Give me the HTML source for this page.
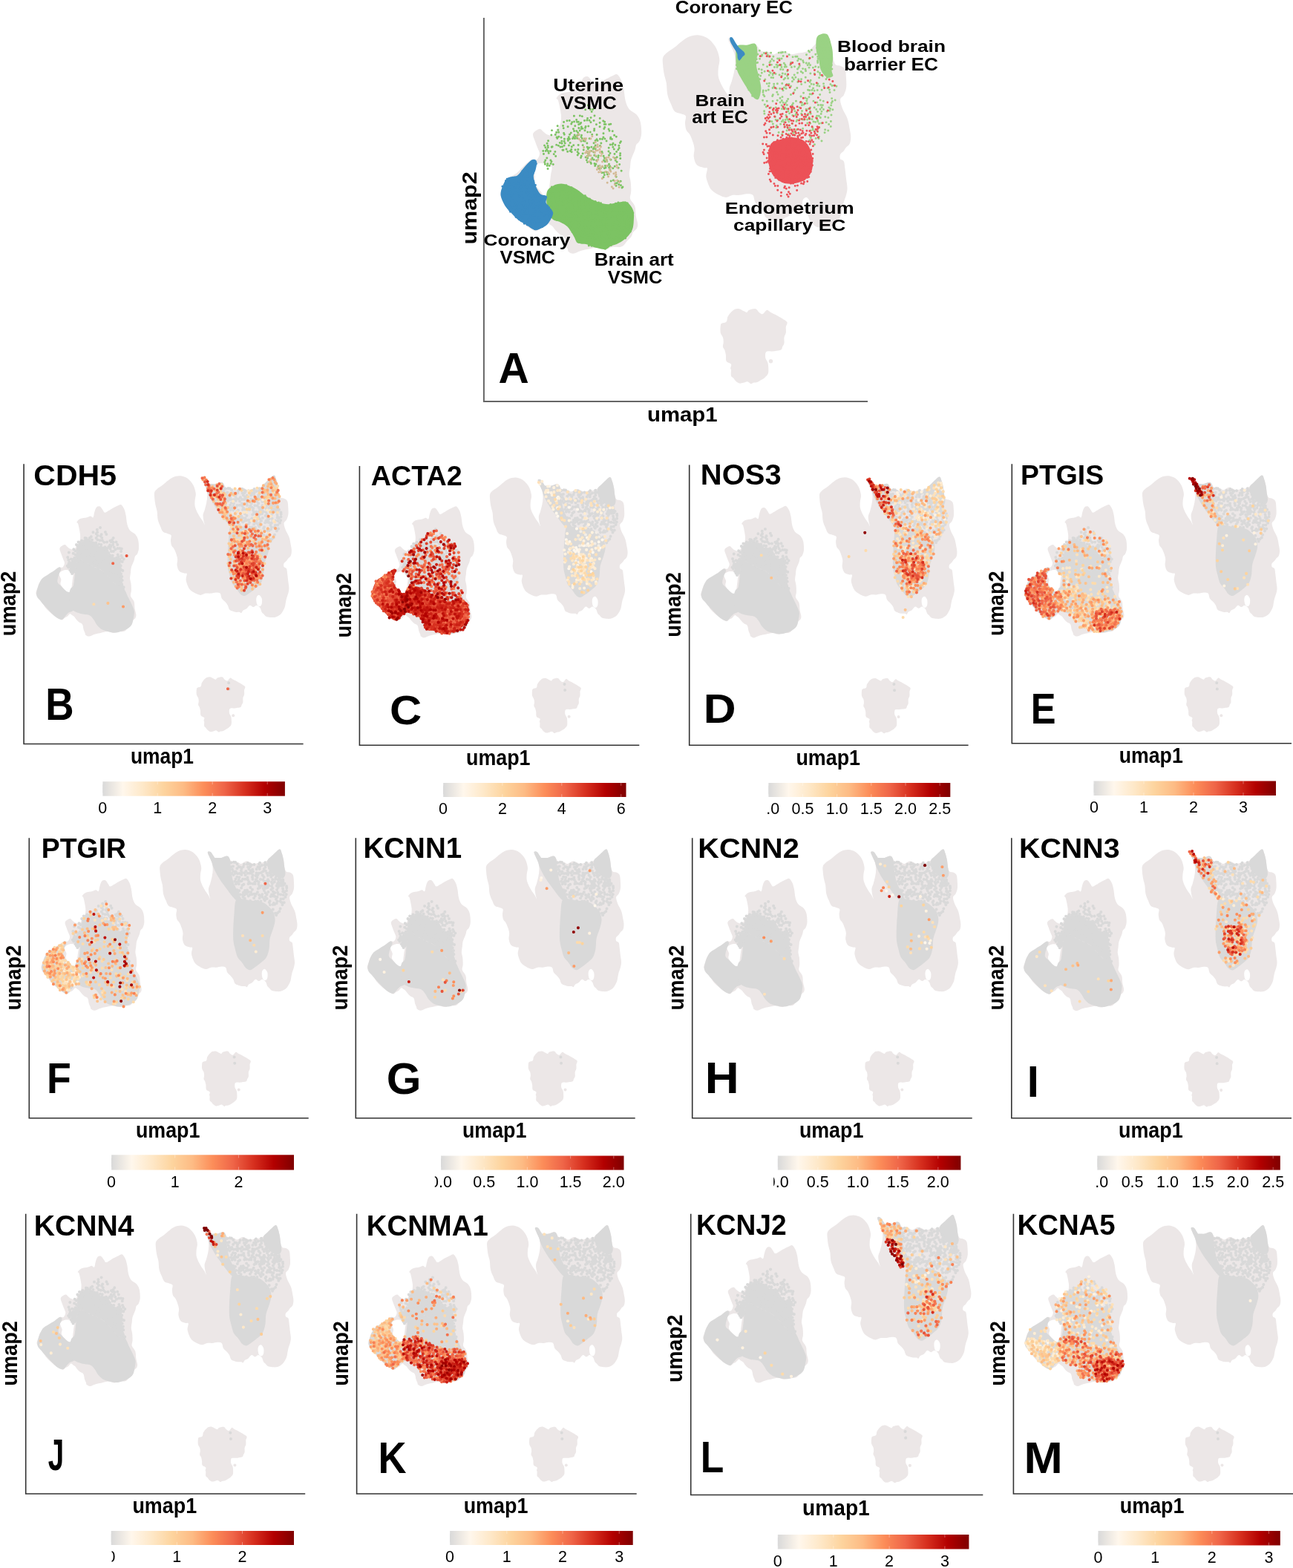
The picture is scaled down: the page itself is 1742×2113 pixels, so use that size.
<!DOCTYPE html><html><head><meta charset="utf-8"><style>html,body{margin:0;padding:0;background:#fff}svg{display:block}</style></head><body>
<svg xmlns="http://www.w3.org/2000/svg" xmlns:xlink="http://www.w3.org/1999/xlink" width="1742" height="2113" viewBox="0 0 1742 2113">
<rect width="1742" height="2113" fill="#fff"/>
<defs>
<linearGradient id="cb"><stop offset="0.0000" stop-color="#d9d9d9"/><stop offset="0.1111" stop-color="#fff7ec"/><stop offset="0.2222" stop-color="#fee8c8"/><stop offset="0.3333" stop-color="#fdd49e"/><stop offset="0.4444" stop-color="#fdbb84"/><stop offset="0.5556" stop-color="#fc8d59"/><stop offset="0.6667" stop-color="#ef6548"/><stop offset="0.7778" stop-color="#d7301f"/><stop offset="0.8889" stop-color="#b30000"/><stop offset="1.0000" stop-color="#7f0000"/></linearGradient>
<g id="base" fill="#ece7e7">
<path d="M609.4 1184.1C610.9 1184.9 612.5 1187.8 613.6 1190.1C614.6 1192.5 615.2 1195.1 615.9 1198.4C616.6 1201.8 616.8 1207 617.7 1210.4C618.6 1213.8 619.6 1216.4 621.4 1218.7C623.2 1221 626.9 1222.1 628.8 1224.2C630.6 1226.4 631.7 1228.5 632.5 1231.6C633.2 1234.7 633.5 1239.6 633.4 1242.7C633.2 1245.7 632.4 1248.2 631.5 1250C630.7 1251.9 629.1 1252.2 628.3 1253.7C627.5 1255.3 627.8 1256.8 626.9 1259.3C626.1 1261.7 624 1265.7 623.2 1268.5C622.5 1271.2 622.6 1273.4 622.3 1275.9C622 1278.3 621.3 1280.8 621.4 1283.2C621.5 1285.7 622.5 1287.8 622.8 1290.6C623.1 1293.4 623.3 1297.1 623.2 1299.8C623.2 1302.6 621.7 1304.7 622.3 1307.2C622.9 1309.6 626 1311.8 626.9 1314.6C627.9 1317.3 627.4 1320.9 627.9 1323.8C628.3 1326.7 629.5 1329.9 629.7 1332.1C629.9 1334.2 629.5 1335.3 628.8 1336.7C628 1338.1 626 1339 625.1 1340.4C624.2 1341.8 624.2 1343.6 623.2 1345C622.3 1346.4 620.8 1347.3 619.6 1348.7C618.3 1350 617.1 1352.2 615.9 1353.3C614.6 1354.3 614 1354.8 612.2 1355.1C610.3 1355.4 607.1 1354.8 604.8 1355.1C602.5 1355.4 600.7 1357 598.4 1357C596.1 1357 593.8 1355.1 591 1355.1C588.2 1355.1 584.7 1356.3 581.8 1357C578.9 1357.6 576.1 1358 573.5 1358.8C570.9 1359.6 568.1 1361.4 566.1 1361.6C564.1 1361.7 562.4 1360.5 561.5 1359.7C560.6 1359 561 1358.2 560.6 1357C560.1 1355.7 559.3 1354.3 558.7 1352.4C558.1 1350.4 558 1346.7 556.9 1345C555.8 1343.3 553.7 1343.3 552.3 1342.2C550.9 1341.1 549.7 1339.8 548.6 1338.5C547.5 1337.3 546.8 1335.8 545.8 1334.8C544.9 1333.9 544 1333.6 543.1 1333C542.1 1332.4 541.4 1330.8 540.3 1331.2C539.2 1331.5 537.8 1333.9 536.6 1334.8C535.4 1335.8 534.2 1335.9 532.9 1336.7C531.7 1337.5 530.8 1339.4 529.2 1339.4C527.7 1339.4 525.6 1337.8 523.7 1336.7C521.9 1335.6 520 1334.4 518.2 1333C516.3 1331.6 514.5 1330.1 512.6 1328.4C510.8 1326.7 508.8 1325 507.1 1322.9C505.4 1320.7 504 1317.8 502.5 1315.5C501 1313.2 499.3 1311 497.9 1309C496.5 1307.1 494.5 1306 494.2 1304C493.9 1302 495.3 1299.4 496.1 1297.1C496.8 1294.7 497.6 1291.5 498.8 1289.7C500.1 1287.8 501.6 1287.2 503.4 1286C505.3 1284.8 508 1283.7 509.9 1282.3C511.7 1280.9 512.8 1279.4 514.5 1277.7C516.2 1276 518.2 1273.7 520 1272.2C521.9 1270.6 523.9 1269.1 525.6 1268.5C527.2 1267.9 528.9 1269.4 530.2 1268.5C531.4 1267.6 532.8 1264.8 532.9 1262.9C533.1 1261.1 531.9 1259.6 531.1 1257.4C530.3 1255.3 529.1 1252.5 528.3 1250C527.5 1247.6 525.7 1244.7 526.5 1242.7C527.2 1240.7 531.2 1238.4 532.9 1238.1C534.6 1237.8 535.4 1239.9 536.6 1240.8C537.8 1241.8 538.8 1243 540.3 1243.6C541.8 1244.2 544.3 1245.3 545.8 1244.5C547.4 1243.7 548.3 1240.8 549.5 1239C550.7 1237.1 552.4 1235.9 553.2 1233.5C554 1231 554.4 1228.1 554.1 1224.2C553.8 1220.4 552.1 1213.2 551.4 1210.4C550.6 1207.6 549.1 1208.9 549.5 1207.6C550 1206.4 551.8 1204.1 554.1 1203C556.4 1202 561 1201.8 563.3 1201.2C565.6 1200.6 566.6 1199.4 567.9 1199.4C569.3 1199.4 570.7 1202.1 571.6 1201.2C572.6 1200.3 572.7 1196.1 573.5 1193.8C574.2 1191.5 575 1188.6 576.2 1187.4C577.5 1186.1 579.5 1185.8 580.9 1186.5C582.2 1187.1 583.5 1189.7 584.5 1191.1C585.6 1192.4 585.9 1194.6 587.3 1194.7C588.7 1194.9 591.1 1192.9 592.8 1192C594.5 1191.1 595.4 1190.3 597.4 1189.2C599.4 1188.1 602.8 1186.4 604.8 1185.5C606.8 1184.7 608 1183.4 609.4 1184.1Z"/>
<path d="M689.2 1145.2C692.2 1145.4 695.7 1146.4 698.4 1148.1C701.1 1149.7 703.6 1152.7 705.3 1155C707 1157.3 707.9 1159.4 708.8 1161.9C709.6 1164.4 710.4 1167.3 710.5 1170C710.6 1172.6 709.5 1175.3 709.3 1178C709.1 1180.7 708.9 1183.4 709.3 1186.1C709.8 1188.8 711.1 1191.7 712.2 1194.1C713.4 1196.6 714.9 1198.9 716.2 1201.1C717.6 1203.2 719.2 1205.1 720.3 1206.8C721.3 1208.5 722.5 1211.8 722.6 1211.4C722.7 1211 721.2 1206.8 720.9 1204.5C720.5 1202.2 720 1199.9 720.3 1197.6C720.6 1195.3 721.8 1193.4 722.6 1190.7C723.3 1188 724.3 1184.5 724.9 1181.5C725.5 1178.4 726 1175.3 726 1172.3C726 1169.2 725.7 1165.9 724.9 1163C724.1 1160.2 722.4 1157.3 721.4 1155C720.5 1152.7 719.1 1150.4 719.1 1149.2C719.1 1148.1 720.5 1147.7 721.4 1148.1C722.4 1148.4 723.7 1150 724.9 1151.5C726 1153.1 727 1156.1 728.3 1157.3C729.7 1158.4 731.4 1158.6 732.9 1158.4C734.5 1158.2 735.6 1156.9 737.6 1156.1C739.5 1155.4 742.7 1153.8 744.5 1153.8C746.2 1153.8 746.8 1155 747.9 1156.1C749.1 1157.3 749.5 1159.8 751.4 1160.7C753.3 1161.7 757.3 1161.3 759.4 1161.9C761.6 1162.5 762.1 1164.4 764.1 1164.2C766 1164 769 1161.1 771 1160.7C772.9 1160.4 773.8 1161.3 775.6 1161.9C777.3 1162.5 779.2 1164 781.3 1164.2C783.4 1164.4 785.9 1163.4 788.2 1163C790.6 1162.7 793.2 1162.5 795.2 1161.9C797.1 1161.3 798 1160.9 799.8 1159.6C801.5 1158.2 803.6 1155.6 805.5 1153.8C807.5 1152.1 809.6 1150.8 811.3 1149.2C813 1147.7 814.6 1144.4 815.9 1144.6C817.2 1144.8 818.4 1147.9 819.4 1150.4C820.3 1152.9 821.1 1156.5 821.7 1159.6C822.2 1162.7 822.2 1166.3 822.8 1168.8C823.4 1171.3 824 1173.4 825.1 1174.6C826.3 1175.7 828.2 1174.9 829.7 1175.7C831.3 1176.5 833.4 1177.1 834.3 1179.2C835.3 1181.3 835.3 1185.3 835.5 1188.4C835.7 1191.5 835.9 1194.9 835.5 1197.6C835.1 1200.3 834.1 1202.6 833.2 1204.5C832.2 1206.4 829.9 1206.8 829.7 1209.1C829.5 1211.4 830.9 1215.3 832 1218.3C833.2 1221.4 835.5 1224.3 836.6 1227.6C837.8 1230.8 838.4 1234.9 838.9 1237.9C839.5 1241 840.1 1243.5 840.1 1246C840.1 1248.5 839.7 1251.2 838.9 1252.9C838.2 1254.6 836.4 1255.2 835.5 1256.4C834.5 1257.5 834.1 1258.7 833.2 1259.8C832.2 1261 830.3 1261.9 829.7 1263.3C829.1 1264.6 829.1 1266.7 829.7 1267.9C830.3 1269 832.4 1268.6 833.2 1270.2C833.9 1271.7 833.9 1274.2 834.3 1277.1C834.7 1280 835.1 1284.2 835.5 1287.5C835.9 1290.7 836.6 1294 836.6 1296.7C836.6 1299.4 836.1 1301.3 835.5 1303.6C834.9 1305.9 833.8 1308.4 833.2 1310.5C832.6 1312.6 832.4 1314.3 832 1316.3C831.6 1318.2 831.6 1319.9 830.9 1322C830.1 1324.1 828.8 1327 827.4 1328.9C826.1 1330.9 824.5 1332.4 822.8 1333.5C821.1 1334.7 819 1335.5 817.1 1335.9C815.1 1336.2 813.2 1336 811.3 1335.9C809.4 1335.7 807.1 1335.5 805.5 1334.7C804 1333.9 803 1332.2 802.1 1331.2C801.1 1330.3 800.5 1330.3 799.8 1328.9C799 1327.6 798.6 1324.7 797.5 1323.2C796.3 1321.6 794.4 1319.9 792.9 1319.7C791.3 1319.5 789.8 1322 788.2 1322C786.7 1322 785.2 1319.3 783.6 1319.7C782.1 1320.1 780.6 1323.2 779 1324.3C777.5 1325.5 775.6 1325.7 774.4 1326.6C773.3 1327.6 772.9 1329.7 772.1 1330.1C771.4 1330.5 771 1329.1 769.8 1328.9C768.7 1328.7 766.7 1329.1 765.2 1328.9C763.7 1328.7 762.1 1328.4 760.6 1327.8C759.1 1327.2 757.1 1326.8 756 1325.5C754.8 1324.1 754.6 1321.5 753.7 1319.7C752.7 1318 751.6 1316.7 750.2 1315.1C748.9 1313.6 746.8 1312.4 745.6 1310.5C744.5 1308.6 744.7 1304.9 743.3 1303.6C742 1302.3 739.7 1302.4 737.6 1302.4C735.4 1302.4 732.9 1303.4 730.6 1303.6C728.3 1303.8 726 1303.2 723.7 1303.6C721.4 1304 719.1 1305.9 716.8 1305.9C714.5 1305.9 712.2 1304.7 709.9 1303.6C707.6 1302.4 704.7 1300.7 703 1299C701.3 1297.3 700.5 1295.5 699.5 1293.2C698.6 1290.9 697.4 1287.8 697.2 1285.2C697 1282.5 698.8 1278.5 698.4 1277.1C698 1275.7 696.7 1277.1 694.9 1276.5C693.2 1275.9 689.7 1275.5 688 1273.6C686.4 1271.8 685.5 1268.3 685.1 1265.6C684.8 1262.9 685.9 1260 685.7 1257.5C685.5 1255 684.8 1252.9 684 1250.6C683.2 1248.3 682.2 1245.6 681.1 1243.7C680 1241.8 678.4 1241 677.6 1239.1C676.9 1237.2 676.6 1234.5 676.5 1232.2C676.4 1229.9 677.8 1226.8 677.1 1225.3C676.3 1223.7 673.7 1223.7 671.9 1222.9C670.1 1222.2 667.7 1222.2 666.1 1220.6C664.6 1219.1 663.8 1216.4 662.7 1213.7C661.5 1211 660 1208 659.2 1204.5C658.4 1201.1 658.6 1196.5 658.1 1193C657.5 1189.5 656.3 1186.9 655.8 1183.8C655.2 1180.7 654.8 1177.3 654.6 1174.6C654.4 1171.9 654 1169.6 654.6 1167.6C655.2 1165.7 656.1 1164.8 658.1 1163C660 1161.3 663.6 1159.2 666.1 1157.3C668.6 1155.4 670.7 1153.2 673 1151.5C675.3 1149.8 677.3 1148 680 1146.9C682.6 1145.9 686.1 1145 689.2 1145.2Z"/>
<path d="M725.3 1416.9C726.5 1416.5 728.4 1416 730 1416.3C731.5 1416.6 733.3 1418.1 734.6 1418.6C735.8 1419.2 736.6 1420 737.4 1419.8C738.3 1419.6 738.3 1418.1 739.7 1417.5C741.2 1416.9 744.5 1416 746.1 1416.3C747.7 1416.7 748.4 1418.9 749.5 1419.8C750.7 1420.7 751.9 1421.7 753 1421.5C754.1 1421.3 755.1 1419.3 755.9 1418.6C756.6 1418 756.7 1417.3 757.6 1417.5C758.5 1417.7 759.7 1419 761.1 1419.8C762.4 1420.6 763.7 1421 765.7 1422.1C767.6 1423.2 770.7 1424.9 772.6 1426.1C774.5 1427.4 776.6 1428.2 777.2 1429.6C777.8 1430.9 776.2 1432.5 776 1434.2C775.8 1435.9 776.3 1438.2 776 1440C775.7 1441.7 774.6 1442.8 774.3 1444.6C774 1446.3 774.6 1448.8 774.3 1450.3C774 1451.9 773.1 1452.7 772.6 1453.8C772.1 1454.8 772.4 1456 771.4 1456.7C770.5 1457.3 768.4 1457.5 766.8 1457.8C765.3 1458.1 763.7 1458.3 762.2 1458.4C760.7 1458.5 758.7 1458.1 757.6 1458.4C756.5 1458.7 756.2 1459 755.9 1460.1C755.6 1461.3 755.5 1463.7 755.9 1465.3C756.3 1466.9 757.7 1468 758.2 1469.9C758.7 1471.8 758.8 1475 758.8 1476.8C758.8 1478.6 758.8 1479.6 758.2 1480.9C757.6 1482.1 756.4 1483.3 755.3 1484.3C754.2 1485.3 753.1 1485.8 751.8 1486.6C750.6 1487.4 749.2 1488.4 747.8 1488.9C746.5 1489.4 744.8 1489.2 743.8 1489.5C742.7 1489.8 742.4 1490.8 741.5 1490.6C740.5 1490.5 739.3 1488.5 738 1488.3C736.8 1488.1 735.3 1489.2 734 1489.5C732.6 1489.8 731.2 1490.4 730 1490.1C728.7 1489.8 727.5 1488.6 726.5 1487.8C725.5 1486.9 725 1485.7 724.2 1484.9C723.4 1484 722.3 1483.9 721.9 1482.6C721.5 1481.2 722 1478.1 721.9 1476.8C721.8 1475.6 721.3 1476.1 721.3 1475.1C721.3 1474.1 722.6 1472.2 721.9 1471.1C721.2 1469.9 718.1 1469.7 717.3 1468.2C716.4 1466.6 717 1463.7 716.7 1461.8C716.4 1460 716 1458.6 715.6 1457.2C715.1 1455.9 714 1455.1 713.8 1453.8C713.6 1452.4 714.4 1450.7 714.4 1449.2C714.4 1447.6 714.3 1446.1 713.8 1444.6C713.3 1443 711.9 1441.9 711.5 1440C711.1 1438 711.3 1434.6 711.5 1433C711.7 1431.5 711.7 1431.4 712.7 1430.7C713.6 1430.1 716.3 1430.1 717.3 1429C718.2 1428 717.9 1425.7 718.4 1424.4C719 1423.1 720 1421.9 720.7 1420.9C721.5 1420 722.3 1419.3 723 1418.6C723.8 1418 724.2 1417.3 725.3 1416.9Z"/>
<path fill="#fff" d="M526 1275.9C527.1 1274.5 530.5 1272.6 532.9 1272.2C535.3 1271.7 538.3 1272.5 540.3 1273.1C542.3 1273.7 544.3 1274.2 544.9 1275.9C545.5 1277.5 544.3 1280.8 544 1283.2C543.7 1285.7 543.4 1288.1 543.1 1290.6C542.8 1293.1 542.6 1295.4 542.1 1298C541.7 1300.6 541.2 1305.3 540.3 1306.3C539.4 1307.2 537.8 1304.7 536.6 1303.5C535.4 1302.3 534.2 1300.4 532.9 1298.9C531.7 1297.4 530.2 1295.7 529.2 1294.3C528.3 1292.9 527.5 1292.1 527.4 1290.6C527.2 1289.1 528.5 1286.8 528.3 1285.1C528.2 1283.4 526.9 1282 526.5 1280.5C526.1 1278.9 524.9 1277.2 526 1275.9Z"/>
<path fill="#fff" d="M792.9 1308.2C793.5 1306.9 795.2 1305.5 796.3 1305.9C797.5 1306.3 799.2 1308.6 799.8 1310.5C800.3 1312.4 800.2 1315.7 799.8 1317.4C799.4 1319.1 798.4 1320.5 797.5 1320.9C796.5 1321.3 794.9 1320.9 794 1319.7C793.1 1318.6 792.5 1315.9 792.3 1314C792.1 1312 792.2 1309.5 792.9 1308.2Z"/>
<path d="M761.1 1468.2h0" stroke="#ece7e7" stroke-width="4.00" stroke-linecap="round" fill="none"/>
</g>
<g id="hl" fill="#d9d9d9">
<path d="M494.9 1304.6C494.9 1299.9 498.2 1290.4 500.8 1286C503.4 1281.6 507.6 1280.3 510.6 1278.2C513.5 1276 516 1274.9 518.4 1273.3C520.9 1271.6 523.6 1268.7 525.3 1268.4C526.9 1268 528.2 1269.7 528.2 1271.3C528.2 1272.9 526.1 1275.4 525.3 1278.1C524.5 1280.9 523 1285.5 523.3 1287.9C523.6 1290.4 525.8 1291.2 527.2 1292.8C528.7 1294.5 530.5 1296.3 532.1 1297.7C533.8 1299.2 535.4 1300.8 537 1301.6C538.7 1302.4 540.7 1301.3 542.1 1302.6C543.6 1303.8 545.1 1306.4 545.8 1309C546.6 1311.6 546.9 1315.3 546.8 1318.2C546.6 1321.2 546.2 1324.7 544.9 1326.5C543.6 1328.4 540.6 1328.2 539 1329.3C537.4 1330.4 536.7 1331.4 535.1 1333C533.4 1334.6 531.6 1338.5 529.2 1338.9C526.7 1339.2 523.5 1337.2 520.4 1335C517.3 1332.7 513.8 1328.6 510.6 1325.2C507.3 1321.7 503.4 1317.8 500.8 1314.4C498.2 1311 494.9 1309.3 494.9 1304.6Z"/>
<path d="M539 1306.6C539 1302.5 540 1300 540.9 1297.7C541.9 1295.5 543.9 1296.1 544.9 1292.8C545.8 1289.6 546.2 1283 546.8 1278.1C547.5 1273.3 547.5 1266.7 548.8 1263.5C550.1 1260.2 552 1258.6 554.7 1258.6C557.3 1258.6 561.2 1261.8 564.4 1263.5C567.7 1265.1 571 1266.7 574.2 1268.4C577.5 1270 580.8 1270.8 584 1273.3C587.3 1275.7 590.6 1279.8 593.8 1283.1C597.1 1286.3 600.4 1290.4 603.6 1292.8C606.9 1295.3 611 1295.3 613.4 1297.7C615.9 1300.2 616.7 1304.3 618.3 1307.5C620 1310.8 621.8 1314.1 623.2 1317.3C624.7 1320.6 626.6 1323.9 627.1 1327.1C627.6 1330.4 626.8 1333.6 626.2 1336.9C625.5 1340.2 625 1344.1 623.2 1346.7C621.4 1349.3 618.7 1351 615.4 1352.6C612.1 1354.2 607.2 1356 603.6 1356.5C600 1357 597.1 1356.2 593.8 1355.5C590.6 1354.9 586.8 1354 584 1352.6C581.3 1351.1 579.2 1349 577.2 1346.7C575.2 1344.4 574.1 1341.2 572.3 1338.9C570.5 1336.6 569.3 1334.3 566.4 1333C563.5 1331.7 558.3 1332 554.7 1331C551.1 1330.1 547.1 1328.6 544.9 1327.1C542.6 1325.6 541.9 1325.7 540.9 1322.2C540 1318.8 539 1310.6 539 1306.6Z"/>
<path d="M719.1 1148.1C719.5 1147.1 721.8 1147.1 723.2 1148.1C724.5 1149 725.9 1151.9 727.2 1153.8C728.4 1155.7 729.5 1157.7 730.6 1159.6C731.8 1161.5 733.2 1163.4 734.1 1165.3C735 1167.3 736 1169.8 735.8 1171.1C735.6 1172.5 734 1173.8 732.9 1173.4C731.9 1173 730.8 1170.7 729.5 1168.8C728.1 1166.9 726.3 1164.4 724.9 1161.9C723.4 1159.4 721.8 1156.1 720.9 1153.8C719.9 1151.5 718.7 1149 719.1 1148.1Z"/>
<path d="M723.7 1157.3C724.7 1156.1 728.3 1156.3 730.6 1156.1C732.9 1155.9 735.1 1156.5 737.6 1156.1C740.1 1155.7 743.7 1153.4 745.6 1153.8C747.5 1154.2 748.3 1155.9 749.1 1158.4C749.8 1160.9 749.8 1165.5 750.2 1168.8C750.6 1172.1 750.8 1174.8 751.4 1178C752 1181.3 752.5 1184.9 753.7 1188.4C754.8 1191.8 756.8 1195.5 758.3 1198.8C759.8 1202 761.8 1205.5 762.9 1208C764.1 1210.5 766 1212.8 765.2 1213.7C764.4 1214.7 760.6 1214.9 758.3 1213.7C756 1212.6 753.7 1209.5 751.4 1206.8C749.1 1204.1 746.8 1200.7 744.5 1197.6C742.2 1194.5 739.7 1191.5 737.6 1188.4C735.4 1185.3 733.5 1182.2 731.8 1179.2C730.1 1176.1 728.3 1172.6 727.2 1170C726 1167.3 725.5 1165.2 724.9 1163C724.3 1160.9 722.8 1158.4 723.7 1157.3Z"/>
<path d="M757.1 1213.7C758.9 1210.3 761.9 1211.4 765.2 1211.4C768.5 1211.4 772.9 1213.2 776.7 1213.7C780.6 1214.3 784.8 1214.1 788.2 1214.9C791.7 1215.7 794.4 1216.2 797.5 1218.3C800.5 1220.5 804.6 1224.1 806.7 1227.6C808.8 1231 809.9 1235.2 810.1 1239.1C810.3 1242.9 809 1246.4 807.8 1250.6C806.7 1254.8 804.2 1259.8 803.2 1264.4C802.3 1269 802.8 1274 802.1 1278.2C801.3 1282.5 800.3 1286.7 798.6 1289.8C796.9 1292.8 794.4 1294.4 791.7 1296.7C789 1299 785 1301.9 782.5 1303.6C780 1305.3 778.6 1306.9 776.7 1307.1C774.8 1307.2 772.9 1306.5 771 1304.7C769 1303 767.1 1299.2 765.2 1296.7C763.3 1294.2 761 1292.8 759.4 1289.8C757.9 1286.7 757 1282.1 756 1278.2C755 1274.4 754.1 1271.5 753.7 1266.7C753.3 1261.9 753.5 1255.2 753.7 1249.4C753.9 1243.7 754.3 1238.1 754.8 1232.2C755.4 1226.2 755.4 1217.2 757.1 1213.7Z"/>
<path d="M799.8 1159.6C800.7 1157.3 802.8 1156.3 805.5 1153.8C808.2 1151.3 813.6 1145.2 815.9 1144.6C818.2 1144 818.4 1147.9 819.4 1150.4C820.3 1152.9 821.1 1156.5 821.7 1159.6C822.2 1162.7 822.4 1165.7 822.8 1168.8C823.2 1171.9 824.3 1175.5 824 1178C823.6 1180.5 822.6 1183.2 820.5 1183.8C818.4 1184.4 814 1183 811.3 1181.5C808.6 1179.9 806.3 1176.9 804.4 1174.6C802.5 1172.3 800.5 1170.1 799.8 1167.6C799 1165.2 798.8 1161.9 799.8 1159.6Z"/>
<path d="M540.3 1272.2C539.5 1269.4 540.9 1261.4 542.1 1259.3C543.4 1257.1 546 1262.9 547.7 1259.3C549.4 1255.6 550.3 1241.3 552.3 1237.1C554.3 1233 556.8 1235.1 559.6 1234.4C562.3 1233.6 565.7 1231.7 568.8 1232.5C571.9 1233.4 574.9 1238 578 1239.4C581.1 1240.9 585 1239.5 587.2 1241.3C589.4 1243.1 588.7 1247.7 591 1250C593.3 1252.4 598.4 1254.7 601 1255.1C603.6 1255.6 605.5 1251 606.7 1252.8C607.8 1254.7 607.5 1260.9 608 1266.2C608.6 1271.5 608.9 1279 609.9 1284.6C610.9 1290.2 615.1 1298.4 614 1299.8C613 1301.2 607 1295.6 603.6 1292.8C600.2 1290 597 1286.3 593.8 1283C590.5 1279.8 587.2 1275.6 584 1273.2C580.7 1270.7 577.5 1269.9 574.2 1268.3C571 1266.7 567.7 1265 564.4 1263.4C561.2 1261.8 557.2 1258.5 554.6 1258.5C552 1258.5 550.1 1260.5 548.8 1263.4C547.5 1266.3 548.2 1274.4 546.8 1275.9C545.3 1277.3 541.1 1274.9 540.3 1272.2Z"/>
<path d="M581.2 1215.1h0M577.0 1217.8h0M571.6 1221.2h0M577.3 1221.2h0M588.1 1220.9h0M575.8 1223.2h0M582.8 1224.2h0M589.5 1223.9h0M568.9 1227.3h0M577.6 1225.7h0M581.7 1226.3h0M560.6 1229.1h0M562.4 1229.5h0M566.9 1228.9h0M575.7 1228.9h0M583.4 1228.8h0M598.9 1228.9h0M577.6 1231.5h0M580.6 1232.3h0M584.1 1232.3h0M594.6 1232.8h0M597.2 1231.6h0M586.4 1234.7h0M590.2 1234.5h0M596.0 1234.3h0M598.9 1234.8h0M602.8 1234.4h0M549.0 1238.1h0M594.3 1238.4h0M598.3 1238.0h0M604.5 1238.1h0M592.5 1241.0h0M595.6 1240.6h0M599.9 1241.4h0M545.3 1244.3h0M590.6 1242.9h0M594.7 1243.5h0M601.6 1244.4h0M604.7 1243.1h0M607.6 1243.1h0M610.1 1243.6h0M596.2 1246.9h0M599.1 1247.1h0M609.4 1246.9h0M538.9 1248.6h0M544.7 1249.8h0M609.7 1252.7h0M610.7 1255.0h0M612.9 1257.6h0M611.0 1260.9h0M611.6 1272.9h0M556.1 1232.5h0M560.1 1232.7h0M562.6 1231.7h0M565.8 1231.7h0M570.1 1231.6h0M551.6 1234.6h0M554.5 1234.9h0M558.7 1235.2h0M560.6 1234.7h0M564.2 1235.6h0M568.6 1235.5h0M571.9 1235.4h0M575.4 1235.5h0M549.5 1238.5h0M553.2 1238.3h0M556.6 1237.8h0M559.6 1237.8h0M562.8 1237.3h0M566.9 1238.4h0M570.5 1238.2h0M573.1 1238.3h0M575.7 1238.2h0M579.5 1237.3h0M582.4 1237.9h0M551.1 1240.7h0M555.0 1240.6h0M561.0 1240.3h0M564.2 1240.5h0M567.3 1241.0h0M572.1 1240.6h0M575.0 1241.5h0M577.2 1240.1h0M581.8 1241.3h0M587.7 1241.3h0M550.5 1244.1h0M552.7 1244.2h0M556.3 1244.0h0M559.2 1244.4h0M565.9 1243.8h0M569.8 1243.7h0M572.8 1244.0h0M576.0 1243.3h0M579.0 1243.9h0M582.3 1243.1h0M585.5 1243.8h0M589.6 1243.7h0M547.5 1246.4h0M551.3 1245.8h0M557.5 1246.1h0M561.1 1246.6h0M564.0 1246.4h0M567.8 1247.0h0M570.5 1246.2h0M581.5 1246.1h0M583.8 1246.5h0M588.5 1246.8h0M590.7 1246.8h0M550.5 1248.9h0M553.3 1249.1h0M556.1 1249.0h0M559.3 1249.1h0M562.3 1249.1h0M565.7 1249.7h0M569.9 1248.5h0M573.4 1248.8h0M576.3 1249.4h0M579.3 1249.0h0M582.8 1248.7h0M586.8 1248.7h0M590.0 1248.8h0M592.5 1249.1h0M547.5 1251.6h0M551.3 1252.1h0M555.5 1253.0h0M557.4 1252.2h0M560.8 1252.7h0M568.1 1251.6h0M570.5 1251.8h0M575.3 1251.6h0M577.9 1252.0h0M581.0 1252.7h0M584.1 1252.5h0M588.1 1252.9h0M591.2 1252.9h0M594.3 1252.3h0M597.9 1252.7h0M605.0 1251.5h0M537.2 1255.1h0M546.3 1255.8h0M549.6 1254.3h0M552.5 1254.3h0M556.9 1254.4h0M560.2 1255.6h0M563.9 1255.5h0M566.3 1255.2h0M570.2 1255.4h0M572.7 1255.5h0M575.7 1254.7h0M580.4 1255.0h0M582.5 1255.5h0M586.1 1254.2h0M588.7 1254.6h0M592.5 1255.8h0M603.5 1255.5h0M606.0 1254.6h0M538.3 1258.6h0M541.7 1257.4h0M544.7 1257.8h0M547.7 1258.0h0M550.8 1258.4h0M554.3 1257.2h0M558.3 1257.6h0M562.1 1257.9h0M564.8 1258.4h0M567.6 1258.3h0M571.6 1257.8h0M575.4 1257.1h0M578.5 1257.3h0M583.8 1257.9h0M588.5 1257.5h0M591.1 1258.1h0M594.0 1257.9h0M596.9 1257.8h0M601.5 1257.6h0M603.9 1257.1h0M608.0 1257.8h0M539.3 1261.4h0M544.0 1261.3h0M547.1 1261.0h0M550.3 1261.0h0M559.9 1260.3h0M562.5 1261.1h0M566.6 1260.0h0M573.0 1261.2h0M576.9 1260.5h0M580.1 1260.7h0M583.0 1260.6h0M586.9 1260.7h0M590.2 1260.5h0M593.1 1261.4h0M596.4 1260.5h0M598.7 1260.7h0M602.6 1261.3h0M606.5 1261.5h0M609.2 1260.6h0M538.5 1264.0h0M541.0 1263.1h0M544.4 1263.3h0M547.9 1264.4h0M567.6 1264.3h0M571.0 1263.1h0M575.4 1262.9h0M577.3 1263.0h0M584.1 1263.0h0M587.0 1263.9h0M590.4 1263.2h0M594.6 1264.2h0M598.0 1263.9h0M604.9 1263.0h0M606.9 1263.8h0M536.7 1266.5h0M540.5 1265.9h0M543.6 1266.3h0M546.5 1266.0h0M572.6 1266.6h0M579.2 1266.8h0M582.2 1266.7h0M585.6 1267.1h0M590.3 1266.1h0M593.3 1266.0h0M595.8 1265.8h0M599.3 1265.8h0M603.0 1266.6h0M605.9 1266.8h0M608.9 1266.2h0M538.1 1268.5h0M542.3 1268.6h0M544.3 1269.8h0M578.5 1269.2h0M581.1 1268.7h0M583.7 1269.4h0M587.4 1268.7h0M591.8 1268.5h0M594.2 1269.7h0M598.2 1268.7h0M601.4 1269.4h0M604.6 1270.0h0M608.1 1269.5h0M540.4 1272.2h0M543.4 1272.7h0M546.8 1272.0h0M585.9 1272.1h0M589.1 1272.3h0M592.6 1272.7h0M596.3 1272.3h0M599.9 1272.1h0M602.8 1272.6h0M606.4 1272.6h0M609.9 1272.3h0M541.7 1274.5h0M544.5 1274.9h0M587.8 1275.7h0M590.4 1274.8h0M598.3 1274.5h0M601.5 1274.9h0M604.5 1274.3h0M607.5 1275.5h0M543.2 1277.1h0M589.9 1278.1h0M592.6 1278.5h0M595.5 1278.6h0M602.8 1277.8h0M606.7 1277.9h0M609.3 1277.2h0M594.9 1281.0h0M597.3 1280.1h0M600.9 1281.5h0M605.0 1280.7h0M606.9 1281.3h0M610.5 1281.1h0M596.1 1284.4h0M598.8 1284.1h0M603.1 1282.8h0M606.1 1283.3h0M609.6 1284.4h0M598.0 1286.5h0M601.2 1286.0h0M604.3 1285.8h0M608.0 1285.7h0M611.0 1285.9h0M602.8 1288.6h0M605.2 1289.5h0M609.7 1290.0h0M603.8 1292.4h0M607.9 1291.6h0M610.4 1291.8h0M612.9 1295.2h0M750.7 1162.7h0M754.3 1161.9h0M756.5 1162.2h0M773.3 1163.1h0M789.6 1163.0h0M796.7 1162.3h0M759.0 1164.6h0M768.3 1165.0h0M772.4 1164.7h0M775.8 1164.6h0M778.2 1165.8h0M781.9 1165.2h0M788.5 1164.5h0M792.4 1166.1h0M796.1 1165.6h0M798.3 1165.1h0M751.0 1168.4h0M753.4 1167.7h0M761.1 1168.2h0M763.1 1168.7h0M767.1 1168.2h0M773.6 1168.6h0M776.5 1168.2h0M786.8 1168.4h0M789.6 1168.1h0M796.9 1168.9h0M752.3 1171.8h0M758.8 1170.5h0M764.8 1170.6h0M774.7 1171.2h0M779.6 1171.8h0M785.1 1171.5h0M789.2 1171.2h0M795.2 1171.2h0M802.5 1170.5h0M753.7 1174.5h0M757.0 1174.6h0M764.3 1173.4h0M770.8 1174.2h0M777.0 1173.4h0M780.3 1174.7h0M793.8 1174.5h0M797.4 1174.0h0M803.9 1174.0h0M751.6 1177.1h0M756.3 1177.2h0M759.6 1177.4h0M762.3 1177.2h0M765.4 1176.1h0M768.6 1176.4h0M772.9 1177.0h0M775.5 1176.9h0M778.2 1176.8h0M785.0 1176.6h0M788.4 1177.0h0M791.4 1176.1h0M799.0 1177.0h0M802.6 1176.5h0M804.4 1176.7h0M753.9 1179.1h0M764.7 1178.8h0M770.0 1179.5h0M779.9 1179.5h0M783.9 1180.2h0M786.6 1179.5h0M793.2 1179.7h0M800.5 1179.9h0M804.3 1179.7h0M807.1 1179.3h0M758.7 1181.8h0M761.8 1182.5h0M772.9 1182.6h0M779.4 1182.2h0M785.9 1182.6h0M795.1 1182.2h0M804.7 1182.0h0M811.0 1183.0h0M815.7 1183.0h0M757.0 1184.7h0M761.2 1185.9h0M766.4 1185.0h0M769.7 1184.8h0M773.3 1185.7h0M779.9 1185.0h0M784.3 1185.5h0M790.4 1185.2h0M793.7 1185.6h0M800.5 1185.3h0M806.7 1185.3h0M810.5 1184.9h0M814.1 1185.3h0M817.3 1185.6h0M820.8 1185.6h0M755.6 1188.0h0M759.2 1188.6h0M762.8 1187.6h0M764.9 1187.5h0M774.8 1188.5h0M782.8 1188.6h0M786.1 1187.4h0M788.2 1188.9h0M795.7 1188.0h0M798.6 1187.9h0M801.5 1187.5h0M805.4 1188.9h0M809.3 1188.6h0M814.7 1188.9h0M818.5 1188.4h0M820.9 1187.7h0M757.3 1191.4h0M761.2 1191.4h0M767.8 1191.8h0M774.0 1191.1h0M776.9 1190.6h0M780.2 1191.2h0M783.1 1191.1h0M787.8 1191.4h0M797.1 1190.5h0M800.3 1191.2h0M806.5 1190.8h0M813.4 1191.0h0M816.2 1190.9h0M819.5 1190.7h0M823.1 1190.8h0M765.8 1193.2h0M788.9 1194.1h0M792.1 1193.8h0M796.0 1193.8h0M799.3 1193.7h0M801.8 1193.6h0M805.5 1194.3h0M812.2 1193.9h0M815.3 1194.1h0M818.7 1193.6h0M821.4 1193.1h0M825.6 1194.4h0M764.5 1196.6h0M776.8 1196.2h0M787.2 1197.5h0M789.7 1196.3h0M794.2 1197.4h0M797.6 1196.8h0M800.0 1196.2h0M806.9 1197.2h0M814.1 1196.1h0M820.6 1197.3h0M825.8 1196.7h0M758.7 1199.4h0M761.6 1200.3h0M769.4 1200.2h0M772.3 1199.7h0M779.4 1198.8h0M795.3 1200.1h0M804.8 1198.9h0M812.6 1199.0h0M821.1 1200.1h0M825.6 1200.4h0M760.2 1202.3h0M767.3 1202.8h0M770.9 1203.0h0M774.2 1202.1h0M777.5 1202.3h0M786.4 1202.4h0M797.0 1203.3h0M800.9 1202.1h0M807.5 1201.7h0M809.8 1203.2h0M813.7 1202.8h0M820.8 1201.7h0M822.8 1202.3h0M762.8 1205.6h0M766.4 1205.8h0M768.8 1206.0h0M771.9 1204.6h0M776.2 1205.9h0M779.0 1205.3h0M781.6 1204.8h0M784.7 1204.6h0M788.6 1206.0h0M792.7 1205.3h0M799.0 1205.7h0M805.5 1205.5h0M807.9 1205.3h0M814.6 1205.2h0M817.8 1205.5h0M821.4 1206.1h0M825.3 1205.3h0M766.7 1208.9h0M774.1 1207.6h0M783.2 1207.7h0M791.0 1207.6h0M792.9 1208.9h0M797.1 1208.5h0M804.3 1208.2h0M807.5 1207.6h0M809.8 1208.2h0M813.0 1208.8h0M824.1 1208.8h0M769.2 1210.9h0M781.6 1210.3h0M789.1 1210.4h0M795.2 1211.7h0M799.1 1211.1h0M811.5 1211.8h0M818.0 1211.7h0M821.3 1211.4h0M776.6 1214.0h0M783.6 1214.7h0M786.9 1214.6h0M791.0 1214.7h0M796.3 1213.5h0M803.1 1214.3h0M813.0 1214.6h0M817.0 1214.5h0M802.2 1216.1h0M808.4 1217.1h0M812.2 1217.3h0M818.8 1216.0h0M822.3 1216.4h0M803.4 1219.3h0M807.2 1219.1h0M809.5 1218.9h0M820.0 1219.4h0M807.3 1225.7h0M817.1 1224.7h0M815.8 1228.4h0M806.2 1230.3h0M810.5 1230.8h0M813.4 1230.4h0M811.7 1233.4h0M755.0 1424.3h0M755.6 1432.5h0" stroke="#d9d9d9" stroke-width="4.00" stroke-linecap="round" fill="none"/>
</g>
</defs>
<g stroke="#666" stroke-width="2" fill="none"><path d="M651.9 24.0 V541.0 H1169.0"/></g>
<g transform="matrix(1.36492 0 0 1.36069 -0.372 -1510.950)"><use xlink:href="#base"/><path d="M580.7 1214.7h0M578.1 1219.1h0M582.9 1218.8h0M585.4 1218.9h0M584.3 1221.1h0M566.9 1225.2h0M572.7 1225.0h0M574.9 1225.7h0M587.1 1225.0h0M580.2 1227.7h0M583.5 1226.9h0M592.4 1227.7h0M560.0 1230.1h0M562.4 1229.8h0M569.3 1229.1h0M577.2 1229.8h0M579.7 1229.4h0M582.0 1229.6h0M586.4 1229.8h0M595.7 1230.2h0M556.8 1231.4h0M571.2 1231.2h0M573.7 1232.1h0M583.4 1231.5h0M592.3 1232.0h0M597.1 1231.2h0M588.9 1233.8h0M596.8 1233.5h0M598.1 1233.5h0M601.5 1233.7h0M603.1 1233.3h0M578.4 1235.7h0M581.1 1235.3h0M592.3 1236.0h0M597.2 1236.4h0M586.9 1238.2h0M596.5 1237.9h0M601.1 1238.3h0M545.0 1239.5h0M601.8 1239.9h0M604.9 1240.4h0M595.9 1242.6h0M544.5 1244.1h0M606.6 1244.4h0M595.8 1246.4h0M603.0 1246.6h0M608.6 1245.9h0M592.6 1248.0h0M594.8 1248.2h0M597.3 1247.9h0M602.8 1247.9h0M604.3 1248.2h0M541.4 1249.8h0M598.9 1250.0h0M613.1 1250.6h0M540.3 1252.5h0M612.3 1251.9h0M541.0 1254.9h0M611.2 1254.6h0M544.8 1256.2h0M611.4 1257.0h0M555.6 1259.0h0M610.4 1258.7h0M612.5 1262.3h0M612.4 1264.4h0M612.6 1267.3h0M611.8 1273.2h0M613.6 1279.6h0M614.9 1295.6h0" stroke="#7cc363" stroke-width="2.20" stroke-linecap="round" fill="none"/><path d="M564.9 1231.5h0M567.0 1231.0h0M569.8 1231.1h0M564.2 1233.2h0M571.5 1233.8h0M573.0 1233.0h0M550.6 1235.2h0M556.0 1235.0h0M560.8 1236.0h0M567.9 1235.1h0M574.2 1236.1h0M556.5 1237.3h0M566.2 1238.2h0M571.6 1237.2h0M574.0 1237.9h0M575.4 1237.7h0M578.0 1237.1h0M551.1 1239.2h0M567.0 1240.2h0M569.4 1240.1h0M572.6 1239.7h0M577.6 1239.6h0M586.8 1239.8h0M549.5 1241.6h0M551.7 1241.5h0M556.8 1242.3h0M563.9 1241.9h0M570.7 1241.8h0M580.3 1241.3h0M582.9 1241.3h0M548.5 1243.9h0M557.3 1243.6h0M562.6 1243.6h0M567.4 1244.2h0M570.1 1244.3h0M571.7 1243.8h0M574.3 1244.3h0M584.7 1243.7h0M589.4 1243.8h0M549.8 1246.3h0M551.8 1245.9h0M554.2 1246.5h0M561.7 1246.2h0M566.3 1246.2h0M568.5 1245.9h0M573.9 1246.1h0M550.3 1247.5h0M557.4 1248.0h0M560.7 1248.0h0M562.5 1248.0h0M565.5 1247.6h0M567.7 1247.7h0M570.0 1247.5h0M574.9 1247.7h0M577.3 1247.8h0M582.1 1247.7h0M589.3 1248.4h0M554.8 1250.2h0M557.2 1250.5h0M561.0 1249.7h0M573.9 1250.3h0M576.2 1249.8h0M577.7 1250.3h0M587.9 1249.7h0M590.1 1249.7h0M552.9 1251.9h0M554.9 1252.5h0M558.0 1252.3h0M563.0 1251.9h0M579.7 1252.3h0M586.4 1252.1h0M593.6 1252.3h0M605.4 1252.4h0M537.7 1254.5h0M549.5 1253.9h0M551.5 1254.7h0M557.1 1254.7h0M561.8 1254.4h0M566.4 1254.2h0M571.1 1254.1h0M575.5 1254.2h0M588.0 1254.4h0M592.6 1254.8h0M602.6 1253.7h0M604.7 1253.7h0M607.5 1254.0h0M538.7 1256.5h0M541.2 1256.5h0M545.4 1255.8h0M553.4 1255.9h0M555.2 1255.7h0M564.6 1255.8h0M579.9 1256.2h0M581.7 1256.6h0M584.1 1256.2h0M586.9 1256.4h0M601.2 1256.8h0M605.3 1256.1h0M540.0 1258.6h0M556.3 1259.0h0M559.3 1258.2h0M564.2 1258.5h0M568.1 1258.9h0M570.9 1258.6h0M576.3 1258.9h0M580.7 1257.9h0M585.9 1257.9h0M588.0 1257.9h0M606.4 1258.1h0M536.4 1259.9h0M539.0 1259.9h0M541.3 1260.2h0M543.5 1260.1h0M548.2 1260.8h0M560.5 1260.6h0M563.0 1259.9h0M564.5 1260.9h0M570.3 1260.9h0M579.4 1260.6h0M582.0 1260.8h0M583.8 1260.0h0M586.2 1261.1h0M594.4 1260.8h0M601.0 1260.3h0M608.8 1260.8h0M536.9 1262.9h0M541.9 1262.1h0M547.0 1263.1h0M571.4 1262.4h0M575.5 1262.6h0M580.7 1262.3h0M594.7 1262.0h0M602.5 1262.2h0M606.9 1262.9h0M548.8 1265.1h0M570.4 1264.1h0M574.1 1264.9h0M579.9 1265.2h0M581.6 1264.4h0M587.0 1264.3h0M588.6 1265.2h0M591.0 1264.5h0M596.0 1264.9h0M601.4 1264.3h0M540.1 1266.9h0M573.6 1266.6h0M578.4 1266.2h0M580.3 1266.9h0M584.9 1267.0h0M590.7 1266.4h0M597.0 1266.9h0M607.3 1267.1h0M609.2 1266.1h0M538.6 1269.2h0M543.8 1269.1h0M579.3 1269.0h0M584.3 1268.4h0M586.5 1268.6h0M589.1 1269.4h0M596.3 1269.2h0M599.0 1268.8h0M603.2 1268.6h0M607.8 1269.1h0M537.9 1271.0h0M544.6 1270.5h0M580.1 1271.1h0M583.3 1271.3h0M597.4 1270.5h0M599.4 1270.3h0M609.2 1270.9h0M538.3 1273.1h0M540.8 1272.6h0M544.0 1272.5h0M546.3 1273.2h0M583.7 1272.5h0M587.1 1272.4h0M588.5 1273.0h0M601.4 1273.0h0M540.4 1274.5h0M542.6 1274.5h0M587.6 1274.7h0M590.8 1275.1h0M595.0 1275.5h0M597.7 1274.6h0M599.8 1274.7h0M602.3 1275.1h0M607.1 1275.3h0M541.0 1277.7h0M591.4 1277.2h0M593.5 1276.8h0M596.8 1277.0h0M598.1 1276.6h0M601.5 1276.6h0M605.3 1277.0h0M610.6 1276.7h0M602.5 1278.7h0M594.4 1281.5h0M596.3 1281.5h0M598.9 1280.9h0M596.9 1283.6h0M599.8 1283.2h0M595.9 1285.9h0M608.5 1285.5h0M603.4 1289.8h0M605.7 1289.1h0M610.5 1289.9h0M612.9 1289.9h0M607.6 1292.2h0M609.2 1291.7h0M608.4 1294.3h0M611.1 1293.3h0M613.1 1293.9h0M614.2 1296.4h0" stroke="#7cc363" stroke-width="2.20" stroke-linecap="round" fill="none"/><path d="M571.5 1243.4h0M570.1 1245.7h0M584.8 1245.4h0M571.8 1248.0h0M576.3 1248.1h0M578.7 1247.7h0M583.4 1247.8h0M573.3 1249.6h0M578.1 1249.2h0M588.0 1251.3h0M590.1 1253.7h0M576.6 1256.4h0M588.0 1256.4h0M590.3 1255.8h0M593.3 1255.8h0M592.3 1258.2h0M579.2 1260.2h0M581.7 1260.1h0M583.0 1260.2h0M585.5 1260.3h0M588.5 1259.7h0M590.3 1259.5h0M592.8 1260.6h0M578.1 1261.8h0M579.9 1261.7h0M581.9 1262.3h0M587.4 1261.6h0M592.5 1261.5h0M594.3 1262.7h0M581.1 1264.1h0M583.4 1264.5h0M588.1 1264.5h0M593.4 1264.7h0M579.6 1265.7h0M599.0 1266.6h0M601.0 1266.3h0M605.8 1266.3h0M583.4 1268.5h0M590.6 1268.7h0M598.3 1268.3h0M602.4 1268.2h0M608.0 1267.9h0M581.8 1270.4h0M589.5 1270.2h0M594.8 1270.7h0M599.2 1270.2h0M592.3 1274.5h0M594.9 1275.0h0M599.3 1274.7h0M609.1 1274.2h0M590.4 1276.3h0M593.4 1276.6h0M603.3 1276.2h0M609.5 1276.4h0M589.6 1278.3h0M592.3 1278.5h0M602.0 1278.6h0M591.3 1281.0h0M593.4 1280.7h0M597.8 1280.6h0M600.4 1281.1h0M603.1 1280.3h0M608.1 1281.3h0M601.5 1282.8h0M606.1 1282.4h0M608.3 1283.4h0M600.7 1285.4h0M607.9 1284.7h0M594.7 1287.1h0M607.0 1289.5h0M609.6 1289.2h0M599.7 1291.4h0M611.7 1290.9h0M607.2 1293.2h0M604.2 1295.4h0M611.4 1295.9h0M605.5 1297.1h0" stroke="#d3b994" stroke-width="2.20" stroke-linecap="round" fill="none"/><path fill="#7cc363" d="M540.1 1300.6C541.1 1297.2 543.8 1295.8 546.2 1294.5C548.6 1293.1 551.6 1292.4 554.3 1292.4C557 1292.4 559.7 1293.5 562.4 1294.5C565.1 1295.5 567.8 1296.8 570.5 1298.5C573.2 1300.2 575.3 1302.6 578.6 1304.6C582 1306.6 587.1 1309.3 590.8 1310.7C594.5 1312 597.6 1312.7 600.9 1312.7C604.3 1312.7 608 1311 611.1 1310.7C614.1 1310.4 616.8 1309.3 619.2 1310.7C621.6 1312 624.2 1315.8 625.3 1318.8C626.4 1321.8 626 1325.7 625.8 1328.9C625.7 1332.2 625.4 1335.4 624.3 1338.1C623.2 1340.8 621.4 1343 619.2 1345.2C617 1347.4 613.8 1349.7 611.1 1351.2C608.4 1352.8 605.2 1353.3 603 1354.3C600.8 1355.3 600.6 1357.2 597.9 1357.3C595.2 1357.5 590 1356.1 586.8 1355.3C583.5 1354.5 581.3 1352.9 578.6 1352.3C575.9 1351.6 572.6 1352.6 570.5 1351.2C568.5 1349.9 568.2 1346.9 566.5 1344.1C564.8 1341.4 562.8 1337.4 560.4 1335C558 1332.7 554.6 1331.1 552.3 1330C549.9 1328.8 547.9 1329.1 546.2 1327.9C544.5 1326.7 543.2 1325.1 542.1 1322.9C541.1 1320.7 540.5 1318.5 540.1 1314.7C539.8 1311 539.1 1303.9 540.1 1300.6Z"/><path d="M559.2 1293.9h0M544.9 1295.7h0M562.2 1296.7h0M564.4 1296.2h0M550.0 1298.4h0M552.0 1298.1h0M554.0 1298.1h0M556.3 1297.7h0M566.0 1298.7h0M567.7 1298.5h0M542.5 1299.8h0M544.6 1300.2h0M546.6 1300.4h0M548.9 1300.3h0M550.6 1300.0h0M552.8 1300.2h0M555.9 1300.1h0M557.8 1300.2h0M562.2 1300.2h0M564.2 1300.0h0M568.9 1299.9h0M571.1 1300.4h0M543.2 1302.4h0M556.8 1301.5h0M558.3 1302.4h0M561.2 1301.6h0M563.1 1301.7h0M565.8 1301.7h0M569.6 1301.7h0M541.9 1304.2h0M544.9 1304.1h0M546.8 1304.3h0M553.1 1303.6h0M558.1 1303.6h0M567.0 1303.9h0M572.8 1303.6h0M577.8 1304.2h0M543.1 1306.0h0M548.1 1306.3h0M552.0 1305.9h0M559.1 1305.3h0M560.8 1305.3h0M565.9 1305.9h0M569.7 1305.4h0M571.6 1305.9h0M574.0 1305.7h0M578.5 1305.6h0M541.9 1307.9h0M555.8 1307.6h0M558.2 1307.8h0M560.3 1308.0h0M564.8 1307.6h0M580.1 1307.9h0M582.3 1307.4h0M543.1 1309.4h0M548.0 1309.7h0M552.7 1309.9h0M554.2 1309.3h0M556.7 1309.5h0M561.3 1309.7h0M563.0 1309.9h0M565.9 1309.7h0M567.8 1309.3h0M569.4 1309.5h0M572.1 1309.8h0M574.2 1309.6h0M576.0 1309.1h0M578.2 1309.4h0M588.0 1309.9h0M544.9 1311.2h0M551.1 1311.1h0M552.8 1311.4h0M556.0 1311.7h0M559.8 1311.4h0M564.6 1311.2h0M571.3 1311.3h0M572.8 1312.0h0M575.4 1311.0h0M578.1 1311.6h0M581.8 1311.6h0M584.0 1311.4h0M586.6 1311.3h0M591.2 1311.1h0M593.3 1311.7h0M608.0 1311.9h0M610.5 1311.1h0M615.2 1311.2h0M617.5 1311.0h0M619.5 1311.6h0M541.6 1313.8h0M545.6 1313.9h0M550.3 1313.3h0M554.0 1313.5h0M556.6 1313.5h0M565.4 1313.6h0M571.6 1313.3h0M578.4 1313.4h0M583.2 1313.2h0M591.5 1313.9h0M602.9 1312.9h0M612.1 1313.7h0M618.2 1313.4h0M619.9 1313.8h0M542.5 1315.1h0M544.8 1315.3h0M547.0 1315.4h0M550.7 1315.6h0M561.8 1315.3h0M566.9 1315.5h0M570.6 1315.7h0M573.5 1315.3h0M577.1 1315.4h0M590.3 1315.3h0M595.1 1315.8h0M601.4 1315.4h0M603.7 1315.8h0M606.6 1314.8h0M608.8 1315.7h0M612.8 1314.9h0M615.1 1314.8h0M619.6 1315.2h0M543.0 1317.6h0M549.6 1317.3h0M559.0 1316.7h0M562.8 1317.7h0M567.9 1317.0h0M570.1 1317.4h0M572.3 1317.1h0M583.5 1317.2h0M592.3 1317.3h0M598.1 1317.1h0M605.6 1317.6h0M607.6 1317.3h0M609.4 1316.8h0M611.5 1316.9h0M613.7 1316.7h0M620.4 1316.7h0M622.8 1317.0h0M542.5 1318.9h0M544.4 1319.5h0M551.4 1319.2h0M559.4 1319.4h0M568.2 1319.3h0M575.0 1319.4h0M579.9 1319.4h0M588.2 1319.5h0M590.5 1318.6h0M593.1 1319.4h0M596.8 1319.6h0M599.3 1318.7h0M603.4 1318.7h0M606.2 1318.6h0M608.6 1318.6h0M610.2 1318.7h0M616.7 1318.6h0M619.7 1318.7h0M543.8 1321.2h0M545.2 1321.0h0M549.8 1320.7h0M552.7 1320.9h0M556.7 1321.4h0M559.0 1321.1h0M565.2 1321.3h0M572.1 1320.5h0M574.6 1321.1h0M576.4 1320.5h0M578.7 1321.0h0M581.2 1321.5h0M582.6 1321.5h0M596.6 1320.6h0M600.8 1321.3h0M602.6 1320.7h0M612.2 1320.6h0M613.9 1320.7h0M616.3 1321.5h0M618.7 1320.6h0M620.7 1321.1h0M625.1 1321.3h0M542.3 1322.5h0M546.6 1323.4h0M550.6 1322.8h0M553.6 1322.5h0M555.0 1322.7h0M562.4 1322.8h0M564.8 1323.3h0M567.0 1323.4h0M569.1 1323.4h0M570.9 1323.5h0M572.9 1323.1h0M580.2 1323.1h0M581.8 1322.9h0M584.6 1323.4h0M588.2 1322.4h0M590.3 1323.0h0M597.8 1322.4h0M600.0 1322.9h0M602.0 1323.0h0M610.8 1322.7h0M612.5 1322.7h0M614.5 1323.0h0M545.8 1324.4h0M554.1 1324.4h0M556.4 1325.0h0M559.0 1324.8h0M565.6 1325.0h0M567.5 1325.2h0M569.6 1325.3h0M572.5 1324.5h0M576.1 1324.6h0M581.1 1324.7h0M594.1 1324.8h0M595.7 1325.1h0M598.0 1324.4h0M601.0 1324.7h0M602.7 1325.0h0M605.0 1324.6h0M607.7 1325.0h0M613.7 1324.5h0M620.5 1325.0h0M553.8 1326.8h0M557.3 1327.1h0M559.8 1326.6h0M562.5 1326.4h0M566.4 1326.6h0M577.5 1326.4h0M579.3 1326.8h0M582.1 1327.1h0M583.7 1326.3h0M585.9 1326.7h0M588.8 1326.6h0M590.4 1326.3h0M599.6 1326.8h0M601.9 1326.5h0M614.8 1326.5h0M619.5 1327.3h0M621.0 1326.3h0M623.4 1327.0h0M549.8 1328.4h0M563.6 1328.6h0M573.8 1329.1h0M576.5 1328.7h0M580.6 1328.2h0M585.7 1328.7h0M587.8 1329.0h0M592.0 1328.8h0M594.5 1328.4h0M596.4 1329.0h0M598.5 1328.2h0M609.8 1328.1h0M611.7 1328.7h0M614.0 1328.6h0M618.6 1329.1h0M622.1 1329.0h0M556.0 1330.8h0M558.1 1330.6h0M562.1 1330.7h0M564.7 1330.4h0M568.4 1330.2h0M570.6 1331.0h0M575.1 1330.6h0M581.8 1330.6h0M584.5 1330.8h0M585.9 1330.6h0M595.3 1330.4h0M597.1 1330.1h0M606.3 1331.0h0M612.6 1330.8h0M615.0 1330.2h0M616.9 1330.9h0M559.1 1332.2h0M560.5 1332.1h0M563.1 1332.5h0M564.9 1332.0h0M571.9 1332.9h0M576.7 1332.7h0M579.1 1332.2h0M596.0 1332.5h0M598.8 1332.7h0M600.8 1332.7h0M604.6 1332.6h0M608.9 1332.0h0M611.8 1332.6h0M618.7 1332.6h0M620.9 1331.9h0M623.1 1332.4h0M564.4 1334.1h0M571.4 1334.6h0M583.8 1334.2h0M588.9 1334.4h0M593.0 1334.6h0M595.6 1334.7h0M601.8 1334.3h0M606.5 1334.6h0M611.0 1333.9h0M619.2 1334.5h0M621.3 1334.6h0M623.7 1334.7h0M563.3 1336.7h0M570.0 1336.4h0M571.5 1336.5h0M576.3 1335.8h0M579.1 1336.1h0M585.6 1336.7h0M589.3 1336.5h0M594.2 1336.2h0M595.8 1336.0h0M598.1 1336.3h0M602.5 1336.0h0M609.4 1336.7h0M615.7 1335.8h0M618.6 1335.7h0M620.0 1336.7h0M622.8 1336.5h0M564.3 1338.2h0M566.7 1338.2h0M569.2 1338.5h0M575.4 1338.7h0M577.8 1338.1h0M579.7 1338.0h0M582.2 1338.0h0M584.5 1338.0h0M586.8 1338.5h0M593.0 1338.2h0M595.4 1338.1h0M596.9 1338.4h0M599.0 1338.0h0M604.0 1338.0h0M606.1 1337.8h0M607.8 1337.8h0M610.0 1338.0h0M612.7 1338.4h0M614.8 1338.6h0M621.3 1337.8h0M565.2 1340.3h0M568.1 1340.1h0M571.6 1340.6h0M578.5 1339.8h0M593.7 1340.0h0M600.7 1339.5h0M609.6 1340.6h0M617.8 1340.3h0M620.2 1339.8h0M622.5 1339.8h0M567.0 1342.3h0M569.2 1341.7h0M570.9 1341.8h0M573.4 1341.7h0M577.4 1342.4h0M582.2 1342.4h0M583.8 1342.5h0M586.1 1342.3h0M588.3 1342.1h0M593.4 1341.6h0M599.2 1342.3h0M601.7 1342.1h0M619.0 1341.9h0M568.0 1343.8h0M571.7 1344.4h0M574.7 1343.9h0M576.0 1344.3h0M580.4 1343.6h0M583.4 1343.5h0M584.9 1343.6h0M593.8 1344.0h0M600.8 1344.2h0M611.7 1344.3h0M615.8 1343.8h0M618.1 1343.4h0M575.3 1345.3h0M583.7 1345.9h0M586.8 1346.2h0M590.4 1345.8h0M594.7 1345.6h0M601.9 1345.8h0M605.7 1345.9h0M608.4 1345.7h0M610.2 1345.9h0M617.6 1346.3h0M571.8 1347.5h0M580.3 1347.5h0M587.4 1347.3h0M590.2 1347.2h0M591.4 1348.1h0M596.6 1347.2h0M600.8 1348.0h0M604.9 1347.8h0M607.1 1348.2h0M609.3 1347.5h0M611.7 1348.0h0M613.4 1347.7h0M573.1 1350.1h0M579.2 1350.1h0M581.8 1349.3h0M584.0 1350.0h0M586.3 1349.9h0M593.2 1349.2h0M597.2 1349.4h0M599.9 1349.1h0M601.6 1349.1h0M603.9 1349.2h0M606.1 1350.1h0M580.8 1351.0h0M584.9 1351.1h0M587.7 1351.7h0M602.7 1351.5h0M581.5 1353.6h0M584.2 1353.8h0M590.7 1353.9h0M593.2 1352.9h0M599.1 1353.6h0M603.5 1353.3h0M594.4 1355.1h0M597.6 1356.8h0" stroke="#7cc363" stroke-width="2.20" stroke-linecap="round" fill="none"/><path fill="#3b8bc3" d="M525.4 1268.7C523.2 1269.8 519.2 1274.7 516.8 1277.3C514.4 1280 513.2 1282.9 510.7 1284.4C508.2 1285.9 504 1284.8 501.6 1286.5C499.2 1288.1 497.7 1291.7 496.5 1294.6C495.3 1297.5 494.2 1300.6 494.5 1303.8C494.8 1307 496.9 1311 498.5 1313.9C500.2 1316.8 502.4 1318.6 504.6 1321C506.8 1323.4 509.2 1326.1 511.7 1328.1C514.3 1330.1 517.1 1331.5 519.8 1333.2C522.5 1334.9 525.6 1337.6 527.9 1338.2C530.3 1338.8 532 1337.6 534 1336.8C536.1 1335.9 538.4 1334.8 540.1 1333.2C541.8 1331.6 543.2 1329.1 544.2 1327.1C545.2 1325.1 546.5 1323 546.2 1321C545.9 1319 543.3 1316.6 542.1 1314.9C541 1313.2 539.4 1312.6 539.1 1310.9C538.8 1309.2 541 1306.1 540.1 1304.8C539.3 1303.4 535.7 1304.1 534 1302.8C532.3 1301.4 531 1298.7 530 1296.7C529 1294.7 528.5 1292.6 527.9 1290.6C527.4 1288.6 526.8 1286.5 526.9 1284.4C527.1 1282.4 528.5 1280.7 529 1278.3C529.5 1276 530.6 1271.8 530 1270.2C529.4 1268.6 527.6 1267.5 525.4 1268.7Z"/><path d="M524.7 1271.0h0M523.4 1271.9h0M529.5 1272.6h0M521.9 1274.2h0M524.3 1274.5h0M523.4 1276.6h0M520.2 1277.7h0M526.8 1278.7h0M516.0 1280.0h0M521.0 1279.6h0M525.6 1279.8h0M515.4 1282.0h0M517.8 1281.8h0M522.4 1282.4h0M524.6 1282.0h0M526.4 1282.3h0M516.5 1283.9h0M525.4 1284.4h0M506.7 1286.2h0M508.3 1286.0h0M517.3 1285.5h0M520.1 1285.4h0M521.7 1285.3h0M500.8 1287.7h0M502.8 1288.1h0M505.6 1287.6h0M509.9 1287.6h0M511.8 1287.6h0M525.4 1287.6h0M499.5 1289.5h0M502.6 1289.1h0M510.5 1289.6h0M515.4 1289.5h0M517.9 1290.0h0M519.3 1289.2h0M521.8 1289.4h0M526.9 1289.8h0M499.4 1291.7h0M502.9 1291.6h0M507.5 1292.0h0M509.6 1291.2h0M511.8 1291.9h0M518.4 1291.0h0M527.1 1291.1h0M506.7 1293.2h0M508.7 1293.7h0M513.7 1293.5h0M517.6 1293.6h0M524.2 1292.9h0M526.3 1293.2h0M528.8 1293.8h0M496.2 1295.1h0M499.3 1295.7h0M501.4 1295.2h0M503.8 1295.7h0M505.8 1295.4h0M509.4 1294.8h0M514.8 1295.4h0M516.8 1295.6h0M520.9 1295.8h0M499.8 1297.0h0M506.1 1297.1h0M509.3 1296.7h0M513.3 1296.9h0M518.1 1296.8h0M519.5 1296.7h0M521.5 1296.9h0M496.5 1298.9h0M498.5 1299.7h0M503.3 1298.7h0M514.6 1299.5h0M521.4 1298.8h0M522.9 1298.8h0M525.7 1298.7h0M497.7 1300.6h0M502.7 1301.3h0M503.9 1300.7h0M508.6 1300.8h0M519.7 1300.6h0M522.2 1301.4h0M528.2 1300.6h0M530.7 1301.6h0M496.8 1302.7h0M500.7 1302.5h0M502.8 1303.4h0M505.5 1303.5h0M507.7 1302.5h0M511.7 1302.5h0M525.7 1303.5h0M527.9 1302.5h0M529.8 1303.3h0M497.8 1304.7h0M504.9 1305.1h0M512.9 1305.2h0M515.5 1304.7h0M522.0 1304.4h0M524.6 1305.3h0M528.8 1305.3h0M532.8 1304.8h0M535.4 1305.1h0M496.7 1306.5h0M498.7 1306.3h0M500.8 1306.3h0M516.4 1306.4h0M534.3 1306.9h0M536.3 1306.4h0M498.2 1309.0h0M499.7 1308.6h0M504.7 1308.7h0M506.7 1309.1h0M522.5 1308.8h0M526.8 1308.4h0M531.0 1309.2h0M533.0 1308.7h0M500.6 1310.7h0M505.6 1310.2h0M507.9 1310.8h0M510.2 1310.6h0M516.2 1310.7h0M518.5 1310.2h0M523.1 1310.2h0M525.4 1310.2h0M527.7 1310.8h0M529.4 1310.4h0M531.8 1310.8h0M534.3 1311.1h0M509.2 1312.3h0M513.1 1312.6h0M515.2 1312.0h0M524.1 1312.7h0M526.9 1312.3h0M531.0 1312.5h0M533.0 1312.3h0M501.0 1314.0h0M502.9 1314.0h0M508.0 1314.4h0M510.2 1314.3h0M516.7 1314.3h0M519.0 1314.0h0M523.0 1314.7h0M530.1 1314.3h0M533.8 1314.3h0M540.6 1314.3h0M502.0 1316.7h0M504.0 1316.3h0M506.3 1316.1h0M510.8 1316.5h0M518.0 1316.3h0M519.5 1316.1h0M522.4 1316.1h0M526.7 1316.4h0M528.9 1316.8h0M530.8 1316.1h0M532.9 1316.6h0M539.8 1316.1h0M542.1 1316.0h0M503.0 1318.2h0M505.7 1318.2h0M508.2 1318.7h0M512.6 1318.0h0M514.2 1318.3h0M517.0 1317.9h0M518.5 1318.6h0M520.7 1318.7h0M541.1 1318.1h0M543.1 1318.2h0M503.9 1320.0h0M506.4 1319.9h0M508.3 1320.5h0M510.8 1320.1h0M517.9 1320.3h0M520.3 1320.2h0M528.9 1319.9h0M532.8 1320.1h0M537.9 1320.3h0M540.0 1320.2h0M514.3 1322.3h0M518.5 1322.3h0M520.6 1322.0h0M527.1 1321.7h0M534.4 1321.9h0M536.6 1321.6h0M539.0 1321.5h0M540.5 1321.5h0M542.6 1321.5h0M515.2 1323.6h0M523.7 1324.2h0M526.3 1323.9h0M528.1 1323.8h0M537.3 1323.4h0M542.3 1324.3h0M543.7 1323.4h0M509.5 1325.4h0M514.0 1326.2h0M516.5 1325.9h0M532.2 1325.7h0M512.7 1327.8h0M515.2 1327.4h0M521.7 1327.4h0M524.0 1327.7h0M526.6 1328.2h0M531.2 1327.9h0M533.5 1328.1h0M514.8 1329.3h0M516.6 1329.7h0M521.1 1329.6h0M524.8 1329.7h0M530.0 1329.5h0M531.7 1329.6h0M534.6 1329.5h0M538.9 1329.9h0M517.7 1331.8h0M525.9 1331.4h0M528.1 1331.7h0M530.4 1331.1h0M539.9 1331.2h0M520.7 1333.2h0M523.1 1333.6h0M525.3 1333.8h0M524.3 1334.8h0M528.9 1334.9h0M531.0 1335.2h0M533.1 1335.3h0M535.7 1334.9h0M528.0 1337.2h0" stroke="#3b8bc3" stroke-width="2.20" stroke-linecap="round" fill="none"/><path d="M806.6 1157.8h0M750.0 1160.5h0M798.4 1160.7h0M801.3 1160.0h0M754.5 1162.9h0M757.0 1162.6h0M761.2 1162.7h0M769.0 1162.7h0M771.3 1162.6h0M772.8 1162.3h0M775.4 1162.1h0M799.3 1161.8h0M748.2 1164.3h0M752.5 1164.9h0M758.0 1164.9h0M779.2 1164.7h0M796.3 1164.6h0M805.3 1164.2h0M752.1 1166.0h0M759.0 1166.3h0M763.6 1166.5h0M773.3 1166.0h0M782.8 1166.8h0M785.5 1166.5h0M787.1 1166.4h0M802.3 1166.8h0M807.4 1166.7h0M809.4 1166.5h0M750.2 1168.6h0M762.2 1169.1h0M767.8 1168.5h0M769.6 1168.5h0M771.8 1168.4h0M788.6 1168.7h0M790.7 1169.2h0M799.0 1168.5h0M807.7 1168.9h0M760.8 1171.0h0M764.0 1170.6h0M787.6 1170.6h0M792.8 1170.5h0M807.3 1170.9h0M748.0 1172.3h0M760.0 1172.3h0M774.2 1173.1h0M781.0 1172.4h0M793.4 1172.2h0M796.1 1172.9h0M798.7 1173.1h0M807.4 1172.6h0M813.3 1172.8h0M753.6 1174.5h0M761.8 1174.6h0M766.6 1174.5h0M768.3 1175.3h0M771.2 1174.7h0M775.3 1174.7h0M780.4 1174.8h0M789.6 1175.4h0M797.5 1174.9h0M800.0 1174.9h0M814.3 1175.2h0M757.5 1176.3h0M764.7 1176.9h0M767.3 1176.9h0M771.7 1176.9h0M774.8 1176.7h0M776.4 1176.6h0M781.6 1177.0h0M784.6 1176.4h0M788.7 1177.3h0M798.9 1177.4h0M802.8 1177.5h0M805.2 1176.4h0M808.2 1177.0h0M812.7 1176.9h0M815.1 1176.5h0M749.4 1178.8h0M752.1 1179.6h0M770.7 1179.2h0M773.1 1179.3h0M787.5 1178.8h0M792.7 1178.5h0M795.2 1178.9h0M755.0 1181.1h0M759.8 1181.5h0M777.4 1180.9h0M791.0 1181.3h0M795.6 1180.7h0M807.6 1181.5h0M813.1 1181.3h0M814.6 1181.4h0M752.2 1182.7h0M760.8 1182.6h0M763.2 1183.3h0M765.9 1183.6h0M772.7 1183.2h0M775.3 1183.7h0M787.5 1182.7h0M792.6 1182.7h0M800.2 1183.2h0M804.2 1183.3h0M809.5 1182.8h0M751.0 1185.6h0M759.5 1184.9h0M763.0 1184.6h0M769.6 1184.7h0M771.9 1185.7h0M777.3 1185.6h0M784.3 1184.7h0M809.9 1184.7h0M812.3 1185.7h0M761.5 1187.2h0M763.4 1187.4h0M775.2 1187.8h0M778.1 1187.9h0M782.5 1187.3h0M785.6 1187.1h0M795.4 1187.0h0M808.8 1187.4h0M816.8 1187.1h0M750.4 1188.9h0M755.5 1189.0h0M774.0 1189.0h0M783.8 1189.1h0M788.4 1189.1h0M791.2 1188.9h0M800.4 1189.9h0M815.7 1188.8h0M782.3 1191.0h0M787.7 1191.6h0M795.0 1192.0h0M799.6 1191.7h0M757.3 1193.2h0M759.6 1193.0h0M764.2 1193.6h0M767.6 1193.3h0M772.3 1193.1h0M777.0 1193.8h0M779.0 1193.9h0M791.3 1193.8h0M801.1 1193.7h0M803.5 1194.0h0M807.6 1193.4h0M813.2 1193.2h0M820.0 1193.8h0M759.1 1195.7h0M764.2 1196.1h0M775.9 1195.3h0M780.9 1195.8h0M799.5 1196.1h0M806.8 1195.1h0M809.0 1195.6h0M813.5 1195.9h0M821.6 1195.3h0M823.6 1195.2h0M825.9 1195.8h0M763.0 1197.5h0M766.6 1198.0h0M770.0 1198.1h0M774.2 1197.2h0M776.2 1198.1h0M787.0 1197.5h0M802.9 1197.8h0M817.2 1197.7h0M753.6 1200.1h0M756.4 1200.2h0M758.8 1199.3h0M773.2 1199.9h0M784.9 1199.6h0M797.8 1199.5h0M799.3 1199.9h0M801.7 1199.7h0M804.1 1200.3h0M807.1 1199.8h0M811.4 1199.6h0M819.0 1199.4h0M823.8 1199.8h0M753.4 1201.8h0M767.2 1201.8h0M783.8 1202.1h0M793.4 1202.4h0M819.4 1201.9h0M753.8 1204.3h0M763.2 1204.4h0M768.2 1204.0h0M780.9 1204.1h0M799.7 1203.5h0M801.5 1203.7h0M809.6 1204.2h0M754.8 1205.7h0M762.7 1205.6h0M772.5 1206.4h0M790.8 1205.9h0M798.8 1206.5h0M770.3 1207.7h0M778.1 1208.5h0M795.1 1207.5h0M796.9 1208.3h0M821.3 1207.9h0M753.1 1209.8h0M757.3 1210.5h0M763.0 1210.6h0M767.5 1209.8h0M772.0 1210.1h0M777.0 1210.5h0M786.0 1210.5h0M796.5 1210.3h0M803.2 1210.6h0M809.9 1209.7h0M813.0 1210.6h0M821.9 1210.8h0M824.6 1209.7h0M770.4 1211.8h0M773.3 1212.1h0M775.7 1212.4h0M783.1 1212.8h0M790.2 1211.8h0M791.9 1212.3h0M797.0 1212.8h0M806.7 1211.9h0M821.0 1212.4h0M755.1 1214.0h0M771.9 1214.8h0M777.1 1214.4h0M782.2 1214.4h0M791.8 1214.6h0M793.7 1214.0h0M807.9 1214.4h0M810.4 1214.4h0M812.3 1214.6h0M820.6 1214.7h0M756.6 1216.2h0M761.1 1217.0h0M766.0 1216.9h0M775.1 1216.9h0M780.8 1215.8h0M789.4 1217.0h0M800.0 1216.9h0M804.1 1217.0h0M811.4 1216.8h0M818.5 1216.9h0M772.1 1218.2h0M774.3 1218.5h0M776.7 1218.2h0M782.0 1218.4h0M784.1 1218.2h0M796.0 1218.7h0M798.3 1218.2h0M806.0 1218.8h0M809.9 1218.6h0M813.1 1218.9h0M819.8 1218.1h0M822.2 1219.0h0M754.6 1220.4h0M763.7 1220.9h0M778.3 1220.4h0M784.9 1220.4h0M791.9 1220.3h0M800.1 1220.6h0M807.3 1221.1h0M811.3 1220.9h0M816.6 1220.8h0M819.3 1220.1h0M754.8 1223.1h0M767.5 1222.3h0M779.5 1222.6h0M786.1 1223.2h0M791.3 1223.0h0M798.1 1223.0h0M800.5 1223.1h0M810.7 1223.2h0M776.1 1224.5h0M782.6 1224.7h0M785.6 1224.3h0M795.4 1224.7h0M806.6 1225.3h0M808.6 1225.2h0M820.8 1224.4h0M765.4 1226.2h0M777.0 1227.2h0M798.9 1226.8h0M805.7 1227.1h0M810.1 1227.0h0M814.8 1226.2h0M817.8 1226.9h0M766.0 1229.1h0M768.1 1229.3h0M773.2 1229.3h0M775.6 1229.2h0M777.9 1229.0h0M787.1 1229.3h0M789.7 1228.4h0M792.8 1228.8h0M794.3 1228.8h0M797.1 1228.8h0M799.5 1228.3h0M801.8 1228.6h0M807.3 1229.4h0M760.2 1230.4h0M762.1 1230.8h0M772.0 1230.7h0M774.2 1231.3h0M778.9 1230.9h0M786.4 1230.5h0M803.2 1230.9h0M805.1 1231.3h0M807.5 1230.7h0M815.8 1231.6h0M820.4 1230.6h0M763.2 1233.1h0M770.7 1233.3h0M782.4 1232.9h0M797.2 1232.5h0M800.1 1232.7h0M808.8 1232.8h0M811.1 1232.5h0M818.4 1233.6h0M766.8 1234.9h0M774.9 1235.7h0M777.3 1234.9h0M820.3 1235.7h0M761.7 1236.7h0M766.5 1236.9h0M777.9 1237.3h0M780.1 1237.1h0M792.7 1237.7h0M802.5 1237.3h0M808.9 1236.9h0M776.9 1239.8h0M781.9 1238.9h0M786.5 1238.8h0M800.5 1239.8h0M802.7 1239.0h0M805.4 1238.7h0M814.7 1238.9h0M817.7 1239.7h0M768.9 1241.7h0M772.7 1241.3h0M783.1 1241.7h0M784.7 1241.2h0M804.5 1241.0h0M807.4 1240.8h0M814.3 1241.8h0M772.2 1243.5h0M778.8 1243.4h0M783.9 1243.8h0M789.4 1243.9h0M800.0 1245.4h0M808.6 1245.9h0M800.6 1247.0h0M805.6 1247.5h0M808.4 1247.7h0M799.5 1249.3h0M811.3 1250.0h0M804.3 1253.5h0" stroke="#9ad284" stroke-width="2.20" stroke-linecap="round" fill="none"/><path fill="#9ad284" d="M727.8 1156.2C729.6 1154 734.3 1155.4 737.3 1155C740.2 1154.6 743.8 1152.6 745.6 1153.8C747.3 1155 747.7 1158.8 747.9 1162.1C748.1 1165.5 746.5 1170 746.7 1174C746.9 1177.9 748.3 1181.9 749.1 1185.8C749.9 1189.8 751.5 1193.9 751.5 1197.7C751.5 1201.4 750.3 1206.8 749.1 1208.3C747.9 1209.9 746.2 1208.7 744.4 1207.2C742.6 1205.6 740.4 1201.8 738.5 1198.9C736.5 1195.9 734.3 1192.5 732.6 1189.4C730.8 1186.2 728.8 1183.5 727.8 1179.9C726.8 1176.3 726.6 1172 726.6 1168C726.6 1164.1 726.1 1158.4 727.8 1156.2Z"/><path d="M740.6 1156.2h0M745.5 1155.9h0M733.0 1157.6h0M739.8 1157.1h0M746.4 1157.7h0M727.9 1159.5h0M731.8 1159.2h0M737.0 1159.2h0M743.6 1159.8h0M731.2 1161.1h0M737.8 1161.0h0M728.0 1163.4h0M736.3 1163.7h0M738.9 1162.9h0M741.2 1163.1h0M743.5 1163.1h0M744.9 1163.2h0M728.9 1164.8h0M739.5 1165.4h0M744.6 1165.1h0M746.7 1165.6h0M736.5 1166.7h0M741.1 1166.9h0M729.3 1168.9h0M730.6 1169.5h0M733.0 1169.5h0M735.4 1169.0h0M738.0 1168.6h0M740.2 1168.8h0M747.0 1169.1h0M729.5 1171.1h0M741.0 1170.9h0M743.3 1170.5h0M730.7 1173.3h0M733.8 1173.0h0M740.3 1172.4h0M742.6 1173.4h0M746.9 1172.7h0M727.4 1174.9h0M730.1 1175.1h0M737.0 1175.3h0M738.3 1174.4h0M741.3 1174.7h0M743.5 1174.9h0M744.8 1174.3h0M729.1 1176.4h0M730.9 1176.8h0M744.2 1176.6h0M727.4 1178.6h0M732.0 1178.6h0M739.1 1179.1h0M740.9 1178.5h0M743.4 1178.3h0M733.2 1180.0h0M735.3 1180.1h0M741.6 1180.6h0M732.2 1182.5h0M733.9 1182.6h0M740.6 1182.1h0M745.1 1182.9h0M747.2 1182.8h0M732.9 1184.4h0M735.2 1184.5h0M737.8 1184.6h0M744.2 1183.9h0M749.0 1184.5h0M732.5 1185.7h0M739.1 1186.0h0M743.5 1186.2h0M745.3 1186.7h0M733.4 1188.3h0M735.8 1188.3h0M739.8 1187.8h0M749.1 1188.3h0M734.5 1190.1h0M738.3 1190.1h0M745.0 1189.5h0M747.8 1189.7h0M737.5 1192.0h0M744.5 1192.3h0M748.7 1192.0h0M738.5 1193.7h0M742.9 1193.8h0M749.2 1193.3h0M737.7 1195.2h0M741.7 1196.0h0M743.9 1196.0h0M745.9 1195.7h0M748.6 1195.5h0M738.4 1197.3h0M743.1 1197.7h0M739.4 1199.4h0M742.4 1199.5h0M744.1 1199.6h0M746.0 1199.3h0M749.1 1199.5h0M742.7 1201.7h0M744.9 1201.5h0M746.4 1203.4h0M742.9 1205.5h0M748.1 1205.3h0M746.0 1206.7h0M748.2 1207.2h0" stroke="#9ad284" stroke-width="2.20" stroke-linecap="round" fill="none"/><path fill="#9ad284" d="M807 1146.7C808.8 1144.1 814.1 1142.7 816.5 1144.3C818.8 1145.9 820.2 1152.2 821.2 1156.2C822.2 1160.1 822.4 1164.1 822.4 1168C822.4 1172 821.2 1176.9 821.2 1179.9C821.2 1182.9 823.2 1184.6 822.4 1185.8C821.6 1187 818.4 1188 816.5 1187C814.5 1186 812 1183.1 810.6 1179.9C809.2 1176.7 809 1171.4 808.2 1168C807.4 1164.7 806.1 1163.3 805.9 1159.7C805.7 1156.2 805.3 1149.2 807 1146.7Z"/><path d="M808.9 1146.3h0M813.6 1146.0h0M808.4 1147.9h0M814.5 1147.8h0M807.2 1149.7h0M809.0 1149.6h0M813.2 1149.8h0M815.5 1150.0h0M818.4 1149.8h0M808.2 1151.8h0M810.0 1151.7h0M812.8 1152.3h0M814.9 1152.4h0M817.1 1151.7h0M818.8 1152.0h0M815.8 1154.2h0M810.3 1155.6h0M812.7 1156.0h0M815.2 1156.3h0M816.3 1155.7h0M809.0 1158.1h0M811.6 1158.1h0M814.0 1158.1h0M816.2 1158.1h0M818.4 1158.1h0M820.1 1157.6h0M814.3 1159.1h0M816.5 1159.0h0M819.0 1159.4h0M809.6 1161.5h0M813.5 1161.2h0M815.3 1162.0h0M819.8 1161.6h0M807.6 1163.6h0M812.1 1163.9h0M818.7 1163.8h0M809.4 1165.1h0M810.9 1165.2h0M810.4 1167.1h0M812.9 1167.3h0M815.0 1167.0h0M817.3 1166.9h0M821.1 1167.3h0M813.9 1169.4h0M816.3 1169.6h0M818.1 1168.8h0M812.9 1170.9h0M814.3 1170.7h0M816.5 1170.5h0M819.3 1171.0h0M811.1 1172.9h0M813.6 1172.4h0M820.1 1172.7h0M814.3 1175.4h0M818.9 1174.4h0M821.1 1174.9h0M811.1 1176.7h0M813.2 1176.7h0M817.9 1176.5h0M814.3 1178.9h0M817.2 1179.1h0M819.3 1178.4h0M821.5 1178.8h0M813.1 1180.0h0M815.4 1181.0h0M814.6 1182.4h0M818.6 1182.2h0M818.3 1184.8h0M820.6 1184.0h0M818.8 1186.2h0" stroke="#9ad284" stroke-width="2.20" stroke-linecap="round" fill="none"/><path d="M766.4 1213.2h0M774.6 1214.0h0M758.0 1215.4h0M773.2 1216.2h0M780.7 1216.2h0M782.5 1216.1h0M787.2 1216.1h0M760.0 1217.3h0M763.9 1218.0h0M767.2 1218.1h0M768.9 1217.7h0M774.2 1218.1h0M778.4 1218.2h0M781.5 1217.2h0M784.0 1217.6h0M790.6 1217.5h0M763.2 1219.2h0M766.2 1219.5h0M767.8 1220.0h0M782.0 1219.6h0M787.9 1219.6h0M796.3 1219.9h0M759.8 1221.4h0M764.0 1222.3h0M767.1 1221.5h0M776.5 1221.4h0M781.6 1221.4h0M786.7 1221.9h0M800.0 1221.5h0M759.0 1224.1h0M761.4 1223.5h0M770.7 1223.8h0M772.6 1223.3h0M787.7 1223.9h0M791.9 1224.4h0M794.8 1223.5h0M797.4 1224.4h0M757.6 1226.5h0M760.1 1226.3h0M764.9 1225.8h0M771.7 1225.9h0M776.8 1226.1h0M783.6 1225.4h0M786.6 1226.1h0M793.8 1226.1h0M795.7 1226.1h0M802.4 1225.8h0M755.8 1227.6h0M758.7 1227.9h0M770.2 1227.7h0M779.6 1228.5h0M791.7 1228.4h0M794.4 1228.6h0M799.1 1227.9h0M806.5 1227.6h0M757.1 1229.9h0M759.7 1230.7h0M767.3 1230.3h0M781.3 1229.8h0M783.3 1230.3h0M789.0 1229.7h0M755.6 1232.6h0M775.5 1231.6h0M782.1 1232.7h0M789.3 1232.7h0M791.9 1232.4h0M799.4 1231.8h0M754.7 1234.0h0M774.2 1233.7h0M777.0 1234.2h0M779.4 1234.7h0M785.7 1234.8h0M795.5 1234.5h0M798.6 1234.5h0M761.4 1236.6h0M763.7 1236.1h0M767.9 1236.3h0M774.7 1236.3h0M777.6 1236.7h0M801.9 1236.0h0M807.0 1235.9h0M808.7 1236.5h0M759.7 1238.8h0M779.2 1239.0h0M781.6 1239.0h0M784.2 1238.6h0M788.0 1238.5h0M790.3 1239.0h0M805.7 1238.7h0M807.5 1237.9h0M756.1 1240.4h0M773.2 1241.0h0M782.6 1240.5h0M785.3 1240.7h0M792.4 1240.1h0M796.6 1240.0h0M799.5 1240.2h0M804.2 1240.7h0M807.1 1240.4h0M757.1 1242.1h0M760.2 1242.4h0M776.3 1243.1h0M781.3 1242.7h0M786.0 1242.3h0M788.4 1242.2h0M791.4 1242.8h0M793.0 1242.0h0M795.8 1243.0h0M800.9 1242.2h0M804.8 1242.8h0M763.2 1244.2h0M768.1 1244.8h0M772.5 1244.6h0M778.0 1244.1h0M779.8 1245.1h0M782.9 1244.2h0M784.8 1244.3h0M787.7 1245.2h0M789.6 1244.3h0M795.1 1244.2h0M799.4 1244.2h0M801.5 1244.9h0M803.6 1244.8h0M806.6 1244.1h0M754.5 1246.4h0M757.0 1246.2h0M771.1 1246.6h0M776.8 1246.5h0M779.4 1247.0h0M781.5 1247.1h0M787.9 1246.2h0M791.2 1247.0h0M792.7 1246.6h0M807.9 1246.5h0M767.7 1249.1h0M775.3 1249.3h0M777.5 1248.8h0M801.6 1249.2h0M764.3 1251.4h0M767.1 1250.8h0M769.3 1250.8h0M774.0 1250.8h0M784.2 1250.9h0M788.5 1250.7h0M796.0 1250.5h0M798.2 1250.7h0M800.3 1251.0h0M802.9 1250.9h0M753.2 1253.0h0M756.6 1253.4h0M763.7 1253.1h0M768.3 1253.3h0M777.6 1253.5h0M780.2 1253.2h0M784.5 1252.8h0M789.5 1252.9h0M792.2 1253.2h0M795.0 1253.3h0M799.7 1253.2h0M757.8 1255.4h0M759.4 1255.1h0M762.6 1254.9h0M764.0 1254.6h0M769.9 1254.7h0M771.9 1254.9h0M783.2 1255.1h0M786.5 1254.5h0M793.9 1255.3h0M802.8 1255.1h0M765.9 1257.7h0M768.6 1257.1h0M770.5 1257.3h0M772.9 1256.6h0M779.5 1257.4h0M786.8 1256.8h0M789.2 1257.0h0M754.5 1258.8h0M759.5 1259.4h0M762.2 1259.4h0M764.5 1259.7h0M786.0 1259.8h0M788.5 1258.9h0M790.5 1259.8h0M797.6 1259.1h0M800.9 1258.9h0M753.5 1261.2h0M758.4 1261.8h0M762.7 1261.1h0M773.3 1261.8h0M782.2 1261.2h0M794.0 1261.4h0M796.3 1261.8h0M754.3 1263.1h0M759.4 1263.2h0M764.9 1263.8h0M781.4 1263.5h0M783.5 1263.7h0M789.0 1263.4h0M791.0 1263.9h0M797.6 1263.5h0M802.6 1262.9h0M763.1 1265.3h0M770.2 1265.8h0M775.3 1264.9h0M782.3 1265.4h0M789.8 1265.6h0M794.0 1265.8h0M799.4 1265.7h0M757.2 1267.0h0M760.1 1268.1h0M771.2 1267.1h0M778.4 1267.2h0M785.7 1267.7h0M790.9 1268.1h0M802.3 1267.3h0M758.4 1269.9h0M761.1 1269.5h0M768.6 1269.3h0M772.7 1269.6h0M775.7 1269.5h0M781.9 1270.0h0M790.0 1269.5h0M794.1 1269.1h0M802.0 1269.5h0M754.7 1271.8h0M756.8 1271.2h0M764.3 1271.2h0M778.8 1272.0h0M780.8 1271.4h0M783.4 1272.2h0M786.7 1271.4h0M788.5 1271.8h0M793.5 1271.2h0M796.2 1271.3h0M761.0 1274.1h0M762.9 1273.7h0M766.0 1273.8h0M770.3 1273.8h0M775.3 1274.4h0M778.1 1273.6h0M785.0 1273.8h0M787.0 1273.4h0M796.6 1273.3h0M802.1 1274.2h0M762.1 1276.5h0M764.7 1275.9h0M769.1 1276.2h0M778.8 1275.4h0M784.2 1276.3h0M795.7 1276.1h0M760.4 1277.5h0M780.0 1278.3h0M799.5 1277.7h0M760.0 1280.2h0M761.6 1280.0h0M769.0 1280.1h0M771.2 1280.5h0M774.1 1279.9h0M785.9 1280.2h0M788.5 1279.9h0M798.7 1280.0h0M758.9 1282.7h0M763.3 1282.0h0M782.7 1282.4h0M785.3 1281.9h0M789.9 1282.0h0M764.4 1283.8h0M776.3 1284.4h0M779.3 1284.4h0M781.3 1284.3h0M786.2 1284.5h0M796.1 1284.3h0M765.7 1286.4h0M768.6 1285.7h0M772.4 1286.0h0M782.1 1286.7h0M797.3 1286.2h0M798.7 1285.7h0M760.2 1288.2h0M771.9 1288.6h0M786.7 1287.8h0M789.0 1288.3h0M790.8 1287.8h0M793.1 1288.5h0M761.1 1290.2h0M773.1 1290.1h0M775.6 1291.0h0M777.3 1290.6h0M782.2 1290.3h0M784.3 1289.8h0M794.0 1290.7h0M797.2 1290.2h0M764.4 1292.4h0M780.9 1292.2h0M791.2 1291.9h0M793.3 1292.5h0M765.4 1294.6h0M768.0 1294.6h0M775.0 1295.0h0M785.1 1294.5h0M787.5 1294.2h0M774.5 1296.3h0M776.4 1297.2h0M779.2 1296.1h0M767.9 1298.7h0M786.9 1298.9h0M771.4 1301.2h0M778.7 1300.6h0M777.2 1303.1h0M780.0 1302.4h0M771.2 1304.4h0M778.4 1305.1h0" stroke="#ec5157" stroke-width="2.20" stroke-linecap="round" fill="none"/><path d="M756.2 1163.3h0M750.7 1166.1h0M757.2 1166.1h0M760.0 1166.2h0M777.2 1166.3h0M799.6 1168.0h0M769.6 1170.1h0M767.7 1172.1h0M782.6 1172.5h0M760.0 1174.7h0M770.1 1174.7h0M780.9 1173.6h0M789.2 1173.8h0M758.2 1180.6h0M762.9 1180.5h0M777.8 1179.9h0M804.3 1179.8h0M764.5 1182.6h0M778.1 1184.1h0M804.5 1184.2h0M811.6 1184.8h0M771.5 1186.7h0M818.8 1189.3h0M754.7 1190.5h0M788.6 1190.9h0M790.8 1191.2h0M797.8 1190.3h0M822.2 1190.9h0M806.4 1192.6h0M776.4 1194.4h0M778.5 1194.9h0M824.2 1195.1h0M765.4 1197.6h0M779.9 1197.2h0M814.0 1197.5h0M818.1 1197.1h0M772.4 1198.5h0M783.3 1203.0h0M802.6 1203.0h0M793.2 1207.7h0M807.8 1207.0h0M790.7 1211.5h0M805.0 1212.0h0M817.1 1211.8h0M794.8 1213.0h0M799.4 1218.0h0M817.5 1219.9h0M812.2 1232.2h0" stroke="#ec5157" stroke-width="2.20" stroke-linecap="round" fill="none"/><path fill="#ec5157" d="M760.9 1253.4C762.9 1250 767 1249.8 770.4 1248.6C773.7 1247.5 777.5 1246.3 781 1246.3C784.6 1246.3 788.7 1247.1 791.7 1248.6C794.6 1250.2 797.1 1252.4 798.8 1255.8C800.6 1259.1 801.9 1264.7 802.3 1268.8C802.7 1273 802.5 1277.3 801.1 1280.7C799.7 1284 797.4 1287 794 1289C790.7 1290.9 785 1292.3 781 1292.5C777.1 1292.7 773.5 1291.9 770.4 1290.1C767.2 1288.4 764.1 1285.4 762.1 1281.8C760.1 1278.3 758.8 1273.5 758.6 1268.8C758.4 1264.1 759 1256.7 760.9 1253.4Z"/><path d="M773.3 1248.0h0M781.6 1248.0h0M788.4 1248.2h0M771.9 1249.8h0M773.8 1250.1h0M781.0 1250.6h0M784.9 1249.8h0M791.2 1249.7h0M764.4 1252.5h0M772.9 1251.9h0M777.3 1251.5h0M780.0 1251.9h0M782.1 1251.8h0M786.1 1251.6h0M790.0 1252.5h0M794.5 1252.4h0M763.1 1253.9h0M769.3 1254.0h0M775.7 1253.5h0M778.0 1253.7h0M781.0 1254.1h0M782.2 1253.4h0M787.1 1253.9h0M794.3 1253.9h0M796.4 1254.4h0M762.2 1255.9h0M764.3 1255.6h0M770.2 1255.4h0M777.5 1256.0h0M779.1 1255.8h0M784.0 1255.4h0M785.6 1255.4h0M790.9 1255.4h0M793.0 1256.2h0M796.8 1255.7h0M761.1 1257.4h0M767.8 1257.6h0M775.8 1257.4h0M778.7 1257.4h0M782.9 1257.4h0M785.5 1257.8h0M786.6 1257.5h0M791.7 1258.2h0M795.9 1258.2h0M798.2 1258.1h0M762.2 1260.0h0M764.1 1259.1h0M770.5 1259.6h0M776.9 1259.7h0M788.6 1259.5h0M790.3 1259.6h0M795.3 1259.7h0M798.8 1259.2h0M760.3 1261.3h0M764.9 1261.9h0M767.0 1261.5h0M770.0 1261.8h0M782.8 1261.1h0M785.5 1261.0h0M789.1 1261.9h0M796.5 1261.0h0M759.6 1263.3h0M761.7 1263.6h0M764.2 1263.0h0M768.0 1263.0h0M770.7 1263.0h0M773.1 1263.2h0M775.6 1262.9h0M779.7 1262.9h0M781.3 1263.9h0M788.8 1263.5h0M794.9 1263.9h0M798.9 1263.3h0M763.1 1264.9h0M765.2 1264.9h0M769.5 1265.0h0M776.5 1265.7h0M778.6 1265.8h0M780.5 1264.9h0M784.6 1264.9h0M786.8 1265.6h0M789.2 1265.1h0M793.5 1265.7h0M795.5 1264.8h0M800.8 1265.5h0M762.0 1266.8h0M766.4 1266.8h0M768.2 1267.2h0M774.8 1267.2h0M781.3 1267.0h0M783.8 1267.4h0M785.9 1266.9h0M790.8 1267.1h0M797.2 1266.7h0M799.7 1266.8h0M801.9 1267.1h0M762.6 1269.4h0M765.2 1269.2h0M770.1 1269.6h0M782.4 1269.6h0M785.2 1269.1h0M791.8 1269.1h0M793.8 1269.2h0M796.2 1269.3h0M798.4 1269.7h0M800.3 1269.7h0M759.2 1271.4h0M762.0 1271.0h0M763.8 1270.7h0M767.9 1271.3h0M773.1 1270.6h0M777.8 1271.5h0M781.8 1271.3h0M783.5 1270.7h0M786.4 1271.2h0M787.9 1270.8h0M790.8 1271.1h0M793.2 1271.5h0M799.8 1270.7h0M801.8 1270.9h0M760.3 1272.9h0M764.7 1272.7h0M769.1 1273.0h0M775.7 1273.2h0M778.4 1272.9h0M781.1 1273.2h0M785.4 1272.6h0M787.2 1272.4h0M794.1 1272.8h0M795.5 1272.8h0M798.7 1272.9h0M761.6 1274.8h0M770.8 1274.8h0M773.0 1274.5h0M774.5 1274.9h0M779.8 1274.6h0M784.0 1274.8h0M785.8 1275.2h0M788.5 1274.5h0M790.9 1275.4h0M792.4 1275.1h0M794.8 1274.8h0M797.6 1274.5h0M799.0 1274.5h0M801.1 1275.4h0M773.6 1277.2h0M782.8 1276.6h0M784.5 1276.6h0M791.1 1276.4h0M793.7 1276.5h0M800.6 1276.9h0M762.0 1279.1h0M764.5 1278.9h0M766.5 1279.0h0M768.7 1279.0h0M776.8 1278.5h0M779.9 1278.4h0M781.5 1278.3h0M786.0 1278.4h0M793.0 1278.9h0M799.0 1278.5h0M764.8 1280.5h0M767.4 1280.9h0M769.5 1280.3h0M771.8 1280.8h0M774.3 1280.1h0M780.7 1280.4h0M782.2 1280.0h0M786.6 1280.8h0M789.4 1280.7h0M794.3 1280.7h0M797.9 1280.1h0M800.5 1280.6h0M766.0 1282.9h0M768.7 1282.6h0M770.3 1282.1h0M773.4 1283.0h0M777.3 1282.2h0M779.8 1282.9h0M781.6 1282.4h0M785.9 1282.3h0M788.3 1282.7h0M791.0 1282.2h0M792.9 1282.8h0M765.0 1284.4h0M767.2 1284.8h0M771.9 1284.2h0M774.1 1284.8h0M780.9 1284.8h0M785.5 1284.8h0M786.8 1284.9h0M791.7 1284.7h0M796.0 1284.4h0M768.7 1286.1h0M771.2 1286.7h0M772.6 1286.1h0M775.6 1286.8h0M777.8 1286.2h0M779.6 1285.7h0M782.0 1286.6h0M783.9 1286.5h0M788.6 1286.4h0M793.1 1286.2h0M769.1 1288.4h0M774.0 1288.4h0M778.0 1288.7h0M781.0 1288.6h0M782.8 1288.4h0M785.1 1288.5h0M787.1 1288.7h0M789.0 1287.9h0M794.0 1288.1h0M772.9 1290.2h0M774.5 1290.6h0M777.3 1289.7h0M781.8 1289.7h0M783.9 1289.8h0M781.1 1291.5h0M783.1 1291.9h0" stroke="#ec5157" stroke-width="2.20" stroke-linecap="round" fill="none"/><path fill="#3b8bc3" d="M720.7 1147.9C721 1147.2 722.1 1146.8 723.1 1147.6C724.1 1148.5 725.5 1151.5 726.6 1153.2C727.8 1154.9 728.9 1156.6 730.2 1158C731.5 1159.3 733.4 1160.4 734.3 1161.5C735.2 1162.6 735.7 1163.6 735.5 1164.5C735.3 1165.4 734 1165.9 733.1 1166.9C732.3 1167.8 731 1170.2 730.2 1170.4C729.4 1170.6 728.8 1169.2 728.4 1168C728 1166.9 728.5 1165.1 727.8 1163.3C727.1 1161.5 725.4 1159.2 724.3 1157.4C723.2 1155.5 721.9 1153.6 721.3 1152C720.7 1150.5 720.4 1148.6 720.7 1147.9Z"/></g>
<text transform="translate(909.66 18.40) scale(1.1271 1)" font-family='"Liberation Sans",Arial,sans-serif' font-weight="bold" font-size="23.00" fill="#000">Coronary EC</text>
<text transform="translate(1127.89 70.30) scale(1.1778 1)" font-family='"Liberation Sans",Arial,sans-serif' font-weight="bold" font-size="22.34" fill="#000">Blood brain</text>
<text transform="translate(1137.09 94.50) scale(1.0996 1)" font-family='"Liberation Sans",Arial,sans-serif' font-weight="bold" font-size="23.86" fill="#000">barrier EC</text>
<text transform="translate(745.15 123.30) scale(1.1427 1)" font-family='"Liberation Sans",Arial,sans-serif' font-weight="bold" font-size="24.14" fill="#000">Uterine</text>
<text transform="translate(755.47 147.40) scale(1.0794 1)" font-family='"Liberation Sans",Arial,sans-serif' font-weight="bold" font-size="24.14" fill="#000">VSMC</text>
<text transform="translate(936.50 142.50) scale(1.1534 1)" font-family='"Liberation Sans",Arial,sans-serif' font-weight="bold" font-size="22.62" fill="#000">Brain</text>
<text transform="translate(932.13 166.20) scale(1.0538 1)" font-family='"Liberation Sans",Arial,sans-serif' font-weight="bold" font-size="24.43" fill="#000">art EC</text>
<text transform="translate(651.55 331.30) scale(1.1567 1)" font-family='"Liberation Sans",Arial,sans-serif' font-weight="bold" font-size="22.71" fill="#000">Coronary</text>
<text transform="translate(673.47 355.30) scale(1.0756 1)" font-family='"Liberation Sans",Arial,sans-serif' font-weight="bold" font-size="24.00" fill="#000">VSMC</text>
<text transform="translate(800.71 358.30) scale(1.1241 1)" font-family='"Liberation Sans",Arial,sans-serif' font-weight="bold" font-size="23.17" fill="#000">Brain art</text>
<text transform="translate(818.77 382.20) scale(1.0303 1)" font-family='"Liberation Sans",Arial,sans-serif' font-weight="bold" font-size="24.71" fill="#000">VSMC</text>
<text transform="translate(976.74 287.90) scale(1.2323 1)" font-family='"Liberation Sans",Arial,sans-serif' font-weight="bold" font-size="21.93" fill="#000">Endometrium</text>
<text transform="translate(987.94 311.00) scale(1.2300 1)" font-family='"Liberation Sans",Arial,sans-serif' font-weight="bold" font-size="21.52" fill="#000">capillary EC</text>
<text transform="translate(671.47 516.10) scale(0.9836 1)" font-family='"Liberation Sans",Arial,sans-serif' font-weight="bold" font-size="58.12" fill="#000">A</text>
<text transform="translate(872.04 567.80) scale(1.0481 1)" font-family='"Liberation Sans",Arial,sans-serif' font-weight="bold" font-size="28.00" fill="#000">umap1</text>
<text transform="translate(641.80 329.53) rotate(-90) scale(1.0875 1)" font-family='"Liberation Sans",Arial,sans-serif' font-weight="bold" font-size="28.00">umap2</text>
<path d="M32.1 625.2 V1002.5 H408.6" stroke="#333" stroke-width="1.6" fill="none"/>
<g transform="matrix(0.99595 0 0 1.00000 -443.802 -504.000)"><use xlink:href="#base"/><use xlink:href="#hl"/><g stroke-width="4.10" stroke-linecap="round" fill="none"><path d="M801.1 1177.5h0" stroke="#feedd4"/><path d="M781.4 1165.5h0M760.9 1179.6h0M807.1 1191.4h0M775.3 1194.5h0M779.2 1194.4h0M812.0 1199.7h0M785.6 1205.8h0M815.8 1205.9h0M779.9 1213.5h0" stroke="#fee8c8"/><path d="M803.1 1185.9h0M766.4 1193.8h0M821.1 1194.5h0M765.0 1199.7h0M789.8 1202.0h0M817.3 1207.5h0M808.6 1222.9h0M775.1 1220.3h0M782.0 1219.5h0M802.4 1228.9h0" stroke="#fee1ba"/><path d="M733.3 1164.7h0M744.7 1168.6h0M741.1 1180.0h0M821.3 1159.0h0M815.5 1167.8h0M793.4 1161.7h0M785.7 1165.2h0M781.2 1173.5h0M807.0 1178.8h0M797.9 1194.1h0M757.4 1196.7h0M792.4 1199.7h0M794.2 1203.2h0M758.9 1213.9h0M763.3 1217.8h0M758.2 1220.4h0M797.8 1219.4h0M800.1 1228.1h0M765.3 1231.9h0M768.0 1231.5h0M785.8 1231.5h0M572.5 1318.2h0" stroke="#fddbac"/><path d="M743.2 1159.9h0M739.0 1161.7h0M743.9 1165.7h0M750.1 1170.6h0M735.6 1173.4h0M740.5 1188.5h0M748.4 1202.8h0M811.3 1159.7h0M816.2 1161.3h0M820.3 1162.2h0M808.9 1173.8h0M807.6 1175.5h0M763.5 1162.6h0M772.2 1164.8h0M782.9 1168.4h0M796.6 1168.4h0M804.2 1180.0h0M805.3 1182.5h0M812.5 1188.2h0M779.6 1190.3h0M783.2 1190.3h0M811.2 1194.0h0M768.3 1213.5h0M763.1 1229.4h0M773.5 1228.2h0M772.4 1231.2h0M776.7 1233.5h0M762.7 1237.6h0M802.4 1246.1h0M759.1 1248.3h0M772.2 1247.9h0M796.7 1252.1h0M798.8 1254.0h0M776.8 1263.2h0M803.5 1263.6h0M765.6 1266.1h0M756.5 1269.4h0M795.2 1271.2h0M784.8 1282.2h0M774.6 1289.1h0" stroke="#fdd49e"/><path d="M745.1 1156.9h0M742.4 1161.8h0M739.7 1171.4h0M746.3 1177.3h0M748.9 1185.3h0M748.4 1191.8h0M750.7 1194.1h0M751.5 1196.0h0M756.5 1205.5h0M818.1 1164.2h0M805.9 1173.8h0M761.8 1170.9h0M795.2 1177.0h0M768.5 1200.0h0M808.3 1227.7h0M770.8 1222.1h0M793.3 1222.2h0M771.3 1225.8h0M789.4 1233.9h0M796.6 1234.7h0M755.3 1236.6h0M757.2 1240.0h0M768.9 1243.3h0M756.5 1245.2h0M755.7 1254.0h0M785.5 1259.7h0M762.9 1262.9h0M786.0 1262.9h0M778.1 1265.4h0M757.4 1274.8h0M770.6 1279.6h0M790.3 1279.7h0M766.9 1285.0h0M787.8 1293.9h0" stroke="#fdcc95"/><path d="M728.3 1157.2h0M748.2 1168.7h0M748.8 1174.2h0M740.7 1176.3h0M734.7 1179.4h0M750.8 1181.7h0M742.2 1185.1h0M746.6 1188.8h0M753.7 1188.1h0M748.8 1196.5h0M811.5 1153.5h0M814.0 1159.0h0M804.5 1164.7h0M807.2 1167.1h0M812.6 1173.4h0M823.6 1173.1h0M783.3 1180.1h0M821.2 1187.4h0M763.7 1196.0h0M771.7 1204.7h0M811.1 1233.2h0M762.6 1220.4h0M765.8 1220.1h0M761.8 1226.3h0M768.7 1225.6h0M778.6 1225.6h0M775.1 1236.6h0M794.1 1252.3h0M757.7 1257.6h0M795.7 1260.8h0M754.4 1263.4h0M769.3 1265.2h0M781.8 1265.2h0M780.0 1269.1h0M775.6 1272.2h0M763.0 1273.8h0M777.2 1280.7h0M789.0 1283.3h0M791.5 1289.3h0M797.3 1291.2h0M771.9 1294.3h0M772.8 1297.1h0M787.0 1297.8h0M591.6 1316.9h0" stroke="#fdc38d"/><path d="M739.1 1157.2h0M733.0 1159.8h0M737.6 1165.3h0M745.1 1191.8h0M749.6 1199.8h0M753.6 1204.9h0M756.3 1210.5h0M809.3 1156.5h0M801.9 1158.3h0M808.0 1159.6h0M802.0 1163.9h0M814.6 1165.0h0M802.7 1167.4h0M808.6 1170.2h0M822.0 1170.3h0M817.6 1175.7h0M758.1 1168.9h0M802.7 1174.6h0M770.8 1196.1h0M798.3 1210.7h0M807.9 1216.4h0M815.5 1227.5h0M771.2 1214.5h0M789.3 1216.6h0M800.9 1230.8h0M804.9 1230.9h0M759.7 1233.7h0M770.2 1234.8h0M758.8 1237.8h0M795.5 1236.4h0M781.0 1242.8h0M784.7 1254.2h0M772.2 1266.2h0M767.4 1268.1h0M777.7 1276.9h0M799.0 1277.4h0M774.3 1279.3h0M761.4 1282.6h0M779.6 1285.8h0M761.9 1288.6h0M772.5 1299.6h0M776.6 1263.0h0M793.5 1266.5h0M786.3 1268.1h0" stroke="#fdbb84"/><path d="M727.8 1159.1h0M812.2 1149.5h0M817.9 1153.9h0M812.5 1156.3h0M819.5 1155.7h0M807.5 1164.4h0M818.5 1170.9h0M821.1 1181.3h0M776.2 1183.2h0M801.1 1188.0h0M815.2 1194.2h0M789.3 1205.9h0M818.1 1216.1h0M803.4 1220.2h0M780.3 1222.3h0M766.8 1234.1h0M797.9 1236.9h0M806.4 1239.6h0M760.4 1245.3h0M771.0 1245.6h0M780.9 1251.2h0M796.9 1257.9h0M776.3 1267.9h0M791.6 1271.3h0M801.0 1271.6h0M768.6 1288.3h0M764.6 1294.3h0M782.6 1251.6h0M791.1 1255.2h0M782.9 1256.9h0M767.9 1265.4h0M771.5 1265.9h0M773.8 1266.5h0M769.0 1268.9h0M790.0 1280.3h0M774.2 1283.4h0" stroke="#fdac76"/><path d="M720.2 1150.4h0M730.0 1161.9h0M731.8 1171.2h0M739.2 1184.6h0M743.0 1194.5h0M746.2 1194.5h0M752.3 1202.2h0M760.8 1211.1h0M816.6 1150.4h0M814.6 1175.4h0M815.2 1181.9h0M769.9 1162.7h0M791.9 1176.2h0M789.8 1179.7h0M778.7 1211.6h0M808.3 1233.1h0M765.5 1214.4h0M787.4 1217.4h0M777.7 1220.1h0M799.2 1222.5h0M785.2 1226.4h0M780.4 1228.2h0M806.4 1228.0h0M761.7 1230.7h0M763.1 1233.6h0M780.0 1234.7h0M779.2 1237.8h0M770.1 1240.2h0M773.2 1239.9h0M792.6 1240.7h0M799.5 1240.8h0M808.7 1243.2h0M762.9 1251.7h0M762.7 1260.2h0M775.3 1266.1h0M788.6 1276.4h0M795.1 1282.9h0M777.0 1286.0h0M782.8 1285.8h0M770.4 1248.8h0M771.9 1255.1h0M777.0 1254.6h0M779.4 1258.0h0M784.8 1260.1h0M777.0 1265.6h0M772.5 1268.7h0M767.3 1272.3h0M777.2 1283.4h0M791.1 1283.5h0M786.5 1286.0h0M612.3 1321.5h0" stroke="#fc9c67"/><path d="M732.8 1161.7h0M731.6 1174.4h0M739.1 1173.2h0M751.2 1190.2h0M752.9 1193.8h0M747.0 1200.2h0M757.6 1199.0h0M760.4 1204.9h0M818.6 1181.5h0M756.3 1171.4h0M790.6 1173.7h0M780.9 1178.8h0M787.8 1179.1h0M763.0 1188.6h0M808.7 1199.7h0M761.2 1201.8h0M763.6 1202.5h0M810.5 1224.8h0M761.0 1217.0h0M790.9 1219.9h0M756.2 1222.5h0M800.0 1234.4h0M768.5 1237.5h0M782.2 1237.3h0M783.3 1239.2h0M797.2 1245.1h0M775.1 1248.4h0M756.9 1251.5h0M794.5 1254.2h0M764.6 1259.8h0M800.5 1263.0h0M794.3 1265.1h0M789.3 1273.6h0M761.6 1277.4h0M764.7 1276.6h0M771.8 1277.2h0M785.8 1276.6h0M796.8 1279.7h0M765.3 1282.5h0M777.0 1292.1h0M791.6 1293.9h0M772.8 1251.5h0M783.6 1254.7h0M777.9 1260.6h0M781.3 1260.7h0M781.8 1266.0h0M795.6 1268.1h0M780.9 1271.1h0M772.6 1274.3h0M778.6 1275.1h0M776.7 1280.0h0" stroke="#fc8d59"/><path d="M722.3 1147.6h0M724.7 1150.9h0M726.9 1162.4h0M749.3 1179.6h0M737.7 1182.8h0M757.7 1207.4h0M814.7 1148.0h0M809.5 1150.3h0M800.4 1162.2h0M812.5 1161.3h0M820.2 1167.4h0M822.9 1179.4h0M764.0 1168.9h0M800.0 1173.6h0M808.8 1182.8h0M793.1 1197.3h0M767.5 1207.8h0M783.0 1217.8h0M773.4 1222.2h0M791.5 1230.7h0M783.3 1233.5h0M771.5 1237.4h0M791.2 1236.7h0M796.3 1239.9h0M803.7 1239.4h0M763.7 1246.2h0M792.1 1247.9h0M767.5 1250.9h0M770.1 1251.7h0M790.7 1251.2h0M798.0 1260.7h0M787.8 1266.2h0M796.1 1269.1h0M760.5 1274.4h0M774.7 1282.2h0M782.5 1287.9h0M794.2 1288.8h0M770.0 1291.0h0M786.9 1292.2h0M768.6 1294.8h0M766.9 1257.7h0M774.3 1259.7h0M788.1 1260.7h0M794.1 1260.9h0M779.2 1263.4h0M775.5 1274.0h0M771.0 1277.2h0" stroke="#f88053"/><path d="M728.6 1162.5h0M739.1 1168.6h0M741.1 1167.4h0M745.9 1173.6h0M821.8 1164.9h0M800.6 1167.6h0M812.1 1170.9h0M809.2 1178.8h0M794.9 1219.5h0M786.9 1223.6h0M798.1 1226.3h0M807.6 1238.0h0M760.7 1240.7h0M754.1 1251.1h0M767.6 1257.8h0M776.8 1257.5h0M787.5 1256.9h0M755.5 1266.2h0M785.1 1265.8h0M793.1 1267.9h0M784.3 1271.5h0M777.2 1274.8h0M779.4 1279.8h0M798.7 1283.0h0M793.2 1286.0h0M765.8 1288.4h0M766.5 1296.4h0M781.2 1255.3h0M783.3 1262.4h0M764.9 1266.2h0M791.6 1265.9h0M783.5 1269.4h0M774.6 1271.5h0M788.3 1271.4h0M794.9 1277.8h0M785.8 1279.5h0" stroke="#f3724e"/><path d="M719.2 1148.3h0M723.9 1157.3h0M728.3 1158.7h0M742.2 1156.1h0M746.0 1159.5h0M735.3 1162.8h0M729.7 1165.3h0M736.3 1170.5h0M743.6 1171.3h0M733.6 1176.7h0M749.7 1176.4h0M740.0 1183.0h0M743.3 1183.0h0M747.4 1182.2h0M745.9 1184.7h0M750.4 1188.2h0M758.5 1202.9h0M767.4 1217.2h0M785.0 1219.9h0M795.3 1226.2h0M789.3 1228.5h0M758.7 1231.4h0M775.6 1231.9h0M785.5 1237.7h0M787.4 1239.4h0M758.3 1243.3h0M761.9 1248.1h0M788.4 1253.5h0M804.2 1254.6h0M780.7 1256.6h0M772.8 1263.4h0M790.2 1263.0h0M779.4 1274.4h0M786.8 1280.8h0M800.7 1279.8h0M770.8 1286.5h0M789.4 1285.9h0M772.9 1291.6h0M777.6 1296.6h0M781.6 1248.4h0M770.2 1252.4h0M775.9 1251.6h0M793.5 1254.0h0M768.0 1259.7h0M791.5 1260.8h0M784.7 1266.7h0M788.8 1268.8h0M777.7 1271.2h0M770.0 1274.4h0M598.4 1263.2h0M753.8 1432.3h0" stroke="#ef6548"/><path d="M722.8 1153.4h0M728.3 1165.3h0M730.6 1167.4h0M739.5 1158.9h0M746.8 1171.2h0M744.1 1177.0h0M762.1 1208.5h0M778.5 1213.9h0M766.4 1222.3h0M776.9 1223.0h0M791.1 1225.6h0M776.2 1228.9h0M773.1 1233.6h0M763.6 1239.2h0M777.6 1239.6h0M774.1 1246.5h0M786.6 1246.3h0M799.9 1245.4h0M778.8 1254.8h0M793.8 1256.5h0M775.3 1260.0h0M762.2 1266.5h0M788.5 1272.1h0M782.8 1274.2h0M797.2 1274.9h0M793.0 1280.4h0M784.3 1289.0h0M767.6 1291.8h0M778.3 1294.9h0M777.6 1249.5h0M783.9 1248.6h0M767.0 1252.4h0M775.9 1258.2h0M789.4 1257.6h0M793.0 1257.2h0M764.9 1260.0h0M796.6 1263.9h0M766.4 1268.9h0M784.7 1272.4h0M774.5 1277.1h0M787.9 1276.7h0M779.7 1280.1h0M776.4 1286.5h0M616.9 1253.0h0" stroke="#e7533a"/><path d="M739.5 1164.5h0M741.1 1191.0h0M755.9 1207.9h0M775.9 1243.2h0M768.2 1248.1h0M756.7 1262.5h0M801.0 1266.2h0M783.3 1267.8h0M759.0 1272.0h0M778.5 1271.8h0M766.2 1280.1h0M758.2 1283.5h0M768.0 1282.8h0M781.3 1283.6h0M786.2 1285.1h0M780.6 1290.8h0M775.9 1299.7h0M764.6 1254.4h0M788.2 1253.9h0M769.9 1257.4h0M769.7 1263.7h0M786.5 1263.8h0M788.6 1263.3h0M788.2 1265.3h0M775.5 1268.1h0M791.8 1275.3h0M778.1 1277.8h0M769.3 1280.1h0M780.4 1282.5h0" stroke="#df422d"/><path d="M726.4 1153.0h0M727.1 1157.1h0M731.6 1165.2h0M735.6 1171.1h0M744.5 1162.4h0M726.9 1165.3h0M730.2 1171.1h0M742.0 1174.0h0M782.0 1271.1h0M764.3 1285.0h0M786.6 1252.2h0M774.7 1253.8h0M772.9 1256.9h0M786.2 1256.7h0M771.9 1261.1h0M771.1 1271.4h0M786.4 1275.2h0M791.3 1277.9h0M788.4 1283.4h0M779.4 1286.4h0" stroke="#d7301f"/><path d="M787.1 1248.3h0M792.2 1268.6h0M764.5 1272.4h0M794.9 1271.3h0M766.3 1273.7h0M781.9 1274.1h0M780.9 1277.1h0M773.6 1280.1h0M782.4 1280.5h0" stroke="#cb2015"/><path d="M767.8 1249.4h0M774.5 1249.6h0M779.0 1251.9h0M768.0 1254.4h0M773.4 1263.5h0M788.6 1274.2h0M768.2 1277.4h0" stroke="#bf100a"/><path d="M779.0 1268.6h0M792.1 1279.7h0M784.6 1283.9h0" stroke="#b30000"/></g></g>
<text transform="translate(45.26 653.90) scale(1.0527 1)" font-family='"Liberation Sans",Arial,sans-serif' font-weight="bold" font-size="39.00" fill="#000">CDH5</text>
<text transform="translate(61.15 970.00) scale(0.8726 1)" font-family='"Liberation Sans",Arial,sans-serif' font-weight="bold" font-size="60.87" fill="#000">B</text>
<text transform="translate(175.92 1028.80) scale(0.9224 1)" font-family='"Liberation Sans",Arial,sans-serif' font-weight="bold" font-size="28.60" fill="#000">umap1</text>
<text transform="translate(20.80 857.23) rotate(-90) scale(0.9383 1)" font-family='"Liberation Sans",Arial,sans-serif' font-weight="bold" font-size="29.00">umap2</text>
<rect x="138.2" y="1053.2" width="245.7" height="19.5" fill="url(#cb)"/>
<path d="M138.2 1053.2v3.9M138.2 1072.7v-3.9M212.2 1053.2v3.9M212.2 1072.7v-3.9M286.2 1053.2v3.9M286.2 1072.7v-3.9M360.2 1053.2v3.9M360.2 1072.7v-3.9" stroke="#fff" stroke-width="0.8" opacity="0.45"/>
<g font-family='"Liberation Sans",Arial,sans-serif' font-size="21.5" text-anchor="middle"><text x="138.2" y="1096.1">0</text><text x="212.2" y="1096.1">1</text><text x="286.2" y="1096.1">2</text><text x="360.2" y="1096.1">3</text></g>
<path d="M484.4 627.9 V1004.3 H861.3" stroke="#333" stroke-width="1.6" fill="none"/>
<g transform="matrix(0.99971 0 0 0.99711 5.743 -498.292)"><use xlink:href="#base"/><use xlink:href="#hl"/><path fill="#dd3d29" d="M494.9 1304.6C494.9 1299.9 498.2 1290.4 500.8 1286C503.4 1281.6 507.6 1280.3 510.6 1278.2C513.5 1276 516 1274.9 518.4 1273.3C520.9 1271.6 523.6 1268.7 525.3 1268.4C526.9 1268 528.2 1269.7 528.2 1271.3C528.2 1272.9 526.1 1275.4 525.3 1278.1C524.5 1280.9 523 1285.5 523.3 1287.9C523.6 1290.4 525.8 1291.2 527.2 1292.8C528.7 1294.5 530.5 1296.3 532.1 1297.7C533.8 1299.2 535.4 1300.8 537 1301.6C538.7 1302.4 540.7 1301.3 542.1 1302.6C543.6 1303.8 545.1 1306.4 545.8 1309C546.6 1311.6 546.9 1315.3 546.8 1318.2C546.6 1321.2 546.2 1324.7 544.9 1326.5C543.6 1328.4 540.6 1328.2 539 1329.3C537.4 1330.4 536.7 1331.4 535.1 1333C533.4 1334.6 531.6 1338.5 529.2 1338.9C526.7 1339.2 523.5 1337.2 520.4 1335C517.3 1332.7 513.8 1328.6 510.6 1325.2C507.3 1321.7 503.4 1317.8 500.8 1314.4C498.2 1311 494.9 1309.3 494.9 1304.6Z"/><path fill="#d62f1e" d="M540.1 1300.6C541.1 1297.2 543.8 1295.8 546.2 1294.5C548.6 1293.1 551.6 1292.4 554.3 1292.4C557 1292.4 559.7 1293.5 562.4 1294.5C565.1 1295.5 567.8 1296.8 570.5 1298.5C573.2 1300.2 575.3 1302.6 578.6 1304.6C582 1306.6 587.1 1309.3 590.8 1310.7C594.5 1312 597.6 1312.7 600.9 1312.7C604.3 1312.7 608 1311 611.1 1310.7C614.1 1310.4 616.8 1309.3 619.2 1310.7C621.6 1312 624.2 1315.8 625.3 1318.8C626.4 1321.8 626 1325.7 625.8 1328.9C625.7 1332.2 625.4 1335.4 624.3 1338.1C623.2 1340.8 621.4 1343 619.2 1345.2C617 1347.4 613.8 1349.7 611.1 1351.2C608.4 1352.8 605.2 1353.3 603 1354.3C600.8 1355.3 600.6 1357.2 597.9 1357.3C595.2 1357.5 590 1356.1 586.8 1355.3C583.5 1354.5 581.3 1352.9 578.6 1352.3C575.9 1351.6 572.6 1352.6 570.5 1351.2C568.5 1349.9 568.2 1346.9 566.5 1344.1C564.8 1341.4 562.8 1337.4 560.4 1335C558 1332.7 554.6 1331.1 552.3 1330C549.9 1328.8 547.9 1329.1 546.2 1327.9C544.5 1326.7 543.2 1325.1 542.1 1322.9C541.1 1320.7 540.5 1318.5 540.1 1314.7C539.8 1311 539.1 1303.9 540.1 1300.6Z"/><g stroke-width="4.10" stroke-linecap="round" fill="none"><path d="M773.9 1228.0h0" stroke="#e6e3df"/><path d="M776.9 1218.0h0M798.0 1219.4h0M783.4 1222.4h0M801.7 1225.3h0M796.0 1234.3h0M775.4 1237.4h0M784.3 1236.9h0M801.1 1237.1h0" stroke="#f2ede6"/><path d="M734.6 1156.9h0M746.5 1171.4h0M745.4 1173.1h0M745.6 1186.1h0M744.1 1193.4h0M745.9 1197.4h0M771.4 1214.3h0M785.5 1226.4h0M757.3 1229.1h0M805.9 1229.3h0M761.9 1232.0h0M801.2 1232.2h0M757.5 1233.8h0M786.6 1234.7h0M781.1 1237.1h0M770.6 1239.9h0M802.9 1240.4h0M762.0 1242.0h0M768.0 1243.4h0M772.3 1242.8h0M769.8 1245.5h0M774.0 1245.5h0M793.3 1246.3h0M782.0 1254.0h0M789.7 1257.4h0M790.0 1262.5h0M760.8 1268.2h0M791.0 1272.2h0M790.7 1255.0h0M774.7 1259.5h0M761.3 1185.4h0M772.6 1188.2h0M733.1 1164.8h0" stroke="#fff7ec"/><path d="M732.5 1157.2h0M745.3 1155.9h0M740.7 1158.8h0M737.1 1165.8h0M738.2 1168.8h0M747.7 1173.3h0M739.9 1188.2h0M758.6 1220.8h0M792.3 1219.4h0M781.0 1230.8h0M791.8 1232.0h0M779.0 1236.5h0M787.6 1237.2h0M797.1 1240.6h0M754.7 1243.2h0M775.3 1242.5h0M784.6 1242.8h0M791.9 1242.7h0M801.4 1243.3h0M756.0 1248.5h0M767.6 1251.6h0M776.3 1251.2h0M777.8 1253.8h0M791.4 1254.5h0M802.2 1254.9h0M761.6 1265.6h0M791.1 1266.3h0M773.2 1267.9h0M797.4 1286.2h0M785.3 1288.4h0M766.2 1290.7h0M766.0 1293.9h0M781.6 1294.5h0M774.8 1249.0h0M784.1 1254.5h0M770.3 1258.1h0M772.7 1263.8h0M772.0 1268.9h0M781.2 1276.8h0M771.5 1283.5h0M777.8 1282.9h0M816.4 1185.9h0M795.3 1188.7h0M807.8 1188.5h0M804.5 1193.1h0M761.2 1203.2h0M787.5 1208.8h0M721.8 1153.9h0" stroke="#fff2e0"/><path d="M732.5 1162.3h0M748.8 1162.4h0M729.5 1164.7h0M740.9 1164.8h0M730.1 1170.9h0M733.5 1176.7h0M743.8 1176.7h0M735.8 1179.7h0M739.1 1184.8h0M778.6 1213.6h0M773.5 1223.6h0M798.1 1226.2h0M776.5 1229.0h0M787.0 1228.2h0M758.1 1231.7h0M759.7 1234.7h0M791.1 1236.6h0M766.6 1239.4h0M760.4 1246.1h0M763.7 1246.5h0M755.4 1259.5h0M775.8 1260.2h0M782.1 1259.3h0M767.4 1262.2h0M783.5 1263.6h0M770.1 1269.2h0M796.1 1268.1h0M794.0 1279.8h0M759.2 1283.6h0M794.2 1282.6h0M775.7 1295.1h0M780.3 1249.3h0M788.4 1249.3h0M770.6 1253.8h0M782.7 1256.9h0M789.9 1256.8h0M794.4 1261.1h0M782.1 1263.8h0M793.9 1266.1h0M764.7 1272.3h0M771.0 1271.5h0M776.9 1275.0h0M774.2 1283.5h0M757.3 1174.1h0M769.5 1175.9h0M820.2 1186.0h0M802.7 1188.6h0M799.6 1191.5h0M782.4 1193.8h0M784.7 1200.2h0M798.7 1200.2h0M724.8 1150.3h0M730.4 1162.8h0M729.3 1165.3h0" stroke="#feedd4"/><path d="M745.7 1162.7h0M748.3 1184.8h0M781.2 1219.5h0M789.3 1223.2h0M779.0 1226.3h0M788.5 1225.1h0M769.9 1228.9h0M763.6 1234.8h0M792.8 1235.0h0M808.5 1237.7h0M763.1 1240.8h0M800.2 1240.1h0M806.4 1239.3h0M795.8 1256.4h0M779.7 1262.6h0M780.3 1274.1h0M765.4 1277.7h0M769.3 1277.9h0M784.3 1283.0h0M770.9 1286.5h0M777.3 1286.3h0M788.3 1289.2h0M797.5 1288.6h0M777.7 1249.2h0M772.8 1252.4h0M782.1 1250.9h0M765.6 1257.5h0M792.7 1257.2h0M792.8 1262.8h0M790.8 1265.7h0M775.8 1268.6h0M782.5 1269.4h0M781.4 1272.5h0M769.9 1274.7h0M782.0 1280.3h0M791.8 1283.7h0M785.2 1285.8h0M769.9 1162.7h0M763.3 1174.3h0M783.7 1174.5h0M756.3 1182.0h0M782.4 1200.1h0M805.1 1199.9h0M776.6 1213.7h0M783.5 1213.4h0M809.4 1224.8h0" stroke="#fee8c8"/><path d="M744.6 1179.7h0M740.8 1182.8h0M750.8 1193.1h0M751.8 1201.9h0M754.8 1203.1h0M756.5 1211.4h0M780.0 1234.1h0M789.8 1245.3h0M797.5 1249.3h0M755.1 1254.6h0M756.7 1257.5h0M779.9 1257.2h0M772.1 1266.0h0M760.2 1280.5h0M787.5 1282.6h0M798.9 1282.2h0M760.8 1285.7h0M761.3 1289.2h0M790.3 1291.2h0M788.5 1251.3h0M780.5 1254.3h0M786.2 1256.8h0M777.3 1260.1h0M781.5 1266.4h0M779.5 1269.1h0M788.7 1268.1h0M775.1 1272.0h0M773.3 1280.8h0M786.9 1282.4h0M759.3 1164.7h0M774.9 1164.6h0M785.2 1166.0h0M778.5 1176.3h0M795.3 1177.5h0M777.9 1179.0h0M790.8 1180.0h0M791.4 1182.9h0M812.2 1200.0h0M814.2 1214.6h0M810.8 1230.4h0M720.3 1151.6h0" stroke="#fee1ba"/><path d="M741.2 1168.9h0M742.4 1174.6h0M746.5 1187.5h0M750.8 1199.7h0M762.7 1247.8h0M770.9 1251.5h0M775.5 1254.2h0M768.6 1271.0h0M772.2 1277.5h0M779.1 1282.1h0M775.5 1289.0h0M781.0 1300.7h0M767.3 1248.5h0M766.8 1252.0h0M763.8 1254.5h0M768.0 1254.3h0M776.5 1257.4h0M770.5 1260.5h0M787.4 1272.2h0M782.5 1274.2h0M783.9 1277.1h0M794.1 1277.6h0M781.6 1283.2h0M799.2 1182.7h0M814.3 1183.2h0M779.9 1214.6h0" stroke="#fddbac"/><path d="M793.2 1274.8h0M768.2 1288.9h0M786.6 1297.6h0M778.4 1300.0h0M780.2 1252.2h0M779.4 1257.5h0M789.7 1262.6h0M774.4 1266.5h0M777.3 1266.0h0M783.8 1265.9h0M766.7 1269.5h0M777.6 1271.2h0M787.9 1277.1h0M790.4 1276.8h0M780.0 1281.1h0" stroke="#fdd49e"/><path d="M511.1 1279.6h0M567.7 1266.7h0M561.2 1278.8h0M580.6 1237.8h0" stroke="#fc9c67"/><path d="M521.5 1274.8h0M515.0 1279.6h0M506.6 1283.2h0M508.5 1286.0h0M502.5 1288.6h0M498.7 1303.2h0M506.2 1305.2h0M552.5 1265.1h0M553.6 1267.0h0M548.4 1269.3h0M565.9 1270.0h0M582.8 1279.0h0M551.5 1292.3h0M588.6 1293.5h0M544.1 1295.3h0M579.3 1304.4h0M614.5 1304.6h0M574.4 1220.1h0M578.5 1221.0h0M581.2 1227.0h0M594.3 1225.9h0M559.4 1234.8h0M598.7 1240.3h0M574.6 1244.4h0M580.8 1243.5h0M604.4 1243.1h0M541.1 1249.2h0M558.1 1249.3h0M555.7 1251.5h0" stroke="#fc8d59"/><path d="M504.2 1291.9h0M515.6 1294.9h0M519.6 1293.7h0M512.1 1301.9h0M495.9 1305.2h0M504.1 1314.6h0M547.5 1278.1h0M557.6 1279.2h0M585.8 1281.5h0M573.2 1284.0h0M575.7 1286.4h0M575.7 1292.2h0M595.2 1293.4h0M605.8 1295.3h0M588.0 1303.5h0M594.3 1303.9h0M625.5 1333.5h0M590.8 1227.1h0M598.8 1235.7h0M576.7 1240.0h0M582.2 1245.9h0M544.8 1249.4h0M538.5 1254.4h0M564.4 1255.2h0M581.0 1255.2h0M611.8 1254.9h0M605.4 1257.2h0M547.5 1260.4h0M567.7 1260.3h0M547.3 1263.8h0M596.9 1262.8h0M541.7 1266.7h0M597.6 1273.0h0M593.2 1274.3h0M599.4 1275.1h0M612.9 1274.3h0M610.1 1286.7h0" stroke="#f88053"/><path d="M513.0 1277.4h0M518.4 1279.3h0M512.3 1282.4h0M519.0 1282.2h0M505.5 1286.0h0M521.0 1285.1h0M509.4 1287.9h0M501.0 1290.5h0M498.4 1297.2h0M510.8 1296.9h0M496.0 1299.7h0M502.9 1300.0h0M513.6 1306.0h0M517.1 1305.4h0M514.5 1309.1h0M506.3 1310.4h0M514.0 1313.8h0M508.2 1319.9h0M618.4 1312.0h0M615.3 1315.5h0M614.0 1318.7h0M620.4 1317.8h0M618.6 1320.5h0M622.2 1321.8h0M597.8 1324.2h0M604.5 1323.8h0M618.6 1326.4h0M597.2 1329.3h0M622.3 1332.1h0M617.1 1335.0h0M599.1 1338.5h0M602.9 1337.5h0M612.2 1338.5h0M595.3 1340.9h0M609.1 1348.9h0M558.2 1263.5h0M562.1 1264.8h0M552.3 1270.5h0M566.3 1272.9h0M581.0 1272.4h0M575.1 1275.8h0M550.4 1279.1h0M567.1 1279.3h0M576.8 1278.2h0M571.5 1282.1h0M578.3 1281.3h0M569.8 1284.2h0M565.5 1286.9h0M578.5 1286.8h0M585.1 1298.1h0M596.6 1301.2h0M600.1 1306.8h0M591.2 1309.4h0M573.1 1222.9h0M575.9 1223.2h0M563.4 1229.1h0M592.8 1229.4h0M575.2 1238.1h0M552.4 1241.5h0M551.1 1243.5h0M570.1 1245.8h0M589.4 1246.7h0M612.3 1246.5h0M573.5 1251.4h0M576.4 1251.4h0M606.4 1252.8h0M567.2 1257.9h0M576.2 1257.5h0M609.2 1257.4h0M566.1 1262.9h0M573.7 1263.0h0M590.0 1262.8h0M544.1 1266.9h0M600.9 1266.0h0M546.9 1269.9h0M592.0 1269.8h0M545.7 1271.9h0M588.0 1272.3h0M594.1 1271.4h0M546.0 1275.0h0M603.7 1278.1h0M607.8 1278.7h0M605.9 1280.6h0M596.9 1283.8h0M599.9 1286.0h0" stroke="#f3724e"/><path d="M522.6 1277.2h0M500.9 1285.3h0M506.9 1287.6h0M520.1 1287.7h0M500.0 1293.5h0M510.2 1294.1h0M501.8 1302.2h0M508.2 1303.0h0M517.9 1303.4h0M521.0 1301.9h0M524.0 1302.0h0M504.0 1304.9h0M498.1 1308.7h0M501.1 1307.6h0M505.0 1308.1h0M507.7 1309.2h0M518.8 1309.1h0M531.2 1307.6h0M508.7 1314.3h0M521.3 1314.4h0M518.9 1316.2h0M516.6 1322.8h0M516.6 1328.1h0M572.4 1308.9h0M581.9 1312.3h0M598.3 1313.1h0M607.8 1318.1h0M613.4 1326.1h0M585.0 1330.2h0M587.3 1329.5h0M621.7 1329.6h0M624.2 1328.8h0M586.5 1332.0h0M589.2 1331.9h0M602.2 1332.8h0M605.9 1332.0h0M618.5 1332.4h0M587.5 1335.8h0M597.4 1334.8h0M623.9 1334.9h0M605.4 1338.7h0M616.4 1338.3h0M591.4 1341.8h0M603.8 1340.8h0M607.9 1340.5h0M576.5 1343.2h0M597.6 1346.4h0M604.2 1346.1h0M599.8 1349.7h0M599.8 1355.9h0M565.9 1264.0h0M555.3 1275.6h0M585.2 1274.9h0M587.8 1280.6h0M585.6 1287.8h0M581.0 1295.3h0M582.9 1295.6h0M602.9 1295.8h0M575.1 1298.1h0M587.7 1298.7h0M606.2 1301.1h0M613.1 1307.0h0M582.4 1217.1h0M590.0 1223.7h0M587.4 1225.9h0M555.4 1237.1h0M586.3 1240.1h0M547.8 1249.4h0M567.9 1249.8h0M596.4 1252.0h0M612.7 1252.8h0M544.7 1255.8h0M595.3 1260.1h0M586.8 1263.4h0M590.9 1266.1h0M539.2 1269.2h0M598.8 1269.1h0M603.9 1272.1h0" stroke="#ef6548"/><path d="M517.2 1277.2h0M520.0 1276.9h0M520.8 1280.1h0M510.9 1284.8h0M511.9 1291.6h0M523.4 1293.6h0M504.6 1297.6h0M515.2 1296.4h0M518.4 1297.5h0M525.3 1297.1h0M499.5 1299.5h0M507.1 1299.0h0M525.8 1300.4h0M529.7 1299.9h0M510.0 1305.0h0M528.8 1305.2h0M521.1 1308.8h0M499.4 1311.9h0M519.3 1311.1h0M523.4 1311.6h0M501.3 1314.6h0M517.2 1314.6h0M503.7 1316.5h0M513.6 1316.3h0M525.6 1316.9h0M532.7 1316.2h0M519.8 1328.5h0M527.6 1331.0h0M542.9 1298.3h0M549.7 1298.1h0M552.6 1303.2h0M570.5 1304.5h0M548.6 1307.2h0M564.1 1306.3h0M568.6 1306.4h0M577.6 1305.9h0M582.5 1308.9h0M586.6 1310.1h0M564.4 1312.2h0M571.8 1312.8h0M565.7 1316.1h0M589.2 1315.3h0M593.0 1314.5h0M603.6 1314.8h0M554.4 1318.0h0M557.9 1317.7h0M577.5 1318.3h0M581.0 1318.9h0M601.6 1318.6h0M624.2 1317.7h0M547.3 1321.5h0M547.2 1327.0h0M573.2 1326.4h0M577.2 1326.2h0M579.7 1326.5h0M589.1 1327.5h0M596.9 1326.0h0M599.9 1325.9h0M559.9 1332.4h0M572.9 1332.3h0M598.7 1332.5h0M594.7 1334.9h0M600.4 1335.5h0M607.0 1335.7h0M620.9 1334.8h0M576.8 1338.8h0M580.0 1337.9h0M582.7 1338.6h0M619.4 1337.4h0M621.6 1341.0h0M598.8 1344.0h0M585.1 1346.2h0M591.2 1346.2h0M613.7 1347.1h0M573.0 1349.3h0M582.4 1350.4h0M602.5 1349.7h0M613.3 1349.8h0M584.4 1352.1h0M589.7 1355.6h0M564.0 1266.5h0M550.1 1272.1h0M548.8 1275.6h0M586.2 1278.9h0M576.4 1284.2h0M555.9 1288.0h0M585.1 1292.9h0M579.0 1299.2h0M582.3 1298.2h0M579.7 1300.9h0M585.5 1304.0h0M606.2 1353.2h0M578.8 1228.9h0M574.7 1232.5h0M602.6 1235.7h0M561.0 1237.4h0M594.0 1237.4h0M564.3 1243.2h0M577.4 1248.8h0M563.8 1252.5h0M579.0 1252.1h0M561.9 1254.4h0M608.1 1255.8h0M610.4 1260.2h0M594.7 1266.2h0M609.3 1269.4h0M616.0 1298.0h0" stroke="#e7533a"/><path d="M509.7 1283.1h0M517.2 1282.1h0M523.5 1282.7h0M515.2 1285.2h0M512.4 1288.8h0M523.4 1288.4h0M515.2 1290.6h0M507.2 1294.4h0M501.5 1297.4h0M528.1 1296.7h0M516.3 1299.6h0M505.0 1302.7h0M499.2 1306.1h0M520.1 1305.0h0M526.2 1306.0h0M533.6 1305.7h0M524.4 1308.1h0M528.7 1308.5h0M516.0 1311.6h0M533.4 1310.8h0M510.7 1313.9h0M525.2 1314.8h0M534.1 1314.5h0M544.6 1314.5h0M506.2 1317.7h0M537.4 1320.2h0M509.6 1322.3h0M519.0 1322.8h0M525.7 1322.0h0M511.2 1325.4h0M531.4 1324.8h0M517.9 1330.6h0M524.2 1330.8h0M562.3 1294.7h0M564.1 1301.6h0M568.9 1300.6h0M570.8 1301.1h0M546.7 1303.8h0M550.5 1304.3h0M552.1 1306.3h0M544.3 1311.8h0M567.7 1312.5h0M543.3 1315.4h0M554.0 1314.9h0M570.4 1314.7h0M583.8 1316.0h0M608.8 1315.5h0M613.0 1314.9h0M552.2 1317.4h0M568.0 1318.9h0M574.6 1318.8h0M597.7 1318.7h0M618.3 1318.8h0M576.0 1320.3h0M609.4 1320.2h0M615.3 1320.5h0M584.1 1323.9h0M618.2 1323.7h0M550.5 1326.6h0M565.8 1326.0h0M582.9 1327.1h0M606.1 1326.3h0M609.5 1327.3h0M622.0 1327.2h0M551.6 1329.6h0M561.3 1329.9h0M578.7 1328.9h0M605.0 1329.0h0M567.9 1335.2h0M586.2 1337.5h0M609.7 1338.3h0M574.9 1340.2h0M577.9 1340.3h0M582.0 1341.1h0M597.8 1340.9h0M592.4 1343.4h0M616.3 1343.7h0M620.0 1344.0h0M580.8 1346.9h0M608.0 1346.4h0M610.5 1347.5h0M588.1 1351.8h0M593.3 1354.7h0M556.5 1261.2h0M562.3 1270.7h0M571.4 1270.1h0M582.6 1276.0h0M548.4 1281.9h0M560.2 1284.0h0M573.8 1289.9h0M581.8 1292.5h0M591.6 1292.5h0M570.4 1295.0h0M593.8 1295.8h0M592.1 1297.9h0M604.0 1301.0h0M612.7 1302.2h0M604.7 1303.7h0M587.5 1307.7h0M610.3 1306.8h0M625.8 1329.2h0M612.1 1350.8h0M579.2 1217.7h0M569.3 1223.8h0M585.3 1227.2h0M569.1 1234.4h0M592.8 1241.0h0M558.3 1244.0h0M576.0 1246.8h0M606.0 1247.0h0M551.2 1255.1h0M578.3 1255.6h0M605.5 1262.9h0M595.3 1269.0h0M537.6 1271.4h0M586.5 1275.1h0M595.5 1280.1h0M606.1 1292.3h0" stroke="#df422d"/><path d="M518.3 1273.9h0M517.8 1285.7h0M515.6 1287.9h0M507.7 1291.1h0M518.8 1291.8h0M520.6 1291.3h0M525.1 1291.0h0M504.0 1294.3h0M513.1 1293.3h0M507.9 1296.8h0M509.8 1300.0h0M511.2 1307.6h0M534.7 1308.1h0M503.1 1310.4h0M512.8 1311.9h0M539.4 1311.4h0M539.9 1316.6h0M510.8 1319.6h0M523.0 1322.8h0M529.4 1322.6h0M515.5 1325.2h0M523.9 1325.6h0M540.6 1304.5h0M572.8 1304.3h0M561.1 1307.0h0M571.9 1306.5h0M550.8 1309.8h0M560.1 1309.6h0M565.7 1308.9h0M575.9 1309.3h0M551.9 1312.2h0M585.1 1312.0h0M611.6 1312.9h0M586.5 1314.6h0M619.1 1315.6h0M564.9 1318.2h0M571.3 1318.0h0M585.3 1317.7h0M594.9 1318.6h0M563.0 1321.6h0M579.0 1321.4h0M593.0 1321.8h0M600.1 1320.4h0M613.2 1320.4h0M545.7 1324.4h0M551.4 1323.7h0M587.6 1324.4h0M601.5 1323.4h0M559.3 1327.4h0M586.1 1326.1h0M593.6 1326.3h0M616.4 1326.9h0M558.3 1329.7h0M564.9 1329.1h0M593.8 1328.9h0M610.2 1329.2h0M617.0 1330.0h0M556.0 1331.9h0M576.5 1332.4h0M595.6 1331.6h0M616.6 1332.9h0M585.4 1336.0h0M614.5 1335.0h0M570.5 1338.3h0M622.7 1338.5h0M601.8 1340.2h0M610.7 1341.3h0M617.4 1340.3h0M579.2 1344.2h0M583.7 1344.1h0M586.1 1344.7h0M589.9 1344.5h0M606.9 1344.3h0M567.4 1347.6h0M575.3 1346.6h0M578.4 1347.4h0M601.6 1346.6h0M576.0 1349.4h0M592.0 1353.1h0M602.0 1352.7h0M559.7 1273.3h0M554.6 1279.4h0M557.1 1284.6h0M594.6 1286.6h0M547.3 1290.7h0M551.2 1290.0h0M570.7 1289.4h0M586.7 1300.9h0M594.2 1301.2h0M596.9 1307.1h0M597.6 1309.3h0M615.4 1309.2h0M597.7 1231.5h0M606.7 1234.8h0M598.3 1238.4h0M552.6 1246.0h0M585.7 1245.8h0M574.8 1249.6h0M586.3 1253.0h0M536.1 1258.3h0M589.7 1257.8h0M572.2 1260.9h0M574.7 1267.2h0M604.1 1267.1h0" stroke="#d7301f"/><path d="M522.7 1271.9h0M526.8 1270.9h0M524.3 1274.9h0M523.8 1279.6h0M525.7 1293.7h0M513.3 1299.7h0M515.0 1303.3h0M528.5 1302.4h0M538.4 1302.8h0M540.8 1303.4h0M523.7 1306.0h0M537.3 1308.3h0M544.4 1308.0h0M509.6 1311.4h0M526.8 1310.8h0M541.2 1314.0h0M523.1 1316.1h0M536.6 1316.3h0M514.9 1319.2h0M524.1 1320.3h0M527.5 1319.6h0M533.9 1320.2h0M540.8 1319.4h0M513.5 1322.9h0M535.8 1322.2h0M542.5 1322.7h0M521.5 1331.9h0M531.9 1331.9h0M532.2 1334.8h0M548.3 1295.5h0M557.6 1295.4h0M563.6 1297.7h0M554.7 1300.5h0M563.0 1303.3h0M544.4 1306.7h0M558.5 1306.0h0M581.7 1307.4h0M579.7 1309.3h0M548.5 1313.2h0M554.4 1311.9h0M561.2 1312.2h0M592.0 1311.7h0M608.4 1312.7h0M555.8 1315.1h0M573.8 1315.4h0M576.7 1314.8h0M596.9 1315.7h0M599.3 1315.5h0M622.3 1315.7h0M587.9 1318.0h0M590.5 1318.7h0M603.9 1317.6h0M543.2 1320.4h0M566.6 1321.0h0M573.7 1320.9h0M583.7 1320.2h0M585.8 1321.7h0M595.4 1320.4h0M602.1 1321.7h0M605.5 1321.3h0M558.7 1323.1h0M590.8 1324.1h0M614.6 1323.3h0M621.7 1323.3h0M625.0 1324.0h0M552.8 1326.1h0M557.0 1327.2h0M571.8 1330.1h0M574.9 1329.1h0M600.6 1329.8h0M613.8 1329.3h0M583.1 1333.0h0M571.4 1334.8h0M574.4 1335.4h0M567.0 1338.1h0M590.4 1338.6h0M588.1 1340.8h0M614.9 1340.8h0M566.6 1344.7h0M569.1 1343.2h0M609.8 1344.2h0M613.2 1344.2h0M571.5 1347.5h0M587.3 1346.5h0M594.5 1346.0h0M580.5 1349.7h0M606.9 1349.1h0M582.1 1352.9h0M597.5 1353.0h0M604.7 1352.9h0M608.0 1351.8h0M555.9 1269.7h0M558.4 1276.4h0M589.7 1284.2h0M552.3 1286.6h0M558.4 1287.8h0M561.9 1287.3h0M572.8 1286.5h0M579.8 1289.4h0M548.5 1293.4h0M618.1 1350.8h0M568.8 1226.7h0M603.8 1237.4h0M556.8 1240.2h0M583.6 1240.8h0M550.2 1245.8h0M600.4 1248.9h0M553.3 1257.6h0M601.2 1260.8h0M582.5 1262.8h0M600.0 1263.6h0M580.4 1267.3h0M588.8 1275.5h0M607.7 1290.0h0M617.3 1300.8h0" stroke="#cb2015"/><path d="M521.8 1296.7h0M531.3 1297.2h0M519.6 1299.0h0M523.7 1299.9h0M535.2 1303.1h0M539.0 1305.9h0M528.7 1310.6h0M535.6 1310.6h0M528.5 1314.1h0M531.6 1313.8h0M510.1 1316.1h0M516.5 1316.9h0M546.8 1317.8h0M517.6 1320.3h0M537.1 1325.2h0M544.9 1326.0h0M532.3 1328.6h0M536.1 1327.8h0M538.8 1329.1h0M533.8 1331.3h0M525.6 1333.7h0M551.4 1295.7h0M554.5 1295.1h0M546.8 1298.8h0M556.4 1297.7h0M560.4 1298.9h0M567.1 1298.4h0M544.6 1300.6h0M551.2 1300.5h0M558.0 1300.4h0M556.1 1303.1h0M559.9 1304.2h0M567.2 1304.2h0M575.2 1306.3h0M563.1 1309.7h0M570.3 1310.2h0M574.9 1312.7h0M578.2 1313.3h0M587.4 1313.1h0M593.8 1313.2h0M604.7 1312.3h0M614.6 1313.2h0M547.2 1315.3h0M560.4 1315.0h0M605.6 1315.0h0M541.4 1318.9h0M560.8 1317.4h0M611.8 1318.9h0M553.2 1321.2h0M569.9 1320.9h0M589.6 1321.3h0M548.7 1323.4h0M554.4 1323.6h0M565.6 1323.7h0M568.0 1324.5h0M572.0 1324.2h0M594.2 1323.3h0M608.5 1324.0h0M610.5 1323.8h0M563.8 1326.7h0M569.4 1327.4h0M602.3 1326.1h0M581.6 1330.1h0M591.3 1329.0h0M607.4 1329.8h0M563.4 1331.7h0M592.6 1331.7h0M610.0 1333.3h0M612.1 1332.4h0M561.9 1335.6h0M564.9 1335.8h0M581.9 1334.6h0M604.9 1335.9h0M610.6 1334.9h0M593.5 1337.8h0M568.2 1341.3h0M571.3 1341.1h0M596.0 1344.6h0M602.1 1344.0h0M569.3 1350.0h0M586.8 1348.9h0M590.1 1349.8h0M595.7 1348.9h0M594.2 1352.0h0M596.8 1355.0h0M570.8 1266.3h0M559.3 1270.0h0M572.2 1275.6h0M564.5 1279.2h0M561.9 1280.8h0M592.4 1280.7h0M589.4 1295.9h0M592.4 1303.5h0M608.1 1304.3h0M615.2 1350.7h0M570.7 1220.8h0M565.9 1229.1h0M599.5 1229.6h0M561.6 1232.4h0M588.3 1232.0h0M601.1 1237.1h0M607.8 1238.0h0M559.5 1241.5h0M605.8 1240.6h0M561.9 1243.7h0M600.5 1244.1h0M582.9 1252.2h0M604.8 1254.3h0M599.3 1257.3h0M612.9 1257.4h0M598.2 1261.4h0M597.2 1265.7h0M586.9 1269.5h0M601.8 1289.0h0M611.6 1294.4h0" stroke="#bf100a"/><path d="M532.4 1299.1h0M531.9 1302.7h0M542.7 1311.0h0M528.7 1316.7h0M521.7 1320.3h0M531.7 1319.8h0M518.2 1325.2h0M527.4 1326.3h0M530.3 1329.2h0M523.5 1333.4h0M553.1 1297.8h0M547.8 1301.5h0M543.0 1304.0h0M576.6 1303.8h0M539.7 1310.0h0M546.6 1309.7h0M553.0 1309.4h0M556.5 1309.1h0M558.4 1312.9h0M563.7 1315.4h0M579.1 1315.8h0M549.8 1321.7h0M560.5 1320.5h0M561.9 1324.7h0M574.6 1323.6h0M578.6 1324.3h0M581.1 1324.4h0M554.3 1329.5h0M567.8 1329.3h0M566.5 1331.9h0M569.6 1332.6h0M579.3 1332.3h0M578.4 1335.3h0M590.5 1335.8h0M564.0 1337.5h0M572.4 1338.4h0M596.6 1338.0h0M564.1 1340.4h0M585.0 1340.8h0M573.3 1343.6h0M592.2 1349.3h0M553.5 1260.7h0M575.8 1270.5h0M577.2 1273.5h0M574.1 1278.4h0M568.2 1282.0h0M554.6 1284.8h0M592.3 1287.3h0M583.9 1289.4h0M592.7 1290.8h0M586.1 1294.9h0M590.3 1301.5h0M582.0 1305.0h0M589.7 1307.2h0M602.8 1307.3h0M611.8 1310.0h0M624.9 1338.1h0M623.1 1341.1h0M620.0 1347.9h0M569.0 1241.0h0M548.4 1244.1h0M583.8 1244.3h0M546.4 1246.1h0M595.5 1258.3h0M545.3 1260.2h0M551.8 1260.9h0M612.7 1262.8h0M591.8 1271.9h0M607.2 1272.1h0M590.9 1278.4h0" stroke="#b30000"/><path d="M535.7 1306.2h0M542.8 1305.1h0M541.9 1309.0h0M532.5 1322.9h0M521.2 1326.3h0M522.9 1328.5h0M527.0 1327.9h0M519.0 1334.7h0M530.4 1334.6h0M542.6 1300.3h0M561.8 1300.6h0M541.2 1307.0h0M554.8 1306.7h0M541.1 1312.2h0M549.3 1315.8h0M544.3 1317.4h0M548.1 1317.6h0M557.3 1321.2h0M581.1 1282.1h0M549.3 1287.2h0M546.1 1293.2h0M602.4 1292.1h0M572.5 1298.6h0M583.8 1302.2h0M600.0 1301.8h0M608.6 1310.3h0M621.6 1344.0h0M610.7 1352.3h0M592.2 1235.5h0M601.9 1240.5h0M566.7 1246.3h0M551.5 1249.5h0M566.0 1252.8h0M554.4 1255.4h0M587.1 1255.0h0M543.9 1264.0h0M578.6 1266.0h0M542.3 1272.3h0M584.3 1271.4h0M602.1 1286.0h0" stroke="#a20000"/><path d="M537.0 1313.3h0M542.6 1317.4h0M534.4 1325.1h0M540.4 1326.2h0M528.7 1336.6h0M543.0 1310.2h0M584.2 1307.2h0M594.3 1309.5h0M547.2 1258.5h0M609.2 1264.2h0M544.7 1278.3h0" stroke="#900000"/><path d="M544.7 1320.4h0M539.4 1322.9h0" stroke="#7f0000"/></g></g>
<text transform="translate(499.86 654.00) scale(1.0146 1)" font-family='"Liberation Sans",Arial,sans-serif' font-weight="bold" font-size="37.14" fill="#000">ACTA2</text>
<text transform="translate(525.11 976.40) scale(1.0633 1)" font-family='"Liberation Sans",Arial,sans-serif' font-weight="bold" font-size="56.29" fill="#000">C</text>
<text transform="translate(627.99 1030.60) scale(0.9391 1)" font-family='"Liberation Sans",Arial,sans-serif' font-weight="bold" font-size="28.60" fill="#000">umap1</text>
<text transform="translate(473.10 859.48) rotate(-90) scale(0.9383 1)" font-family='"Liberation Sans",Arial,sans-serif' font-weight="bold" font-size="29.00">umap2</text>
<rect x="597.0" y="1055.0" width="246.5" height="19.0" fill="url(#cb)"/>
<path d="M597.0 1055.0v3.8M597.0 1074.0v-3.8M676.9 1055.0v3.8M676.9 1074.0v-3.8M756.8 1055.0v3.8M756.8 1074.0v-3.8M836.7 1055.0v3.8M836.7 1074.0v-3.8" stroke="#fff" stroke-width="0.8" opacity="0.45"/>
<g font-family='"Liberation Sans",Arial,sans-serif' font-size="21.5" text-anchor="middle"><text x="597.0" y="1097.4">0</text><text x="676.9" y="1097.4">2</text><text x="756.8" y="1097.4">4</text><text x="836.7" y="1097.4">6</text></g>
<path d="M928.7 626.6 V1004.3 H1304.6" stroke="#333" stroke-width="1.6" fill="none"/>
<g transform="matrix(0.99827 0 0 0.99913 450.756 -501.008)"><use xlink:href="#base"/><use xlink:href="#hl"/><g stroke-width="4.10" stroke-linecap="round" fill="none"><path d="M819.5 1161.6h0M811.2 1164.7h0M759.5 1165.7h0M792.1 1165.0h0M760.8 1168.7h0M788.2 1176.2h0M796.8 1191.8h0M810.7 1196.0h0M789.1 1199.3h0M760.9 1202.6h0M823.3 1201.8h0" stroke="#fff2e0"/><path d="M818.5 1153.0h0M811.7 1158.4h0M815.2 1159.6h0M804.3 1170.4h0M821.0 1175.6h0M759.6 1170.4h0M797.3 1180.0h0M795.8 1194.0h0M815.7 1194.2h0M795.3 1199.7h0M810.7 1208.0h0M799.5 1213.6h0M803.8 1229.1h0M760.8 1240.2h0" stroke="#feedd4"/><path d="M814.8 1152.6h0M819.0 1155.8h0M799.8 1168.0h0M812.3 1172.8h0M814.3 1175.7h0M814.7 1182.4h0M779.1 1165.2h0M751.9 1176.0h0M756.7 1180.2h0M763.2 1179.4h0M786.8 1185.0h0M797.7 1184.7h0M781.6 1188.1h0M791.3 1188.0h0M814.6 1187.9h0M813.1 1190.6h0M761.8 1193.8h0M801.1 1193.4h0M787.5 1196.9h0M785.3 1199.7h0M807.9 1200.2h0M787.8 1202.3h0M800.2 1201.8h0M769.6 1211.7h0M810.4 1224.7h0M769.7 1216.4h0M772.0 1220.8h0M763.3 1222.5h0M759.6 1228.1h0M780.5 1228.5h0M761.9 1231.5h0M780.8 1233.9h0M770.8 1239.6h0M780.5 1239.5h0M794.0 1240.6h0M807.0 1239.6h0M768.5 1243.0h0M765.5 1247.8h0M797.4 1249.4h0M790.0 1251.3h0M765.2 1259.9h0M776.6 1262.3h0M780.8 1268.2h0M766.7 1273.9h0M765.8 1276.5h0M774.9 1276.5h0M770.8 1279.7h0M786.8 1280.2h0M791.8 1283.0h0M789.9 1285.7h0M763.9 1291.1h0M780.3 1291.5h0M796.2 1290.7h0M777.5 1297.0h0" stroke="#fee8c8"/><path d="M752.7 1205.1h0M808.8 1159.7h0M802.4 1161.7h0M810.3 1166.7h0M808.6 1169.6h0M814.5 1170.0h0M808.8 1176.6h0M786.0 1165.5h0M770.7 1167.4h0M768.2 1170.6h0M756.6 1173.4h0M821.4 1188.5h0M784.0 1191.7h0M803.5 1197.5h0M827.0 1197.0h0M799.3 1211.8h0M803.5 1220.0h0M818.2 1222.5h0M761.8 1220.6h0M781.1 1225.4h0M784.7 1237.8h0M788.0 1237.9h0M766.9 1239.3h0M790.5 1245.4h0M765.3 1254.0h0M787.8 1253.6h0M797.2 1256.9h0M802.0 1259.5h0M773.0 1262.9h0M783.2 1268.8h0M757.3 1274.6h0M770.5 1292.1h0M774.8 1293.6h0M774.5 1306.3h0" stroke="#fee1ba"/><path d="M748.1 1196.8h0M821.4 1164.4h0M817.4 1171.1h0M771.7 1166.0h0M763.8 1173.2h0M789.3 1188.4h0M811.6 1187.9h0M793.9 1191.2h0M792.1 1194.1h0M816.6 1196.7h0M825.5 1205.9h0M806.6 1208.8h0M815.7 1210.5h0M820.7 1214.2h0M765.5 1214.4h0M768.5 1220.5h0M768.9 1231.9h0M788.0 1247.8h0M763.0 1250.9h0M777.4 1250.9h0M799.8 1250.9h0M802.0 1254.7h0M794.8 1259.6h0M774.0 1279.8h0M780.0 1279.6h0M760.0 1285.4h0M716.9 1244.0h0M576.0 1250.4h0M767.2 1334.1h0" stroke="#fddbac"/><path d="M755.0 1203.1h0M809.3 1156.0h0M815.6 1155.4h0M801.8 1158.9h0M818.7 1159.6h0M799.9 1162.4h0M812.3 1161.5h0M822.5 1172.4h0M809.6 1179.2h0M764.3 1162.0h0M774.5 1162.7h0M753.9 1173.7h0M761.3 1174.0h0M769.8 1185.7h0M756.7 1191.7h0M814.1 1196.5h0M791.8 1199.9h0M797.5 1202.6h0M779.5 1205.1h0M816.0 1208.0h0M786.1 1211.7h0M811.3 1211.1h0M790.0 1213.2h0M782.8 1217.4h0M758.1 1220.0h0M785.4 1220.0h0M788.9 1220.2h0M764.8 1225.6h0M787.7 1225.1h0M804.5 1231.8h0M760.1 1234.3h0M795.3 1243.6h0M754.7 1249.0h0M805.4 1248.1h0M762.1 1253.5h0M771.3 1255.1h0M798.9 1253.7h0M764.4 1257.2h0M778.7 1259.6h0M791.7 1266.1h0M787.7 1271.5h0M778.8 1276.6h0M798.9 1277.8h0M756.2 1280.3h0M766.7 1297.7h0M781.5 1300.0h0M694.1 1252.2h0" stroke="#fdd49e"/><path d="M729.7 1165.2h0M742.8 1193.9h0M752.4 1202.2h0M814.1 1164.6h0M820.7 1170.6h0M807.1 1173.5h0M810.2 1174.0h0M812.1 1175.6h0M816.6 1178.8h0M818.3 1181.2h0M799.8 1173.5h0M788.7 1182.2h0M813.7 1185.5h0M807.0 1191.6h0M824.0 1190.5h0M758.2 1193.9h0M798.1 1193.6h0M800.3 1196.8h0M790.0 1217.4h0M789.3 1223.2h0M792.4 1225.8h0M787.6 1231.5h0M764.4 1237.9h0M805.1 1242.6h0M759.8 1251.0h0M773.7 1251.5h0M771.4 1260.1h0M800.0 1263.7h0M790.7 1268.8h0M790.9 1276.7h0M793.0 1290.6h0M772.1 1294.4h0M772.2 1251.1h0M790.1 1251.9h0M785.8 1256.6h0M777.3 1266.2h0M790.0 1275.4h0M776.9 1280.9h0" stroke="#fdcc95"/><path d="M728.4 1156.4h0M737.2 1165.7h0M746.4 1170.8h0M745.4 1174.3h0M748.8 1185.9h0M745.0 1190.3h0M819.7 1178.5h0M781.3 1165.7h0M785.1 1181.9h0M803.0 1185.2h0M768.9 1194.6h0M811.3 1205.2h0M770.1 1208.8h0M776.6 1207.8h0M795.9 1222.7h0M765.6 1231.9h0M757.0 1245.3h0M796.8 1245.7h0M803.7 1245.2h0M756.3 1251.8h0M757.1 1256.8h0M796.2 1262.8h0M772.3 1282.7h0M788.7 1283.1h0M797.6 1288.6h0M790.6 1292.0h0M783.5 1297.1h0M778.4 1306.3h0M775.4 1252.3h0M782.1 1251.2h0M767.9 1254.9h0M790.0 1257.8h0M785.9 1262.9h0M773.8 1265.2h0M790.2 1277.8h0M589.5 1280.8h0M770.2 1324.0h0" stroke="#fdc38d"/><path d="M731.7 1161.9h0M735.5 1168.1h0M731.0 1171.2h0M743.0 1181.7h0M746.1 1188.1h0M749.4 1187.5h0M780.0 1167.5h0M773.6 1173.1h0M779.9 1173.2h0M756.4 1176.5h0M758.3 1176.7h0M793.3 1180.3h0M796.0 1182.3h0M820.8 1184.5h0M763.0 1187.9h0M821.7 1193.4h0M762.8 1199.4h0M821.9 1199.4h0M792.9 1202.8h0M787.3 1208.9h0M796.4 1208.5h0M815.5 1216.2h0M817.4 1219.8h0M767.9 1213.9h0M760.3 1217.4h0M770.3 1222.6h0M755.0 1232.2h0M789.9 1234.1h0M754.8 1237.6h0M785.9 1257.7h0M798.9 1260.4h0M778.6 1265.4h0M762.0 1271.7h0M773.7 1286.4h0M764.9 1288.0h0M773.8 1296.4h0M780.4 1249.4h0M777.3 1254.3h0M782.6 1256.9h0M769.0 1268.4h0M792.5 1274.4h0M773.1 1279.9h0" stroke="#fdbb84"/><path d="M731.5 1157.0h0M744.0 1165.3h0M745.4 1168.7h0M742.7 1174.1h0M744.9 1185.7h0M798.8 1171.7h0M791.9 1176.5h0M789.6 1191.8h0M779.2 1193.8h0M818.0 1206.1h0M776.3 1211.8h0M812.5 1222.1h0M815.5 1221.7h0M771.4 1214.2h0M792.9 1217.9h0M792.5 1223.5h0M784.2 1225.6h0M806.4 1233.5h0M786.8 1245.7h0M792.9 1251.7h0M776.2 1257.4h0M761.9 1259.6h0M768.5 1266.1h0M785.8 1266.5h0M794.3 1265.4h0M764.8 1271.5h0M801.5 1271.8h0M761.0 1273.9h0M772.3 1276.9h0M767.6 1279.8h0M795.4 1288.1h0M772.7 1292.0h0M773.0 1257.1h0M775.9 1257.6h0M775.8 1269.0h0M795.5 1269.2h0M785.1 1271.0h0M787.2 1271.1h0M794.0 1276.8h0M779.1 1286.2h0M783.0 1286.4h0" stroke="#fdac76"/><path d="M732.8 1158.9h0M750.6 1175.9h0M740.4 1188.2h0M753.2 1198.7h0M756.0 1210.4h0M760.4 1211.5h0M756.4 1171.2h0M766.9 1174.0h0M778.1 1176.8h0M777.3 1191.4h0M797.2 1196.7h0M772.4 1199.3h0M804.6 1199.2h0M765.0 1205.8h0M804.2 1213.6h0M801.4 1226.4h0M766.5 1228.5h0M797.0 1229.1h0M775.1 1232.2h0M800.9 1236.6h0M762.0 1248.4h0M808.4 1248.6h0M754.7 1254.9h0M754.6 1266.3h0M760.2 1269.0h0M769.9 1273.5h0M797.1 1274.2h0M775.7 1289.0h0M777.8 1289.2h0M790.9 1294.8h0M785.9 1297.5h0M772.8 1302.6h0M774.7 1248.8h0M770.1 1251.8h0M786.7 1252.0h0M779.0 1257.7h0M767.7 1266.0h0M771.5 1277.8h0M783.6 1283.6h0" stroke="#fc9c67"/><path d="M748.7 1161.8h0M746.9 1193.6h0M769.4 1164.7h0M798.6 1177.1h0M809.4 1219.4h0M791.3 1220.4h0M786.7 1222.8h0M799.4 1222.4h0M793.5 1228.9h0M802.3 1230.9h0M763.9 1233.6h0M758.9 1237.5h0M764.2 1239.7h0M773.6 1240.6h0M803.8 1239.8h0M766.5 1245.0h0M773.2 1246.4h0M794.1 1244.9h0M805.2 1254.0h0M766.2 1256.9h0M774.2 1257.8h0M758.7 1260.3h0M783.0 1263.7h0M789.0 1265.2h0M796.4 1268.7h0M789.2 1275.0h0M794.4 1277.0h0M784.1 1279.2h0M777.0 1286.0h0M784.1 1291.0h0M786.9 1291.2h0M765.6 1294.8h0M781.5 1294.9h0M772.5 1299.7h0M765.7 1251.8h0M774.7 1254.3h0M787.7 1254.7h0M792.1 1256.8h0M771.9 1265.5h0M783.9 1266.1h0M790.5 1266.7h0M791.2 1272.4h0M780.0 1274.3h0M767.6 1278.1h0M768.9 1280.9h0M778.5 1283.9h0M781.5 1283.0h0" stroke="#fc8d59"/><path d="M739.1 1156.4h0M732.7 1174.2h0M738.8 1179.4h0M757.7 1202.8h0M774.2 1216.5h0M797.4 1225.5h0M776.1 1228.1h0M800.2 1228.9h0M772.4 1231.1h0M775.2 1237.6h0M792.1 1237.2h0M790.1 1240.0h0M797.5 1242.5h0M770.4 1256.4h0M767.2 1263.0h0M790.7 1262.8h0M762.7 1266.2h0M766.0 1265.9h0M770.9 1267.9h0M786.2 1268.9h0M768.8 1270.8h0M792.1 1272.1h0M789.5 1279.3h0M766.7 1285.2h0M777.9 1294.4h0M765.4 1260.8h0M795.0 1265.8h0M788.6 1268.9h0M775.0 1271.0h0M777.2 1272.1h0M769.7 1274.8h0M782.8 1281.0h0" stroke="#f88053"/><path d="M736.5 1183.0h0M752.9 1188.8h0M754.3 1196.2h0M756.9 1217.1h0M780.4 1216.6h0M757.3 1234.5h0M804.0 1237.9h0M781.2 1243.5h0M786.7 1251.9h0M784.1 1256.8h0M780.5 1262.6h0M801.5 1265.3h0M787.4 1274.8h0M793.9 1274.0h0M772.2 1288.9h0M775.5 1299.8h0M785.5 1300.6h0M783.8 1248.3h0M793.6 1254.0h0M787.8 1260.1h0M791.7 1260.4h0M772.2 1262.6h0M793.2 1263.6h0" stroke="#f3724e"/><path d="M729.7 1159.0h0M731.0 1167.5h0M743.0 1159.0h0M735.4 1179.6h0M743.9 1188.1h0M760.6 1205.7h0M757.6 1208.1h0M758.6 1271.9h0M767.9 1248.0h0M771.4 1249.0h0M763.8 1254.2h0M767.1 1260.5h0M780.7 1266.4h0M772.5 1268.4h0M777.3 1277.2h0M778.8 1280.8h0M788.9 1279.8h0M773.9 1282.8h0M786.0 1286.2h0" stroke="#ef6548"/><path d="M725.6 1153.4h0M729.2 1165.3h0M735.3 1163.2h0M742.8 1171.1h0M752.4 1190.4h0M753.2 1193.7h0M779.4 1263.6h0M795.1 1263.2h0M779.9 1268.6h0M776.5 1274.7h0M783.1 1275.2h0M784.9 1277.4h0M787.3 1278.1h0M785.7 1280.8h0" stroke="#e7533a"/><path d="M721.9 1147.5h0M731.6 1164.9h0M744.5 1179.4h0M749.6 1193.9h0M747.5 1198.8h0M761.4 1208.4h0M780.3 1255.2h0M782.2 1264.0h0M792.8 1269.0h0M770.5 1271.0h0M772.0 1275.0h0M787.1 1282.9h0" stroke="#df422d"/><path d="M719.6 1148.6h0M723.0 1153.3h0M727.2 1155.9h0M726.4 1158.8h0M736.0 1156.2h0M737.9 1174.2h0M741.6 1178.7h0M747.9 1179.8h0M751.5 1185.3h0M763.9 1210.4h0M777.7 1248.4h0M785.2 1254.1h0M770.2 1257.4h0M770.8 1259.7h0M781.7 1259.8h0M793.9 1260.0h0M767.3 1271.5h0M780.3 1272.5h0M773.8 1276.7h0M780.6 1278.2h0M793.0 1280.5h0M776.1 1286.6h0" stroke="#d7301f"/><path d="M731.4 1168.4h0M740.6 1170.7h0M740.6 1182.8h0M738.2 1185.9h0M742.4 1191.0h0M766.5 1256.8h0" stroke="#cb2015"/><path d="M724.3 1157.0h0M734.5 1168.0h0M732.8 1170.9h0M735.0 1170.8h0M737.2 1159.0h0M726.0 1161.6h0M741.2 1161.8h0" stroke="#bf100a"/><path d="M723.9 1151.3h0M738.8 1161.8h0M747.9 1174.3h0" stroke="#b30000"/><path d="M721.5 1150.6h0M726.6 1161.7h0M746.3 1159.6h0M746.3 1165.4h0" stroke="#a20000"/><path d="M730.5 1161.7h0M715.7 1219.9h0" stroke="#900000"/></g></g>
<text transform="translate(943.80 653.20) scale(1.0516 1)" font-family='"Liberation Sans",Arial,sans-serif' font-weight="bold" font-size="38.00" fill="#000">NOS3</text>
<text transform="translate(947.76 973.90) scale(1.1013 1)" font-family='"Liberation Sans",Arial,sans-serif' font-weight="bold" font-size="55.07" fill="#000">D</text>
<text transform="translate(1072.39 1030.60) scale(0.9402 1)" font-family='"Liberation Sans",Arial,sans-serif' font-weight="bold" font-size="28.60" fill="#000">umap1</text>
<text transform="translate(917.40 858.83) rotate(-90) scale(0.9383 1)" font-family='"Liberation Sans",Arial,sans-serif' font-weight="bold" font-size="29.00">umap2</text>
<rect x="1035.2" y="1055.0" width="245.1" height="19.0" fill="url(#cb)"/>
<path d="M1035.2 1055.0v3.8M1035.2 1074.0v-3.8M1081.4 1055.0v3.8M1081.4 1074.0v-3.8M1127.6 1055.0v3.8M1127.6 1074.0v-3.8M1173.8 1055.0v3.8M1173.8 1074.0v-3.8M1220.0 1055.0v3.8M1220.0 1074.0v-3.8M1266.2 1055.0v3.8M1266.2 1074.0v-3.8" stroke="#fff" stroke-width="0.8" opacity="0.45"/>
<clipPath id="clD"><rect x="1032.0" y="1074.0" width="300" height="40"/></clipPath>
<g font-family='"Liberation Sans",Arial,sans-serif' font-size="21.5" text-anchor="middle" clip-path="url(#clD)"><text x="1035.2" y="1097.4">0.0</text><text x="1081.4" y="1097.4">0.5</text><text x="1127.6" y="1097.4">1.0</text><text x="1173.8" y="1097.4">1.5</text><text x="1220.0" y="1097.4">2.0</text><text x="1266.2" y="1097.4">2.5</text></g>
<path d="M1363.3 625.3 V1001.8 H1740.0" stroke="#333" stroke-width="1.6" fill="none"/>
<g transform="matrix(0.99595 0 0 1.00000 887.298 -504.000)"><use xlink:href="#base"/><use xlink:href="#hl"/><g stroke-width="4.10" stroke-linecap="round" fill="none"><path d="M761.3 1174.0h0M805.7 1222.0h0M768.3 1225.8h0M807.4 1237.3h0M765.1 1293.5h0" stroke="#fff2e0"/><path d="M552.9 1287.9h0M792.6 1164.7h0M761.2 1186.1h0M783.2 1213.5h0M762.9 1239.3h0" stroke="#feedd4"/><path d="M551.6 1294.6h0M558.6 1294.8h0M558.5 1300.8h0M565.0 1300.5h0M581.4 1307.1h0M539.9 1310.1h0M551.9 1311.8h0M561.0 1312.7h0M591.5 1318.9h0M609.4 1320.8h0M548.2 1323.5h0M574.6 1324.6h0M560.7 1326.7h0M578.0 1328.9h0M598.2 1329.5h0M560.4 1332.8h0M622.5 1332.7h0M581.1 1347.4h0M589.2 1349.3h0M601.9 1353.0h0M552.1 1269.4h0M555.9 1269.2h0M572.4 1270.7h0M552.3 1281.8h0M565.6 1281.4h0M566.6 1295.9h0M606.5 1295.5h0M610.0 1240.1h0M604.4 1249.4h0M597.3 1267.0h0M547.0 1270.1h0M605.1 1272.3h0M596.0 1280.7h0M609.0 1281.2h0M750.4 1194.3h0M752.8 1205.0h0M764.2 1167.5h0M780.5 1178.8h0M807.6 1197.0h0M814.1 1197.0h0" stroke="#fee8c8"/><path d="M566.0 1297.5h0M545.4 1300.3h0M548.6 1306.3h0M580.6 1312.5h0M607.6 1312.8h0M580.9 1319.0h0M593.9 1318.5h0M607.6 1318.3h0M554.2 1323.4h0M594.5 1324.0h0M604.8 1324.6h0M610.7 1324.6h0M615.2 1323.4h0M577.1 1326.1h0M593.2 1326.4h0M623.3 1326.2h0M600.4 1329.3h0M620.1 1338.9h0M604.6 1341.3h0M590.4 1344.5h0M596.4 1349.3h0M555.8 1274.9h0M568.3 1281.6h0M553.7 1283.7h0M565.6 1292.2h0M584.4 1298.5h0M607.3 1300.9h0M585.4 1305.0h0M594.6 1304.0h0M617.2 1307.9h0M595.7 1309.2h0M582.3 1224.0h0M575.3 1232.3h0M604.9 1232.5h0M571.6 1244.2h0M597.7 1249.1h0M566.0 1251.5h0M565.0 1260.1h0M609.4 1263.8h0M584.5 1267.1h0M744.8 1196.4h0M820.5 1191.5h0M764.2 1229.0h0M792.0 1282.6h0M797.0 1291.8h0M783.1 1297.1h0" stroke="#fee1ba"/><path d="M557.0 1299.0h0M563.4 1297.3h0M563.7 1303.5h0M576.9 1304.3h0M541.6 1306.2h0M558.3 1306.6h0M561.7 1306.6h0M582.3 1309.2h0M602.6 1314.6h0M606.5 1314.6h0M562.0 1319.0h0M569.0 1321.2h0M616.1 1321.6h0M584.2 1324.7h0M582.3 1327.3h0M589.0 1326.3h0M602.1 1326.2h0M612.3 1327.4h0M616.4 1327.6h0M573.8 1332.6h0M618.9 1332.5h0M572.1 1335.5h0M576.4 1339.0h0M568.5 1341.0h0M578.3 1341.6h0M580.6 1340.2h0M607.8 1340.6h0M575.7 1343.7h0M593.2 1344.1h0M612.0 1344.3h0M579.8 1350.3h0M611.9 1348.8h0M553.4 1279.3h0M570.6 1278.8h0M587.3 1289.7h0M590.3 1290.2h0M540.1 1301.2h0M596.1 1301.2h0M591.9 1309.2h0M589.0 1222.8h0M553.3 1245.9h0M577.6 1254.7h0M584.1 1255.8h0M762.7 1210.3h0M755.1 1188.5h0M824.7 1205.8h0M791.1 1231.6h0" stroke="#fddbac"/><path d="M549.0 1294.8h0M553.1 1299.0h0M559.4 1298.2h0M551.7 1301.2h0M539.3 1303.2h0M546.3 1303.9h0M552.0 1306.9h0M546.0 1309.3h0M553.5 1309.3h0M571.0 1312.8h0M543.6 1314.6h0M619.5 1315.8h0M547.6 1318.5h0M588.7 1318.0h0M576.3 1320.5h0M582.2 1321.3h0M564.3 1324.2h0M590.5 1323.2h0M546.7 1326.5h0M605.5 1327.0h0M557.6 1329.9h0M594.9 1335.1h0M562.4 1338.4h0M569.5 1337.6h0M602.7 1337.4h0M615.4 1337.7h0M572.2 1340.4h0M598.7 1340.4h0M620.4 1341.7h0M579.2 1344.6h0M614.6 1347.1h0M602.4 1348.8h0M606.8 1349.3h0M592.5 1354.9h0M595.8 1355.3h0M564.0 1272.8h0M573.6 1272.6h0M575.8 1276.3h0M548.4 1280.7h0M571.2 1299.0h0M600.9 1304.6h0M577.8 1231.7h0M581.2 1232.4h0M603.9 1238.0h0M550.3 1240.4h0M544.6 1249.3h0M610.7 1248.8h0M574.1 1265.9h0M544.6 1277.6h0M745.2 1180.0h0M748.7 1178.8h0M736.8 1182.2h0M803.9 1185.9h0M797.6 1203.1h0M780.5 1213.4h0M762.8 1245.2h0M755.8 1259.6h0M795.0 1276.9h0M770.0 1285.0h0" stroke="#fdd49e"/><path d="M560.8 1301.6h0M563.4 1309.3h0M542.4 1312.4h0M568.9 1311.7h0M585.0 1311.9h0M597.3 1312.4h0M562.5 1314.6h0M572.0 1318.3h0M589.1 1320.3h0M605.5 1320.7h0M622.0 1320.4h0M597.4 1323.3h0M600.4 1323.9h0M553.5 1327.1h0M586.0 1327.3h0M564.9 1329.7h0M570.8 1329.2h0M584.7 1329.1h0M604.4 1329.1h0M613.6 1329.4h0M617.4 1329.9h0M596.7 1332.3h0M606.2 1331.6h0M585.2 1334.6h0M613.7 1335.9h0M572.8 1337.7h0M589.0 1338.4h0M606.4 1338.4h0M595.1 1341.6h0M614.2 1340.3h0M611.7 1346.3h0M569.9 1349.4h0M572.3 1349.1h0M575.9 1348.8h0M597.7 1352.1h0M607.1 1351.7h0M589.2 1354.9h0M565.3 1264.2h0M548.2 1276.2h0M574.3 1278.5h0M557.6 1284.8h0M583.5 1240.8h0M581.2 1243.8h0M591.0 1243.4h0M562.8 1246.2h0M594.0 1261.2h0M612.2 1292.1h0M750.2 1182.6h0M750.4 1199.1h0M758.3 1208.3h0M815.2 1217.4h0M814.7 1222.6h0M758.5 1236.8h0M799.1 1246.3h0M761.0 1274.3h0M779.6 1297.4h0" stroke="#fdcc95"/><path d="M542.3 1317.6h0M545.6 1317.0h0M541.5 1320.4h0M567.7 1300.2h0M557.1 1304.1h0M564.3 1306.4h0M577.9 1306.9h0M572.9 1309.2h0M576.4 1308.9h0M587.1 1309.8h0M564.4 1312.8h0M589.9 1315.4h0M599.9 1315.4h0M616.8 1316.0h0M545.4 1318.8h0M600.8 1317.6h0M563.4 1321.7h0M572.3 1321.7h0M557.0 1326.5h0M562.6 1326.5h0M567.5 1329.8h0M574.2 1329.5h0M607.2 1330.0h0M624.1 1329.1h0M580.4 1332.9h0M593.0 1332.7h0M613.2 1332.4h0M591.3 1335.1h0M611.3 1335.6h0M592.2 1337.8h0M623.3 1338.2h0M588.4 1341.1h0M600.6 1341.1h0M610.0 1344.2h0M587.9 1346.2h0M595.4 1347.4h0M582.0 1281.2h0M558.5 1287.8h0M568.6 1286.4h0M569.9 1289.5h0M577.7 1290.1h0M604.1 1307.6h0M571.9 1227.1h0M574.1 1243.2h0M575.4 1249.4h0M601.2 1288.9h0M739.5 1171.6h0M750.5 1187.5h0M747.9 1196.4h0M769.8 1196.8h0" stroke="#fdc38d"/><path d="M525.7 1294.5h0M524.0 1302.0h0M540.2 1305.4h0M533.0 1312.0h0M530.6 1324.9h0M527.1 1329.1h0M561.6 1294.5h0M573.3 1304.2h0M570.8 1307.0h0M574.9 1306.3h0M549.5 1321.6h0M599.7 1320.3h0M568.6 1324.5h0M618.3 1324.0h0M579.3 1327.4h0M562.9 1332.4h0M569.8 1332.0h0M589.2 1332.7h0M577.5 1335.0h0M601.5 1335.6h0M624.7 1335.4h0M613.0 1338.7h0M595.9 1343.3h0M597.3 1347.2h0M601.0 1347.5h0M607.8 1347.4h0M604.3 1351.7h0M607.3 1326.3h0M601.9 1332.1h0M626.4 1334.4h0M616.5 1340.2h0M564.1 1278.0h0M567.8 1278.8h0M606.3 1235.2h0M562.3 1238.0h0M546.7 1240.5h0M565.7 1241.5h0M566.9 1246.2h0M603.3 1246.0h0M603.3 1252.9h0M555.8 1258.7h0M612.4 1269.8h0M542.2 1277.1h0M607.6 1289.1h0M729.8 1171.4h0M740.7 1188.2h0M744.3 1193.9h0M758.5 1203.0h0M761.4 1208.6h0" stroke="#fdbb84"/><path d="M517.6 1273.6h0M510.8 1285.3h0M521.1 1285.5h0M515.7 1289.1h0M522.3 1300.1h0M514.2 1308.6h0M521.5 1308.6h0M519.2 1311.4h0M544.8 1313.7h0M513.4 1317.6h0M527.0 1317.2h0M538.7 1316.8h0M538.6 1319.3h0M513.3 1323.4h0M516.3 1323.2h0M520.3 1322.5h0M526.8 1322.1h0M545.2 1325.8h0M521.2 1331.2h0M520.0 1334.9h0M548.5 1300.7h0M553.4 1304.4h0M543.3 1309.3h0M549.8 1309.5h0M545.6 1311.9h0M574.6 1312.4h0M591.5 1312.9h0M546.7 1315.5h0M553.1 1314.7h0M573.5 1315.5h0M583.5 1315.3h0M595.4 1315.3h0M550.9 1318.3h0M558.8 1318.4h0M578.8 1318.8h0M585.3 1317.9h0M556.8 1321.8h0M566.4 1321.0h0M587.2 1324.7h0M624.4 1323.6h0M566.2 1326.4h0M573.1 1326.8h0M596.5 1326.2h0M599.0 1327.4h0M605.2 1335.5h0M621.6 1335.6h0M583.8 1343.1h0M615.6 1343.3h0M577.3 1346.9h0M591.2 1347.1h0M585.9 1350.1h0M599.9 1349.5h0M610.1 1349.2h0M623.3 1328.1h0M625.9 1328.1h0M623.9 1331.6h0M612.0 1334.9h0M612.3 1339.6h0M594.4 1348.8h0M608.3 1348.9h0M605.4 1351.5h0M613.3 1351.4h0M548.3 1286.6h0M608.1 1310.3h0M562.9 1240.9h0M547.7 1243.9h0M543.1 1252.7h0M576.7 1252.6h0M579.7 1252.3h0M586.3 1269.6h0M595.7 1269.8h0M600.7 1277.2h0M605.4 1280.3h0M743.5 1165.1h0M731.7 1167.6h0M743.1 1171.1h0M752.2 1196.6h0M753.2 1199.8h0M756.4 1211.4h0" stroke="#fdac76"/><path d="M523.8 1273.5h0M516.6 1277.0h0M514.2 1279.1h0M517.7 1279.1h0M509.5 1283.1h0M503.5 1289.0h0M519.2 1294.6h0M512.8 1299.6h0M525.5 1299.0h0M533.2 1299.2h0M504.6 1302.6h0M531.3 1302.2h0M510.1 1305.3h0M518.5 1309.0h0M533.9 1308.7h0M539.9 1310.5h0M542.4 1311.9h0M505.5 1314.0h0M527.3 1313.9h0M537.0 1314.2h0M533.5 1317.1h0M517.3 1320.1h0M524.9 1320.3h0M531.8 1320.3h0M535.4 1328.3h0M528.0 1331.7h0M523.0 1333.5h0M533.1 1333.3h0M550.7 1303.1h0M588.4 1311.6h0M603.9 1311.6h0M614.9 1312.6h0M560.6 1314.5h0M585.5 1315.7h0M610.1 1315.8h0M564.2 1317.9h0M621.2 1318.7h0M543.5 1320.9h0M546.2 1321.3h0M586.6 1320.3h0M552.2 1323.6h0M571.2 1323.5h0M577.8 1324.4h0M607.5 1323.1h0M549.2 1327.0h0M587.2 1328.9h0M591.9 1329.6h0M610.3 1329.0h0M566.6 1332.9h0M576.6 1332.2h0M586.1 1332.0h0M599.0 1331.8h0M615.9 1332.1h0M565.7 1335.4h0M581.3 1334.5h0M609.6 1338.7h0M564.4 1341.4h0M575.0 1340.2h0M611.6 1341.0h0M599.7 1343.4h0M605.5 1343.3h0M574.7 1347.1h0M584.8 1347.3h0M592.7 1349.8h0M581.8 1353.1h0M587.2 1352.4h0M618.6 1339.2h0M622.4 1339.3h0M609.7 1345.0h0M617.8 1348.6h0M601.1 1353.5h0M548.4 1292.1h0M600.9 1298.8h0M575.5 1217.2h0M541.4 1243.3h0M599.9 1251.9h0M547.8 1260.5h0M600.6 1261.4h0M582.7 1269.0h0M592.9 1269.0h0M747.8 1161.9h0M733.2 1165.3h0M748.6 1168.1h0M746.5 1171.2h0M735.8 1174.6h0M738.8 1178.8h0M738.2 1185.2h0" stroke="#fc9c67"/><path d="M507.5 1285.9h0M507.0 1287.8h0M522.2 1287.8h0M507.4 1291.2h0M514.4 1291.5h0M499.1 1293.7h0M510.4 1293.8h0M504.8 1297.6h0M527.6 1297.0h0M531.5 1297.2h0M503.6 1299.0h0M519.3 1299.9h0M508.2 1302.7h0M527.8 1302.8h0M523.6 1305.9h0M526.3 1305.8h0M543.4 1305.1h0M527.4 1309.1h0M530.9 1307.9h0M537.4 1307.8h0M502.6 1311.2h0M510.1 1311.1h0M536.2 1317.0h0M523.0 1322.2h0M520.7 1325.2h0M524.0 1326.1h0M529.4 1328.2h0M528.1 1337.5h0M555.7 1301.3h0M554.2 1306.1h0M568.8 1307.1h0M594.8 1312.5h0M623.2 1314.9h0M594.8 1329.8h0M556.2 1332.7h0M609.2 1331.7h0M561.8 1336.1h0M567.4 1334.6h0M582.9 1350.3h0M600.8 1326.0h0M621.2 1326.2h0M595.5 1327.8h0M602.2 1328.5h0M621.3 1332.2h0M615.5 1334.7h0M619.8 1334.1h0M587.2 1336.5h0M597.6 1337.9h0M605.6 1339.6h0M590.8 1342.6h0M595.5 1342.6h0M598.5 1343.6h0M615.1 1343.5h0M621.4 1343.5h0M603.0 1346.1h0M612.7 1345.0h0M618.8 1345.3h0M603.9 1349.0h0M599.7 1300.7h0M589.8 1229.0h0M596.7 1229.3h0M601.4 1232.7h0M556.1 1234.9h0M601.8 1237.5h0M607.0 1243.5h0M573.8 1246.9h0M596.0 1246.7h0M608.8 1257.6h0M537.9 1260.2h0M545.6 1260.7h0M603.9 1277.4h0M736.3 1159.7h0M736.4 1171.0h0M749.1 1185.5h0M748.0 1191.6h0M747.3 1200.1h0" stroke="#fc8d59"/><path d="M523.2 1271.5h0M527.0 1271.2h0M522.0 1290.6h0M522.6 1294.4h0M510.8 1296.1h0M517.6 1297.7h0M521.5 1297.3h0M506.9 1299.6h0M516.8 1300.2h0M541.2 1302.1h0M496.7 1305.6h0M516.4 1306.3h0M536.3 1305.9h0M501.3 1308.4h0M541.1 1308.6h0M501.4 1314.1h0M511.3 1314.5h0M520.6 1314.1h0M523.2 1317.5h0M521.4 1319.8h0M544.7 1319.2h0M539.8 1321.9h0M541.5 1325.0h0M540.2 1327.6h0M615.1 1326.3h0M614.5 1330.9h0M590.2 1334.7h0M605.1 1337.9h0M610.4 1337.8h0M593.4 1340.2h0M596.3 1339.5h0M587.7 1342.2h0M600.0 1351.4h0M555.0 1292.0h0M584.0 1220.9h0M580.0 1228.6h0M554.4 1244.4h0M539.8 1269.2h0M610.6 1284.1h0M728.1 1162.5h0M746.0 1177.3h0" stroke="#f88053"/><path d="M521.7 1274.2h0M519.2 1283.4h0M509.0 1288.5h0M510.8 1291.6h0M517.4 1290.4h0M524.8 1297.4h0M510.0 1299.9h0M529.4 1299.1h0M498.8 1309.0h0M544.3 1308.1h0M543.3 1323.2h0M528.5 1326.3h0M534.3 1326.3h0M523.0 1328.6h0M532.7 1329.1h0M531.5 1330.5h0M529.1 1333.8h0M604.9 1325.7h0M617.2 1325.0h0M592.5 1328.3h0M613.6 1336.7h0M618.4 1337.6h0M621.3 1336.9h0M589.4 1340.3h0M599.3 1340.0h0M603.7 1340.1h0M609.7 1340.8h0M605.1 1342.7h0M618.3 1342.0h0M599.4 1346.2h0M605.7 1346.5h0M616.8 1345.3h0M597.2 1348.9h0M593.6 1351.7h0M739.5 1159.7h0M739.0 1162.0h0M742.2 1178.7h0" stroke="#f3724e"/><path d="M522.6 1277.7h0M506.0 1283.1h0M504.0 1285.7h0M514.1 1285.2h0M517.5 1286.0h0M504.3 1291.1h0M525.0 1291.9h0M503.6 1294.7h0M513.0 1293.8h0M515.9 1293.4h0M508.3 1296.2h0M515.1 1297.5h0M515.3 1302.1h0M518.3 1302.4h0M502.8 1305.6h0M506.0 1306.2h0M519.4 1305.7h0M529.8 1305.6h0M508.3 1307.9h0M512.2 1308.2h0M526.8 1311.5h0M530.1 1310.4h0M518.5 1313.7h0M523.9 1314.1h0M531.0 1313.8h0M502.9 1317.4h0M518.9 1317.1h0M529.8 1317.2h0M508.5 1319.4h0M510.6 1319.1h0M534.7 1319.0h0M535.8 1322.2h0M511.0 1326.2h0M520.5 1328.8h0M518.1 1331.5h0M598.7 1324.9h0M611.3 1326.2h0M606.4 1328.0h0M616.7 1329.4h0M594.7 1331.1h0M606.5 1334.5h0M623.1 1333.6h0M593.7 1346.4h0M611.9 1349.0h0M744.8 1157.4h0M735.9 1161.6h0" stroke="#ef6548"/><path d="M519.3 1276.7h0M521.5 1279.6h0M523.8 1280.2h0M515.7 1281.9h0M523.5 1283.0h0M500.8 1284.9h0M500.8 1296.4h0M501.9 1302.8h0M522.0 1302.6h0M538.1 1302.8h0M513.1 1305.6h0M525.4 1308.6h0M506.3 1311.3h0M513.0 1311.7h0M523.3 1310.7h0M515.8 1317.5h0M528.0 1319.0h0M510.5 1322.0h0M530.1 1322.9h0M533.6 1321.8h0M515.0 1324.8h0M516.8 1328.2h0M534.3 1332.0h0M610.2 1329.2h0M591.9 1331.0h0M608.4 1332.2h0M592.2 1334.3h0M592.1 1337.6h0M601.3 1336.6h0M595.9 1345.6h0M614.2 1348.6h0M738.8 1167.7h0M744.6 1173.9h0" stroke="#e7533a"/><path d="M512.5 1276.3h0M511.9 1279.7h0M513.6 1282.5h0M513.6 1287.9h0M519.8 1287.6h0M498.0 1297.4h0M499.9 1299.4h0M504.6 1307.6h0M507.9 1313.7h0M514.7 1313.7h0M510.1 1317.5h0M514.9 1319.9h0M525.2 1331.2h0M526.8 1333.5h0M600.0 1328.3h0M597.1 1331.0h0M611.5 1331.6h0M607.7 1342.7h0M597.1 1350.8h0M603.2 1350.8h0M610.0 1350.7h0M597.6 1354.3h0M742.8 1160.3h0M746.8 1165.8h0" stroke="#df422d"/><path d="M502.2 1291.9h0M497.4 1303.2h0M512.2 1302.1h0M500.2 1305.5h0M499.1 1310.9h0M507.0 1316.7h0M613.0 1329.2h0M604.0 1331.9h0M603.5 1334.6h0M623.8 1337.9h0M589.5 1346.4h0M726.4 1165.3h0M750.4 1171.7h0" stroke="#d7301f"/><path d="M496.7 1300.2h0M619.7 1328.9h0M729.5 1168.8h0" stroke="#cb2015"/><path d="M728.1 1156.6h0M730.5 1165.8h0" stroke="#bf100a"/><path d="M718.4 1148.7h0M721.4 1150.4h0M724.8 1150.2h0M722.7 1153.0h0M726.1 1154.2h0M730.2 1167.2h0M734.9 1170.4h0" stroke="#b30000"/><path d="M723.6 1156.5h0M729.3 1159.7h0M731.9 1165.4h0M734.4 1167.4h0" stroke="#a20000"/><path d="M722.4 1148.9h0M727.0 1156.5h0M727.4 1162.1h0M729.0 1165.4h0" stroke="#900000"/><path d="M726.4 1159.1h0M731.5 1162.5h0M732.9 1171.4h0" stroke="#7f0000"/></g></g>
<text transform="translate(1375.07 652.70) scale(1.0016 1)" font-family='"Liberation Sans",Arial,sans-serif' font-weight="bold" font-size="37.29" fill="#000">PTGIS</text>
<text transform="translate(1388.71 974.60) scale(0.8732 1)" font-family='"Liberation Sans",Arial,sans-serif' font-weight="bold" font-size="57.97" fill="#000">E</text>
<text transform="translate(1507.80 1028.10) scale(0.9324 1)" font-family='"Liberation Sans",Arial,sans-serif' font-weight="bold" font-size="28.60" fill="#000">umap1</text>
<text transform="translate(1352.00 856.93) rotate(-90) scale(0.9383 1)" font-family='"Liberation Sans",Arial,sans-serif' font-weight="bold" font-size="29.00">umap2</text>
<rect x="1473.4" y="1052.5" width="245.6" height="19.5" fill="url(#cb)"/>
<path d="M1473.9 1052.5v3.9M1473.9 1072.0v-3.9M1541.0 1052.5v3.9M1541.0 1072.0v-3.9M1608.0 1052.5v3.9M1608.0 1072.0v-3.9M1675.0 1052.5v3.9M1675.0 1072.0v-3.9" stroke="#fff" stroke-width="0.8" opacity="0.45"/>
<g font-family='"Liberation Sans",Arial,sans-serif' font-size="21.5" text-anchor="middle"><text x="1473.9" y="1095.4">0</text><text x="1541.0" y="1095.4">1</text><text x="1608.0" y="1095.4">2</text><text x="1675.0" y="1095.4">3</text></g>
<path d="M39.3 1129.2 V1506.8 H415.7" stroke="#333" stroke-width="1.6" fill="none"/>
<g transform="matrix(0.99740 0 0 1.00145 -437.415 -1.854)"><use xlink:href="#base"/><use xlink:href="#hl"/><g stroke-width="4.10" stroke-linecap="round" fill="none"><path d="M535.4 1312.0h0M544.5 1313.8h0M536.3 1322.6h0M543.5 1323.5h0M537.6 1326.3h0M538.9 1327.7h0" stroke="#fff2e0"/><path d="M528.7 1297.2h0M525.4 1309.1h0M541.1 1307.9h0M538.7 1311.6h0M540.8 1313.7h0M546.0 1317.0h0M529.0 1322.9h0M529.4 1333.7h0M784.2 1282.5h0" stroke="#feedd4"/><path d="M523.8 1296.8h0M526.7 1305.5h0M526.5 1322.8h0M534.8 1326.1h0M532.1 1333.9h0" stroke="#fee8c8"/><path d="M523.5 1271.7h0M520.2 1276.7h0M517.8 1279.4h0M518.9 1293.6h0M522.3 1305.0h0M539.2 1305.3h0M531.4 1308.5h0M539.3 1316.4h0M524.9 1320.4h0M531.7 1320.0h0M538.3 1319.6h0M544.1 1319.1h0M524.1 1325.8h0M528.1 1325.1h0M521.1 1331.5h0M560.6 1310.2h0M549.7 1315.0h0M610.1 1321.1h0M558.9 1323.8h0M591.6 1329.5h0M603.6 1333.0h0M608.1 1335.8h0M576.9 1337.5h0M622.2 1338.1h0M594.1 1352.0h0M565.9 1269.5h0M549.3 1292.2h0M589.5 1307.0h0M575.2 1220.9h0M581.8 1221.3h0M580.9 1238.5h0M566.7 1240.1h0M576.6 1240.5h0M591.6 1244.1h0M766.4 1261.0h0" stroke="#fee1ba"/><path d="M512.2 1276.9h0M522.8 1282.7h0M514.1 1285.9h0M505.7 1294.8h0M522.6 1294.4h0M526.6 1294.2h0M518.4 1297.5h0M521.0 1296.4h0M506.6 1299.7h0M525.3 1303.1h0M535.2 1302.8h0M504.0 1305.7h0M519.3 1306.1h0M532.4 1304.9h0M536.7 1305.7h0M528.1 1308.2h0M537.5 1307.6h0M520.7 1313.3h0M503.0 1316.8h0M518.8 1316.4h0M541.0 1319.0h0M517.6 1330.5h0M560.2 1303.9h0M576.6 1304.6h0M564.1 1306.3h0M595.2 1312.3h0M611.8 1312.6h0M587.7 1317.5h0M601.3 1317.8h0M617.5 1323.2h0M556.4 1326.3h0M572.7 1327.1h0M588.6 1329.5h0M608.3 1330.0h0M578.3 1335.1h0M591.8 1352.6h0M558.4 1263.8h0M550.5 1272.0h0M576.6 1295.3h0M618.8 1350.2h0M600.3 1238.5h0M608.4 1244.3h0M606.0 1246.4h0M589.5 1251.6h0M597.8 1277.2h0M781.7 1273.7h0M793.1 1261.0h0" stroke="#fddbac"/><path d="M523.0 1276.2h0M518.9 1283.0h0M504.4 1286.2h0M510.9 1286.0h0M503.2 1288.7h0M500.1 1294.3h0M500.0 1299.1h0M516.4 1300.1h0M514.5 1302.3h0M518.8 1303.4h0M537.8 1303.3h0M541.9 1303.0h0M505.5 1308.4h0M518.2 1309.0h0M532.4 1311.2h0M502.0 1313.4h0M524.9 1313.9h0M523.1 1317.1h0M533.0 1317.5h0M543.1 1316.2h0M514.1 1320.3h0M521.3 1319.8h0M523.5 1322.2h0M539.1 1322.3h0M515.4 1326.1h0M518.8 1325.0h0M523.0 1327.6h0M530.1 1327.8h0M527.5 1331.0h0M531.4 1330.6h0M550.5 1304.4h0M606.2 1316.1h0M555.1 1323.6h0M592.0 1323.4h0M609.3 1331.7h0M622.8 1331.7h0M595.3 1335.5h0M612.3 1338.4h0M577.7 1340.6h0M565.9 1344.1h0M602.9 1344.6h0M574.8 1346.1h0M611.8 1346.3h0M595.8 1350.1h0M579.2 1275.7h0M564.1 1278.9h0M573.5 1278.7h0M573.4 1289.9h0M595.2 1293.6h0M598.3 1304.4h0M600.7 1312.6h0M560.9 1232.9h0M552.0 1237.6h0M585.5 1251.9h0M537.3 1258.1h0M590.4 1265.7h0M579.6 1269.2h0M589.8 1275.8h0M600.8 1283.6h0" stroke="#fdd49e"/><path d="M518.8 1274.3h0M521.0 1274.2h0M522.1 1279.3h0M517.1 1288.9h0M520.0 1287.7h0M502.1 1291.9h0M504.7 1291.1h0M512.9 1293.6h0M530.7 1297.0h0M509.5 1300.3h0M522.6 1299.3h0M532.4 1299.5h0M498.2 1303.5h0M499.2 1304.8h0M510.0 1304.9h0M544.7 1308.6h0M516.7 1311.2h0M523.6 1311.4h0M517.2 1313.5h0M535.1 1313.8h0M516.5 1316.2h0M528.8 1316.7h0M510.7 1320.6h0M517.7 1319.5h0M509.0 1322.2h0M526.7 1328.5h0M544.3 1300.8h0M551.4 1312.8h0M555.9 1315.6h0M573.7 1314.9h0M567.7 1323.2h0M559.5 1327.1h0M623.2 1326.5h0M614.2 1329.6h0M580.1 1337.9h0M565.6 1341.7h0M579.6 1343.2h0M556.7 1260.8h0M567.7 1267.3h0M570.4 1266.3h0M586.8 1283.6h0M578.6 1292.9h0M573.3 1246.6h0M549.9 1252.6h0M563.8 1251.6h0M609.0 1263.7h0M606.0 1287.1h0" stroke="#fdcc95"/><path d="M524.1 1280.2h0M509.2 1282.8h0M508.6 1285.7h0M508.5 1292.0h0M518.7 1290.7h0M516.7 1294.2h0M497.6 1297.4h0M528.9 1300.1h0M521.1 1303.1h0M506.4 1304.9h0M512.5 1306.0h0M542.8 1306.0h0M521.6 1307.7h0M499.9 1311.8h0M510.4 1311.3h0M505.4 1313.9h0M531.0 1314.1h0M528.2 1320.0h0M533.3 1322.9h0M531.9 1325.8h0M545.0 1325.8h0M517.2 1327.8h0M519.7 1334.2h0M526.0 1334.1h0M549.8 1298.7h0M565.9 1298.0h0M546.5 1309.4h0M570.4 1309.3h0M581.3 1323.6h0M575.9 1332.2h0M600.5 1335.9h0M604.5 1341.0h0M606.9 1344.6h0M570.1 1349.1h0M580.5 1349.9h0M562.6 1281.1h0M585.1 1298.4h0M581.4 1304.0h0M626.9 1329.8h0M567.3 1226.1h0M571.3 1231.8h0M588.5 1237.2h0M592.7 1240.8h0M591.1 1249.9h0M594.3 1249.6h0M596.6 1251.9h0M612.1 1251.7h0M552.8 1257.2h0M544.0 1269.1h0M603.9 1283.7h0" stroke="#fdc38d"/><path d="M512.8 1282.6h0M503.0 1294.1h0M504.5 1297.7h0M508.4 1302.0h0M510.6 1302.0h0M526.2 1312.0h0M542.0 1310.5h0M507.9 1313.7h0M537.6 1313.7h0M513.1 1317.0h0M516.4 1323.1h0M541.4 1325.9h0M532.1 1328.9h0M536.1 1327.6h0M548.7 1295.6h0M568.0 1300.4h0M596.2 1315.3h0M610.7 1318.8h0M583.8 1326.9h0M609.8 1327.4h0M616.5 1327.5h0M611.3 1340.2h0M615.1 1340.8h0M584.6 1275.0h0M592.3 1281.0h0M545.8 1292.2h0M572.4 1292.3h0M594.9 1298.7h0M590.1 1301.9h0M588.9 1240.1h0M556.5 1251.6h0M592.4 1252.6h0M541.1 1255.7h0M592.8 1268.9h0M776.6 1267.3h0" stroke="#fdbb84"/><path d="M525.9 1270.6h0M515.9 1277.6h0M521.0 1285.7h0M507.8 1296.6h0M502.6 1300.5h0M519.6 1299.3h0M526.7 1300.5h0M531.1 1302.9h0M529.0 1305.0h0M498.7 1308.4h0M502.9 1310.8h0M519.1 1311.8h0M529.3 1310.9h0M524.6 1331.8h0M560.2 1297.5h0M561.8 1307.5h0M582.1 1312.0h0M577.8 1317.5h0M620.2 1323.1h0M562.5 1332.2h0M589.6 1337.4h0M593.6 1285.1h0M622.6 1341.2h0M585.2 1226.2h0M600.7 1231.9h0M591.8 1237.4h0M578.2 1244.3h0M608.7 1269.5h0M601.0 1277.4h0" stroke="#fdac76"/><path d="M514.3 1279.9h0M505.7 1282.1h0M502.2 1285.9h0M518.0 1286.0h0M506.3 1287.8h0M509.9 1288.0h0M522.6 1288.0h0M510.7 1291.6h0M524.0 1290.5h0M509.2 1294.2h0M502.0 1296.8h0M515.3 1297.7h0M512.2 1308.3h0M512.6 1311.6h0M511.3 1314.2h0M506.5 1316.4h0M523.3 1333.4h0M528.0 1337.7h0M554.1 1296.0h0M556.9 1303.7h0M562.8 1303.9h0M542.0 1313.0h0M587.3 1312.2h0M580.8 1318.5h0M604.9 1317.8h0M604.2 1324.5h0M618.1 1330.4h0M623.6 1329.8h0M616.2 1338.1h0M567.9 1340.8h0M592.6 1349.4h0M559.8 1272.8h0M569.4 1280.7h0M553.1 1284.9h0M556.6 1284.0h0M566.8 1284.9h0M557.7 1290.0h0M543.2 1295.1h0M593.9 1296.3h0M610.5 1301.2h0M590.1 1234.4h0M539.8 1246.6h0M583.3 1246.0h0M568.3 1261.1h0M611.3 1284.3h0M617.3 1301.3h0M793.1 1229.9h0" stroke="#fc9c67"/><path d="M510.6 1279.3h0M515.1 1291.9h0M521.0 1290.9h0M510.7 1296.2h0M502.1 1302.6h0M516.9 1305.2h0M507.8 1309.1h0M505.9 1311.8h0M510.7 1326.1h0M519.6 1328.3h0M554.9 1301.7h0M561.2 1301.2h0M598.9 1314.5h0M560.8 1323.4h0M584.5 1323.9h0M608.7 1338.7h0M593.8 1340.3h0M562.7 1264.7h0M561.5 1286.5h0M607.2 1301.8h0M585.9 1304.2h0M601.0 1304.1h0M616.9 1308.0h0M605.5 1356.3h0M582.3 1218.3h0M560.4 1228.9h0M572.7 1234.6h0M603.2 1245.9h0M613.2 1247.1h0M567.0 1251.7h0M558.0 1255.0h0M610.1 1258.5h0M570.9 1260.7h0M587.1 1272.5h0M609.0 1292.0h0" stroke="#fc8d59"/><path d="M513.4 1287.6h0M552.7 1298.3h0M542.3 1301.8h0M555.2 1311.9h0M574.6 1312.1h0M619.8 1315.0h0M589.2 1327.4h0M619.8 1338.7h0M569.5 1343.9h0M553.3 1261.2h0M557.2 1267.2h0M590.7 1295.7h0M596.6 1294.9h0M557.7 1238.6h0M557.2 1240.8h0M580.4 1246.3h0M546.1 1263.0h0" stroke="#f88053"/><path d="M505.2 1302.2h0" stroke="#f3724e"/><path d="M796.9 1190.9h0" stroke="#ef6548"/><path d="M565.0 1317.5h0M562.3 1269.7h0M565.3 1232.1h0M567.3 1249.0h0M568.0 1254.7h0M580.3 1263.6h0" stroke="#bf100a"/><path d="M568.8 1307.3h0M584.0 1323.1h0M567.8 1295.6h0M606.9 1295.8h0M606.6 1301.3h0M615.2 1310.1h0M600.3 1272.6h0" stroke="#b30000"/><path d="M616.1 1327.3h0M600.4 1329.6h0M587.1 1284.7h0M558.7 1292.9h0M608.9 1298.6h0M607.0 1289.2h0" stroke="#a20000"/><path d="M601.1 1324.4h0M602.1 1349.0h0M594.0 1266.2h0" stroke="#900000"/></g></g>
<text transform="translate(55.87 1155.80) scale(1.0300 1)" font-family='"Liberation Sans",Arial,sans-serif' font-weight="bold" font-size="36.29" fill="#000">PTGIR</text>
<text transform="translate(62.91 1472.60) scale(0.9433 1)" font-family='"Liberation Sans",Arial,sans-serif' font-weight="bold" font-size="56.96" fill="#000">F</text>
<text transform="translate(182.89 1533.10) scale(0.9391 1)" font-family='"Liberation Sans",Arial,sans-serif' font-weight="bold" font-size="28.60" fill="#000">umap1</text>
<text transform="translate(28.00 1361.38) rotate(-90) scale(0.9383 1)" font-family='"Liberation Sans",Arial,sans-serif' font-weight="bold" font-size="29.00">umap2</text>
<rect x="150.0" y="1556.3" width="246.0" height="20.3" fill="url(#cb)"/>
<path d="M150.0 1556.3v4.1M150.0 1576.6v-4.1M235.7 1556.3v4.1M235.7 1576.6v-4.1M321.4 1556.3v4.1M321.4 1576.6v-4.1" stroke="#fff" stroke-width="0.8" opacity="0.45"/>
<clipPath id="clF"><rect x="141.0" y="1576.6" width="300" height="40"/></clipPath>
<g font-family='"Liberation Sans",Arial,sans-serif' font-size="21.5" text-anchor="middle" clip-path="url(#clF)"><text x="150.0" y="1600.0">0</text><text x="235.7" y="1600.0">1</text><text x="321.4" y="1600.0">2</text></g>
<path d="M479.3 1129.2 V1506.8 H855.7" stroke="#333" stroke-width="1.6" fill="none"/>
<g transform="matrix(0.99971 0 0 1.00145 0.643 -1.854)"><use xlink:href="#base"/><use xlink:href="#hl"/><g stroke-width="4.10" stroke-linecap="round" fill="none"><path d="M511.7 1292.9h0M728.9 1183.2h0M801.2 1220.6h0" stroke="#fff7ec"/><path d="M517.1 1310.0h0M741.8 1172.6h0M728.1 1186.1h0M803.0 1205.1h0M793.8 1257.7h0" stroke="#fff2e0"/><path d="M596.5 1320.1h0" stroke="#fee1ba"/><path d="M581.8 1282.8h0M599.3 1334.4h0M772.1 1208.0h0M777.5 1270.0h0M780.5 1270.0h0" stroke="#fddbac"/><path d="M542.9 1307.6h0M621.4 1335.8h0M585.5 1343.6h0M784.2 1271.6h0" stroke="#fdd49e"/><path d="M605.3 1311.3h0M585.9 1335.8h0M765.7 1284.1h0" stroke="#fdbb84"/><path d="M594.7 1280.9h0M610.3 1327.9h0M736.2 1197.3h0M794.2 1173.4h0M772.9 1301.9h0" stroke="#fc9c67"/><path d="M610.8 1323.3h0M610.8 1342.2h0M609.4 1345.4h0" stroke="#fc8d59"/><path d="M601.1 1321.5h0M590.5 1330.2h0" stroke="#f88053"/><path d="M599.3 1323.8h0M595.1 1335.8h0M617.3 1339.4h0" stroke="#e7533a"/><path d="M623.2 1334.4h0" stroke="#df422d"/><path d="M550.4 1322.9h0" stroke="#cb2015"/><path d="M778.5 1250.4h0M772.4 1256.1h0" stroke="#900000"/><path d="M618.6 1334.4h0" stroke="#7f0000"/></g></g>
<text transform="translate(489.50 1155.80) scale(1.0059 1)" font-family='"Liberation Sans",Arial,sans-serif' font-weight="bold" font-size="38.29" fill="#000">KCNN1</text>
<text transform="translate(520.69 1474.00) scale(1.0025 1)" font-family='"Liberation Sans",Arial,sans-serif' font-weight="bold" font-size="60.00" fill="#000">G</text>
<text transform="translate(622.89 1533.10) scale(0.9391 1)" font-family='"Liberation Sans",Arial,sans-serif' font-weight="bold" font-size="28.60" fill="#000">umap1</text>
<text transform="translate(468.00 1361.38) rotate(-90) scale(0.9383 1)" font-family='"Liberation Sans",Arial,sans-serif' font-weight="bold" font-size="29.00">umap2</text>
<rect x="594.0" y="1557.5" width="246.5" height="19.1" fill="url(#cb)"/>
<path d="M594.0 1557.5v3.8M594.0 1576.6v-3.8M652.2 1557.5v3.8M652.2 1576.6v-3.8M710.4 1557.5v3.8M710.4 1576.6v-3.8M768.6 1557.5v3.8M768.6 1576.6v-3.8M826.8 1557.5v3.8M826.8 1576.6v-3.8" stroke="#fff" stroke-width="0.8" opacity="0.45"/>
<clipPath id="clG"><rect x="585.8" y="1576.6" width="300" height="40"/></clipPath>
<g font-family='"Liberation Sans",Arial,sans-serif' font-size="21.5" text-anchor="middle" clip-path="url(#clG)"><text x="594.0" y="1600.0">0.0</text><text x="652.2" y="1600.0">0.5</text><text x="710.4" y="1600.0">1.0</text><text x="768.6" y="1600.0">1.5</text><text x="826.8" y="1600.0">2.0</text></g>
<path d="M932.7 1129.2 V1506.8 H1309.7" stroke="#333" stroke-width="1.6" fill="none"/>
<g transform="matrix(1.00116 0 0 1.00145 453.329 -1.854)"><use xlink:href="#base"/><use xlink:href="#hl"/><g stroke-width="4.10" stroke-linecap="round" fill="none"><path d="M740.0 1200.7h0M748.3 1206.2h0M792.1 1270.4h0M798.2 1271.0h0" stroke="#fff7ec"/><path d="M785.7 1208.2h0M793.5 1227.8h0M783.8 1261.7h0M799.3 1267.5h0M794.4 1278.8h0" stroke="#fff2e0"/><path d="M731.9 1164.6h0" stroke="#feedd4"/><path d="M576.0 1339.7h0M738.0 1166.9h0M802.2 1243.0h0M792.4 1262.7h0M772.8 1284.0h0" stroke="#fee1ba"/><path d="M602.6 1291.9h0M740.9 1188.4h0M804.8 1249.1h0M790.4 1256.0h0M796.8 1264.9h0M787.2 1270.4h0M768.5 1276.1h0M784.7 1278.4h0" stroke="#fddbac"/><path d="M743.4 1195.3h0M760.1 1220.8h0M789.9 1219.7h0M773.4 1259.4h0M795.3 1262.3h0M800.5 1276.7h0" stroke="#fdd49e"/><path d="M773.6 1267.7h0M772.8 1278.8h0" stroke="#fdbb84"/><path d="M584.8 1268.4h0M815.1 1168.4h0M816.6 1179.9h0M797.4 1239.3h0" stroke="#fc9c67"/><path d="M575.2 1263.5h0" stroke="#fc8d59"/><path d="M735.9 1196.4h0M733.4 1200.4h0" stroke="#f88053"/><path d="M744.0 1208.2h0" stroke="#cb2015"/><path d="M757.0 1208.5h0" stroke="#900000"/><path d="M791.8 1166.3h0" stroke="#7f0000"/></g></g>
<text transform="translate(940.33 1155.80) scale(1.0543 1)" font-family='"Liberation Sans",Arial,sans-serif' font-weight="bold" font-size="37.57" fill="#000">KCNN2</text>
<text transform="translate(949.87 1473.10) scale(1.0671 1)" font-family='"Liberation Sans",Arial,sans-serif' font-weight="bold" font-size="59.57" fill="#000">H</text>
<text transform="translate(1076.89 1533.10) scale(0.9380 1)" font-family='"Liberation Sans",Arial,sans-serif' font-weight="bold" font-size="28.60" fill="#000">umap1</text>
<text transform="translate(921.40 1361.38) rotate(-90) scale(0.9383 1)" font-family='"Liberation Sans",Arial,sans-serif' font-weight="bold" font-size="29.00">umap2</text>
<rect x="1047.8" y="1557.5" width="246.6" height="19.1" fill="url(#cb)"/>
<path d="M1047.8 1557.5v3.8M1047.8 1576.6v-3.8M1101.8 1557.5v3.8M1101.8 1576.6v-3.8M1155.8 1557.5v3.8M1155.8 1576.6v-3.8M1209.8 1557.5v3.8M1209.8 1576.6v-3.8M1263.8 1557.5v3.8M1263.8 1576.6v-3.8" stroke="#fff" stroke-width="0.8" opacity="0.45"/>
<clipPath id="clH"><rect x="1042.2" y="1576.6" width="300" height="40"/></clipPath>
<g font-family='"Liberation Sans",Arial,sans-serif' font-size="21.5" text-anchor="middle" clip-path="url(#clH)"><text x="1047.8" y="1600.0">0.0</text><text x="1101.8" y="1600.0">0.5</text><text x="1155.8" y="1600.0">1.0</text><text x="1209.8" y="1600.0">1.5</text><text x="1263.8" y="1600.0">2.0</text></g>
<path d="M1362.8 1129.2 V1506.8 H1740.0" stroke="#333" stroke-width="1.6" fill="none"/>
<g transform="matrix(0.99798 0 0 1.00347 885.599 -4.170)"><use xlink:href="#base"/><use xlink:href="#hl"/><g stroke-width="4.10" stroke-linecap="round" fill="none"><path d="M754.9 1202.9h0M763.7 1211.4h0M778.2 1220.3h0" stroke="#feedd4"/><path d="M756.0 1205.0h0M804.8 1237.0h0M768.0 1242.1h0M773.5 1251.3h0M793.6 1252.2h0M788.1 1260.5h0M765.7 1265.5h0M784.7 1265.9h0M791.1 1265.9h0M795.1 1271.2h0M771.5 1294.7h0M777.7 1300.5h0M755.8 1170.2h0M785.7 1210.7h0M512.2 1288.8h0" stroke="#fee8c8"/><path d="M755.6 1207.9h0M781.7 1213.8h0M788.9 1219.8h0M802.3 1254.3h0M803.5 1263.6h0M774.2 1268.0h0M793.1 1274.1h0M782.7 1285.6h0M770.4 1291.9h0M776.7 1178.9h0M790.1 1190.6h0M595.3 1318.8h0M523.5 1327.8h0M532.1 1334.8h0" stroke="#fee1ba"/><path d="M736.2 1171.2h0M749.2 1179.3h0M745.2 1197.0h0M760.6 1210.5h0M776.4 1251.0h0M779.5 1252.5h0M776.3 1273.9h0M772.5 1213.8h0M766.2 1217.7h0M773.9 1216.5h0M761.9 1219.9h0M791.3 1237.5h0M795.5 1236.9h0M787.7 1242.6h0M806.5 1245.8h0M772.4 1248.0h0M798.3 1248.4h0M754.0 1251.7h0M782.0 1253.7h0M776.1 1273.7h0M796.4 1279.6h0M794.1 1282.8h0M779.4 1286.5h0M764.7 1294.1h0M801.3 1187.9h0M804.9 1188.9h0M822.1 1194.2h0M810.4 1208.8h0M581.8 1335.8h0M570.2 1349.0h0M516.1 1282.7h0" stroke="#fddbac"/><path d="M746.7 1182.8h0M768.2 1260.6h0M783.5 1263.6h0M784.5 1265.5h0M766.8 1269.4h0M786.0 1268.4h0M771.7 1272.0h0M797.9 1225.6h0M789.9 1240.1h0M804.7 1248.0h0M779.5 1256.5h0M797.0 1257.5h0M793.8 1269.0h0M787.8 1282.5h0M783.4 1297.6h0M770.6 1162.2h0M609.0 1321.3h0" stroke="#fdd49e"/><path d="M740.9 1159.3h0M747.5 1165.6h0M729.3 1168.6h0M735.4 1168.3h0M747.9 1173.9h0M753.4 1193.0h0M789.5 1251.5h0M779.4 1257.0h0M773.2 1262.3h0M786.4 1263.3h0M775.2 1271.5h0M793.9 1272.4h0M785.6 1274.7h0M787.8 1283.5h0M760.5 1229.0h0M769.4 1228.6h0M783.6 1263.7h0M801.5 1277.6h0M813.8 1201.8h0M812.5 1233.5h0" stroke="#fdcc95"/><path d="M738.4 1156.3h0M750.4 1171.7h0M765.7 1251.1h0M780.2 1260.6h0M780.4 1266.6h0M796.2 1268.1h0M793.3 1274.0h0M794.4 1277.1h0M775.3 1214.6h0M785.0 1237.4h0M763.7 1239.4h0M805.9 1239.3h0M755.5 1248.1h0M801.9 1266.2h0M792.5 1276.6h0M786.7 1285.0h0M793.2 1291.2h0M817.4 1186.0h0M794.9 1210.6h0M560.9 1301.2h0M550.4 1326.8h0" stroke="#fdc38d"/><path d="M746.7 1176.9h0M769.7 1251.0h0M769.2 1273.8h0M790.2 1217.3h0M791.9 1219.5h0M789.4 1245.6h0M762.1 1248.8h0M795.2 1248.9h0M770.7 1274.7h0M798.1 1288.5h0M774.8 1295.1h0M767.7 1296.3h0M773.2 1302.1h0M778.9 1170.3h0M766.5 1174.5h0M816.6 1202.9h0M566.9 1297.8h0M551.5 1305.9h0" stroke="#fdbb84"/><path d="M732.6 1162.8h0M738.0 1163.0h0M731.0 1165.1h0M740.0 1176.4h0M736.9 1183.1h0M744.4 1185.2h0M751.4 1185.6h0M753.8 1187.8h0M752.5 1203.1h0M794.4 1259.9h0M783.1 1275.3h0M791.5 1277.4h0M761.7 1232.1h0M802.3 1231.6h0M804.4 1231.8h0M760.1 1245.1h0M792.0 1254.2h0M789.3 1267.8h0M785.7 1276.4h0M783.9 1279.6h0M767.1 1290.8h0M787.9 1204.5h0M567.9 1300.4h0M612.7 1321.0h0" stroke="#fdac76"/><path d="M729.9 1168.2h0M747.4 1159.7h0M736.8 1165.2h0M749.4 1188.5h0M748.1 1190.5h0M749.4 1199.5h0M756.9 1210.6h0M771.1 1260.5h0M793.2 1263.6h0M769.4 1268.2h0M783.9 1277.8h0M776.5 1280.5h0M763.6 1222.8h0M771.4 1225.3h0M788.8 1225.9h0M779.9 1239.6h0M803.0 1240.8h0M793.8 1246.2h0M775.3 1254.6h0M765.8 1259.7h0M764.4 1271.4h0M779.7 1279.8h0M758.5 1283.1h0M781.8 1283.0h0M782.5 1294.8h0M612.5 1333.0h0" stroke="#fc9c67"/><path d="M722.6 1153.2h0M731.8 1171.1h0M738.8 1167.5h0M747.8 1201.9h0M758.4 1208.2h0M781.1 1249.1h0M764.9 1254.8h0M777.0 1253.9h0M787.0 1255.3h0M794.7 1254.1h0M789.2 1256.9h0M774.3 1277.6h0M788.3 1277.1h0M795.3 1219.5h0M782.3 1231.9h0M786.2 1233.9h0M757.7 1239.7h0M787.1 1246.1h0M775.7 1249.3h0M788.8 1254.0h0M785.0 1271.0h0M773.8 1291.8h0M780.1 1296.9h0" stroke="#fc8d59"/><path d="M720.0 1150.7h0M725.5 1154.0h0M730.9 1159.9h0M744.0 1165.3h0M738.2 1173.2h0M734.3 1176.9h0M753.8 1204.6h0M794.6 1266.6h0M792.5 1268.5h0M785.9 1280.6h0M789.5 1280.9h0M793.0 1279.5h0M769.5 1233.8h0M799.4 1233.9h0M785.1 1243.3h0M791.0 1271.3h0M773.6 1284.9h0M779.6 1290.7h0" stroke="#f88053"/><path d="M729.4 1160.2h0M750.0 1194.3h0M780.5 1253.8h0M774.6 1259.6h0M790.7 1266.3h0M772.2 1268.3h0M766.7 1274.7h0M771.0 1277.1h0M772.5 1280.4h0" stroke="#f3724e"/><path d="M718.4 1148.0h0M727.0 1157.0h0M747.8 1162.7h0M731.2 1174.2h0M752.5 1196.6h0M774.7 1248.2h0M784.7 1248.3h0M791.5 1259.6h0M766.1 1263.9h0M775.9 1263.9h0M789.1 1263.7h0M791.3 1272.3h0M775.8 1285.9h0" stroke="#ef6548"/><path d="M736.9 1160.1h0M744.3 1159.1h0M740.0 1165.0h0M737.9 1180.1h0M786.4 1251.2h0M764.6 1265.2h0M776.3 1269.1h0M782.8 1269.1h0M779.2 1275.1h0M780.8 1276.7h0M775.2 1283.3h0" stroke="#e7533a"/><path d="M725.5 1162.3h0M767.6 1249.1h0M788.0 1249.5h0M765.8 1258.0h0M773.2 1257.0h0M777.0 1266.2h0M789.7 1269.5h0M771.1 1282.5h0" stroke="#df422d"/><path d="M731.7 1165.5h0M736.2 1171.3h0M745.6 1168.2h0M743.3 1176.8h0M771.0 1248.2h0M783.2 1252.3h0M770.8 1254.8h0M773.9 1254.3h0M785.0 1254.9h0M775.6 1257.5h0M784.6 1259.7h0M775.0 1266.1h0M788.0 1266.6h0M787.8 1271.4h0M777.0 1282.8h0M781.0 1283.2h0" stroke="#d7301f"/><path d="M725.4 1159.9h0M730.8 1162.5h0M782.5 1257.9h0M771.4 1265.2h0M770.2 1279.8h0M786.7 1285.7h0" stroke="#cb2015"/><path d="M722.0 1147.3h0M724.0 1151.3h0M726.7 1159.1h0M778.5 1249.0h0M777.2 1276.7h0" stroke="#bf100a"/><path d="M726.9 1161.7h0" stroke="#b30000"/></g></g>
<text transform="translate(1372.94 1155.80) scale(1.0487 1)" font-family='"Liberation Sans",Arial,sans-serif' font-weight="bold" font-size="37.57" fill="#000">KCNN3</text>
<text transform="translate(1383.63 1477.70) scale(0.9821 1)" font-family='"Liberation Sans",Arial,sans-serif' font-weight="bold" font-size="58.99" fill="#000">I</text>
<text transform="translate(1506.98 1533.10) scale(0.9413 1)" font-family='"Liberation Sans",Arial,sans-serif' font-weight="bold" font-size="28.60" fill="#000">umap1</text>
<text transform="translate(1351.50 1361.38) rotate(-90) scale(0.9383 1)" font-family='"Liberation Sans",Arial,sans-serif' font-weight="bold" font-size="29.00">umap2</text>
<rect x="1478.2" y="1557.5" width="246.6" height="19.1" fill="url(#cb)"/>
<path d="M1478.2 1557.5v3.8M1478.2 1576.6v-3.8M1525.6 1557.5v3.8M1525.6 1576.6v-3.8M1573.0 1557.5v3.8M1573.0 1576.6v-3.8M1620.4 1557.5v3.8M1620.4 1576.6v-3.8M1667.8 1557.5v3.8M1667.8 1576.6v-3.8M1715.2 1557.5v3.8M1715.2 1576.6v-3.8" stroke="#fff" stroke-width="0.8" opacity="0.45"/>
<clipPath id="clI"><rect x="1477.0" y="1576.6" width="300" height="40"/></clipPath>
<g font-family='"Liberation Sans",Arial,sans-serif' font-size="21.5" text-anchor="middle" clip-path="url(#clI)"><text x="1478.2" y="1600.0">0.0</text><text x="1525.6" y="1600.0">0.5</text><text x="1573.0" y="1600.0">1.0</text><text x="1620.4" y="1600.0">1.5</text><text x="1667.8" y="1600.0">2.0</text><text x="1715.2" y="1600.0">2.5</text></g>
<path d="M34.7 1635.8 V2013.0 H411.2" stroke="#333" stroke-width="1.6" fill="none"/>
<g transform="matrix(0.99971 0 0 1.00000 -444.457 506.400)"><use xlink:href="#base"/><use xlink:href="#hl"/><g stroke-width="4.10" stroke-linecap="round" fill="none"><path d="M737.8 1185.0h0M769.1 1265.1h0M499.8 1305.7h0M513.4 1317.0h0" stroke="#feedd4"/><path d="M742.9 1165.7h0M738.2 1179.9h0M772.6 1282.2h0M525.6 1305.2h0" stroke="#fee8c8"/><path d="M764.5 1231.6h0M535.8 1310.4h0" stroke="#fee1ba"/><path d="M749.4 1187.5h0M790.6 1256.9h0M783.2 1273.6h0M516.6 1288.7h0" stroke="#fddbac"/><path d="M735.3 1157.2h0M744.8 1197.4h0M754.4 1207.6h0M804.6 1243.6h0M766.9 1251.1h0" stroke="#fdd49e"/><path d="M746.2 1159.2h0M809.0 1240.7h0M796.8 1291.5h0M522.3 1282.6h0M524.4 1296.6h0" stroke="#fdcc95"/><path d="M743.1 1187.3h0M792.1 1271.5h0M520.6 1290.5h0M499.3 1300.6h0" stroke="#fdc38d"/><path d="M734.5 1173.3h0" stroke="#fdbb84"/><path d="M744.8 1155.9h0M743.7 1159.1h0" stroke="#fdac76"/><path d="M733.2 1167.9h0" stroke="#fc8d59"/><path d="M723.3 1156.8h0" stroke="#f3724e"/><path d="M726.2 1153.2h0" stroke="#ef6548"/><path d="M726.7 1161.7h0M736.1 1170.6h0" stroke="#df422d"/><path d="M732.3 1170.5h0" stroke="#cb2015"/><path d="M729.1 1165.9h0M731.3 1167.3h0" stroke="#bf100a"/><path d="M729.9 1161.6h0" stroke="#900000"/><path d="M719.7 1148.7h0M722.3 1148.7h0M720.4 1151.5h0M724.3 1151.5h0M727.2 1156.5h0M729.7 1159.6h0" stroke="#7f0000"/></g></g>
<text transform="translate(45.65 1665.00) scale(1.0277 1)" font-family='"Liberation Sans",Arial,sans-serif' font-weight="bold" font-size="38.14" fill="#000">KCNN4</text>
<text transform="translate(64.82 1980.60) scale(0.6548 1)" font-family='"Liberation Sans",Arial,sans-serif' font-weight="bold" font-size="58.84" fill="#000">J</text>
<text transform="translate(178.38 2039.30) scale(0.9413 1)" font-family='"Liberation Sans",Arial,sans-serif' font-weight="bold" font-size="28.60" fill="#000">umap1</text>
<text transform="translate(23.40 1867.78) rotate(-90) scale(0.9383 1)" font-family='"Liberation Sans",Arial,sans-serif' font-weight="bold" font-size="29.00">umap2</text>
<rect x="149.6" y="2063.0" width="246.4" height="19.0" fill="url(#cb)"/>
<path d="M149.6 2063.0v3.8M149.6 2082.0v-3.8M238.3 2063.0v3.8M238.3 2082.0v-3.8M326.5 2063.0v3.8M326.5 2082.0v-3.8" stroke="#fff" stroke-width="0.8" opacity="0.45"/>
<clipPath id="clJ"><rect x="150.5" y="2082.0" width="300" height="40"/></clipPath>
<g font-family='"Liberation Sans",Arial,sans-serif' font-size="21.5" text-anchor="middle" clip-path="url(#clJ)"><text x="149.6" y="2105.4">0</text><text x="238.3" y="2105.4">1</text><text x="326.5" y="2105.4">2</text></g>
<path d="M480.6 1635.8 V2013.0 H857.7" stroke="#333" stroke-width="1.6" fill="none"/>
<g transform="matrix(0.99971 0 0 1.00000 1.943 506.400)"><use xlink:href="#base"/><use xlink:href="#hl"/><g stroke-width="4.10" stroke-linecap="round" fill="none"><path d="M763.3 1273.8h0" stroke="#feedd4"/><path d="M795.0 1237.5h0M791.0 1271.3h0M742.0 1162.0h0" stroke="#fee8c8"/><path d="M771.8 1282.7h0M731.5 1156.9h0M735.9 1173.6h0" stroke="#fee1ba"/><path d="M518.8 1280.6h0M515.6 1282.7h0M519.3 1283.4h0M520.7 1285.4h0M511.9 1291.7h0M507.1 1293.7h0M508.2 1296.4h0M612.9 1306.3h0M597.5 1266.7h0M543.2 1268.8h0M592.7 1280.5h0M606.0 1291.5h0M798.9 1230.7h0M750.1 1176.6h0" stroke="#fddbac"/><path d="M518.6 1273.7h0M511.1 1279.9h0M515.1 1279.0h0M521.7 1280.2h0M517.7 1284.9h0M506.9 1289.1h0M516.1 1289.0h0M519.8 1293.6h0M530.8 1297.3h0M503.7 1300.6h0M535.0 1302.8h0M538.4 1303.1h0M541.5 1303.3h0M499.1 1310.8h0M503.4 1310.8h0M558.3 1282.0h0M568.6 1287.4h0M582.7 1287.6h0M572.2 1299.3h0M599.9 1301.1h0M582.9 1229.6h0M592.2 1234.8h0M603.4 1246.2h0M537.1 1263.5h0M609.0 1287.0h0M740.1 1175.9h0" stroke="#fdd49e"/><path d="M522.0 1273.5h0M519.3 1277.5h0M503.2 1288.9h0M509.0 1288.7h0M518.0 1290.8h0M520.7 1291.4h0M499.7 1293.7h0M504.2 1296.3h0M515.2 1297.6h0M499.5 1300.6h0M522.5 1300.4h0M500.7 1306.1h0M513.7 1304.9h0M538.8 1304.9h0M510.6 1308.9h0M525.0 1309.0h0M509.7 1311.2h0M512.0 1314.4h0M534.0 1313.7h0M503.2 1316.2h0M526.6 1316.4h0M531.9 1319.0h0M538.3 1320.2h0M544.8 1319.5h0M536.2 1322.1h0M539.5 1322.5h0M601.5 1237.7h0M609.6 1258.4h0M594.8 1260.1h0M538.4 1266.4h0M611.7 1265.9h0M541.2 1272.9h0M798.9 1271.0h0M767.2 1279.9h0M799.7 1279.8h0" stroke="#fdcc95"/><path d="M523.0 1271.0h0M513.2 1277.6h0M501.1 1284.8h0M505.0 1285.7h0M511.4 1284.7h0M513.2 1288.2h0M519.3 1288.8h0M524.6 1290.9h0M522.0 1297.6h0M506.4 1300.4h0M517.2 1299.8h0M508.5 1303.1h0M506.1 1306.0h0M529.2 1305.8h0M533.0 1305.1h0M508.4 1307.7h0M515.3 1308.5h0M527.8 1308.6h0M537.4 1307.7h0M540.4 1308.0h0M544.5 1308.9h0M516.4 1311.1h0M535.4 1311.2h0M504.0 1313.5h0M515.4 1314.8h0M536.6 1316.9h0M514.5 1320.4h0M517.4 1319.1h0M511.4 1325.6h0M522.0 1326.1h0M534.9 1325.0h0M517.1 1327.9h0M530.0 1334.4h0M566.3 1278.4h0M583.6 1277.8h0M586.9 1278.1h0M591.4 1309.6h0M539.4 1268.5h0M754.0 1251.3h0M745.7 1191.3h0" stroke="#fdc38d"/><path d="M524.6 1273.7h0M516.2 1276.2h0M506.4 1281.9h0M513.8 1282.7h0M523.1 1282.6h0M522.6 1287.9h0M508.1 1290.6h0M514.5 1291.6h0M526.3 1294.1h0M497.3 1299.9h0M526.7 1299.6h0M504.2 1302.6h0M517.1 1306.2h0M504.9 1308.2h0M520.3 1312.0h0M507.5 1313.5h0M528.1 1314.7h0M543.9 1313.9h0M519.3 1316.9h0M510.7 1319.6h0M534.5 1319.7h0M509.4 1323.5h0M522.7 1327.8h0M540.0 1327.8h0M532.3 1334.2h0M624.9 1328.9h0M560.8 1283.7h0M543.7 1295.0h0M573.6 1223.1h0M554.0 1234.5h0M606.8 1243.2h0M563.1 1245.9h0M541.4 1255.0h0M594.2 1277.1h0M600.3 1284.0h0M784.3 1243.0h0M794.2 1271.2h0M784.5 1299.8h0" stroke="#fdbb84"/><path d="M527.0 1271.3h0M522.7 1276.8h0M507.6 1286.3h0M502.6 1293.3h0M516.9 1293.5h0M522.6 1293.7h0M528.4 1296.2h0M513.5 1300.4h0M517.4 1302.9h0M531.5 1303.1h0M502.7 1305.4h0M536.4 1304.8h0M521.2 1308.1h0M507.2 1310.6h0M500.9 1314.1h0M513.5 1316.6h0M507.9 1320.5h0M538.6 1326.2h0M522.0 1331.6h0M531.6 1330.9h0M561.4 1294.9h0M572.2 1301.7h0M567.4 1306.8h0M603.7 1312.5h0M606.8 1315.9h0M584.8 1323.7h0M598.4 1323.7h0M599.6 1332.7h0M611.5 1334.7h0M566.7 1273.6h0M586.4 1284.4h0M572.4 1241.6h0M552.3 1244.4h0M536.3 1252.2h0M585.6 1269.3h0M808.1 1242.5h0M763.2 1263.3h0M787.8 1266.5h0M793.5 1269.3h0" stroke="#fdac76"/><path d="M525.0 1279.2h0M509.7 1283.4h0M509.5 1293.9h0M511.4 1296.3h0M517.5 1297.4h0M509.4 1300.3h0M529.1 1299.5h0M498.1 1302.7h0M511.8 1303.3h0M524.0 1303.2h0M509.1 1305.1h0M542.9 1304.9h0M497.9 1308.6h0M531.7 1314.9h0M523.1 1316.8h0M533.2 1317.0h0M542.6 1316.9h0M517.0 1322.1h0M522.8 1323.1h0M532.2 1322.1h0M514.4 1326.2h0M524.3 1325.1h0M536.0 1328.9h0M525.3 1331.9h0M522.8 1334.5h0M562.6 1298.7h0M545.0 1300.8h0M550.2 1303.3h0M553.8 1314.9h0M548.9 1317.8h0M571.8 1318.6h0M614.9 1318.6h0M617.6 1318.2h0M624.8 1318.0h0M599.2 1320.4h0M609.1 1320.8h0M586.1 1327.0h0M619.6 1327.1h0M564.8 1329.1h0M594.5 1330.4h0M596.8 1331.7h0M620.2 1334.9h0M605.1 1341.4h0M610.2 1340.5h0M610.7 1347.3h0M554.2 1266.9h0M573.8 1278.7h0M593.5 1301.9h0M594.4 1243.8h0M546.3 1246.0h0M582.9 1252.7h0M572.2 1258.0h0M579.7 1257.1h0M567.3 1261.1h0M596.4 1280.0h0" stroke="#fc9c67"/><path d="M514.0 1285.2h0M524.6 1297.5h0M519.2 1299.4h0M514.1 1302.7h0M521.7 1302.2h0M519.3 1305.5h0M512.9 1311.3h0M526.1 1310.5h0M533.1 1311.2h0M517.6 1314.3h0M521.6 1314.8h0M520.6 1319.3h0M512.5 1323.4h0M519.4 1322.0h0M526.2 1323.0h0M542.6 1323.2h0M544.6 1325.1h0M526.2 1328.6h0M533.6 1328.6h0M534.4 1332.0h0M567.4 1300.2h0M562.7 1304.3h0M566.9 1303.3h0M545.8 1306.5h0M608.4 1312.1h0M544.0 1316.0h0M550.0 1314.6h0M570.4 1315.5h0M573.8 1314.9h0M592.3 1316.0h0M603.2 1316.1h0M597.2 1318.1h0M621.7 1318.6h0M543.8 1321.8h0M558.9 1323.5h0M615.2 1323.4h0M618.1 1323.5h0M582.8 1326.6h0M605.6 1326.7h0M557.9 1329.1h0M611.8 1329.2h0M617.4 1329.3h0M592.8 1331.9h0M622.5 1333.3h0M567.5 1336.1h0M587.5 1334.6h0M563.5 1338.1h0M576.1 1338.9h0M583.2 1338.0h0M599.9 1338.5h0M612.1 1337.5h0M623.1 1338.0h0M565.2 1341.8h0M618.7 1343.3h0M574.9 1346.5h0M589.6 1350.0h0M595.1 1353.1h0M613.6 1301.6h0M610.6 1352.8h0M587.1 1232.2h0M590.3 1241.5h0M561.5 1249.6h0M584.2 1249.0h0M548.6 1260.1h0" stroke="#fc8d59"/><path d="M501.9 1302.9h0M523.7 1306.0h0M502.0 1307.9h0M517.9 1307.9h0M531.2 1308.2h0M534.2 1308.1h0M529.7 1316.6h0M539.9 1317.6h0M540.5 1319.7h0M540.7 1324.8h0M530.0 1329.2h0M518.3 1332.0h0M519.6 1333.6h0M525.8 1333.5h0M527.5 1337.3h0M554.8 1295.5h0M561.8 1307.1h0M571.0 1307.3h0M582.7 1308.9h0M557.9 1312.3h0M564.3 1312.4h0M588.7 1312.3h0M594.2 1312.0h0M618.1 1313.1h0M579.5 1315.1h0M589.8 1315.1h0M574.9 1318.4h0M582.7 1320.5h0M595.7 1320.8h0M621.9 1321.0h0M577.8 1323.4h0M588.1 1324.3h0M620.2 1323.3h0M603.5 1325.9h0M554.6 1329.2h0M587.5 1329.7h0M569.1 1333.1h0M571.4 1334.6h0M595.2 1335.6h0M597.8 1334.7h0M570.4 1338.0h0M586.3 1337.8h0M570.9 1341.8h0M582.2 1344.3h0M576.6 1349.2h0M583.6 1350.3h0M586.7 1350.3h0M593.6 1349.3h0M559.1 1264.3h0M559.3 1270.3h0M561.2 1289.5h0M605.5 1355.1h0M578.9 1218.2h0M609.2 1241.5h0M540.1 1245.8h0M581.0 1248.7h0" stroke="#f88053"/><path d="M537.8 1314.8h0M515.7 1316.2h0M530.4 1322.0h0M552.8 1303.8h0M544.5 1312.4h0M577.4 1312.2h0M614.0 1311.6h0M583.7 1315.4h0M561.0 1318.4h0M591.6 1318.3h0M593.8 1317.5h0M606.6 1321.1h0M551.0 1324.0h0M610.8 1324.2h0M624.5 1324.6h0M550.2 1326.0h0M553.0 1326.6h0M556.4 1327.1h0M559.5 1327.1h0M590.3 1327.2h0M560.8 1330.2h0M604.5 1329.1h0M614.5 1329.7h0M582.4 1333.2h0M601.6 1335.8h0M568.7 1341.6h0M600.6 1341.5h0M614.2 1341.3h0M616.9 1341.5h0M579.8 1343.7h0M592.8 1344.2h0M580.6 1346.9h0M601.0 1346.4h0M601.0 1292.4h0M620.1 1347.5h0M586.3 1240.4h0M583.6 1246.3h0M608.6 1268.8h0M598.3 1278.2h0" stroke="#f3724e"/><path d="M528.0 1332.0h0M556.6 1298.5h0M543.8 1303.9h0M547.0 1303.1h0M554.5 1306.1h0M552.8 1309.8h0M560.1 1308.8h0M573.6 1309.7h0M580.1 1309.6h0M591.9 1312.8h0M567.2 1315.3h0M577.0 1315.4h0M552.1 1317.6h0M577.3 1317.9h0M582.1 1317.7h0M608.1 1319.0h0M550.1 1320.3h0M553.8 1320.3h0M589.3 1320.5h0M615.5 1320.9h0M618.7 1320.4h0M574.1 1324.1h0M608.4 1323.6h0M562.6 1326.4h0M566.8 1327.2h0M576.6 1326.3h0M595.9 1326.8h0M623.2 1327.4h0M581.0 1329.5h0M591.8 1329.0h0M607.5 1330.3h0M556.4 1332.9h0M576.8 1331.6h0M602.1 1332.8h0M607.2 1335.0h0M597.0 1338.4h0M602.6 1338.9h0M615.9 1338.5h0M597.1 1341.3h0M589.9 1343.9h0M596.9 1343.2h0M600.1 1344.3h0M612.5 1344.4h0M584.2 1346.0h0M588.7 1346.0h0M573.1 1349.8h0M602.7 1349.9h0M613.5 1350.0h0M593.3 1355.8h0M604.3 1326.0h0M608.8 1328.4h0M623.5 1334.1h0M588.7 1342.5h0M605.4 1345.3h0M600.5 1348.3h0M609.3 1351.5h0" stroke="#ef6548"/><path d="M558.3 1295.0h0M566.1 1297.5h0M541.9 1301.8h0M548.3 1301.4h0M560.1 1303.1h0M571.2 1312.8h0M580.9 1312.2h0M610.5 1312.0h0M595.5 1315.3h0M612.9 1320.9h0M548.0 1323.2h0M565.3 1323.4h0M571.0 1323.1h0M591.2 1323.5h0M593.7 1326.6h0M609.1 1327.4h0M575.5 1330.2h0M566.8 1333.3h0M591.2 1335.2h0M620.9 1341.2h0M572.3 1344.5h0M616.6 1344.1h0M578.3 1346.0h0M570.1 1350.1h0M581.1 1352.1h0M587.7 1352.8h0M590.6 1353.3h0M608.1 1351.7h0M608.4 1325.6h0M614.0 1325.8h0M595.5 1328.6h0M597.1 1334.6h0M600.7 1337.8h0M592.7 1340.5h0M595.6 1339.2h0M594.4 1343.5h0M611.3 1343.3h0M617.1 1343.5h0M603.9 1349.0h0M608.5 1348.6h0M617.6 1348.4h0M596.6 1352.0h0M598.8 1354.9h0M602.0 1354.2h0" stroke="#e7533a"/><path d="M557.4 1303.5h0M576.9 1303.9h0M581.4 1306.8h0M586.9 1309.2h0M567.7 1312.8h0M547.1 1315.6h0M556.3 1314.9h0M610.0 1315.3h0M612.0 1315.6h0M620.1 1316.1h0M623.1 1315.4h0M544.5 1317.7h0M587.7 1318.4h0M567.2 1321.0h0M573.8 1321.6h0M604.3 1323.1h0M569.1 1326.4h0M579.8 1327.5h0M615.2 1327.0h0M578.2 1329.6h0M620.2 1329.0h0M606.9 1332.1h0M609.3 1332.6h0M615.0 1335.1h0M580.4 1337.5h0M589.5 1338.8h0M620.1 1338.3h0M584.8 1340.2h0M591.3 1340.6h0M598.0 1346.5h0M596.8 1349.6h0M600.0 1350.0h0M605.5 1350.3h0M608.8 1349.8h0M596.6 1355.4h0M602.9 1328.1h0M605.9 1328.4h0M625.2 1327.9h0M591.1 1331.0h0M588.9 1335.1h0M626.3 1334.3h0M605.1 1337.6h0M589.4 1339.6h0M607.5 1343.0h0M610.2 1345.1h0M614.7 1347.8h0M592.3 1352.0h0" stroke="#df422d"/><path d="M548.3 1306.9h0M558.2 1306.7h0M575.2 1305.9h0M578.5 1306.4h0M544.2 1309.8h0M556.9 1309.8h0M551.2 1312.5h0M575.3 1312.5h0M562.6 1314.7h0M616.5 1315.6h0M568.1 1318.0h0M601.3 1318.8h0M546.6 1320.4h0M603.5 1321.7h0M600.7 1324.4h0M547.2 1326.3h0M572.0 1329.7h0M601.9 1330.1h0M560.7 1332.7h0M589.9 1332.6h0M561.8 1336.1h0M580.7 1334.8h0M624.2 1335.9h0M605.9 1338.1h0M608.3 1341.6h0M586.5 1344.5h0M571.8 1346.6h0M579.2 1349.1h0M601.9 1352.1h0M615.3 1328.4h0M600.9 1331.7h0M620.9 1330.6h0M613.5 1335.0h0M615.7 1334.6h0M595.3 1336.5h0M598.2 1336.7h0M614.2 1336.7h0M617.6 1337.7h0M621.0 1337.0h0M622.4 1339.5h0M591.1 1349.4h0M610.9 1348.8h0M603.4 1350.7h0" stroke="#d7301f"/><path d="M549.7 1298.2h0M560.4 1297.6h0M552.0 1300.3h0M557.9 1301.5h0M562.1 1300.8h0M572.5 1303.4h0M564.8 1307.2h0M550.3 1309.6h0M569.6 1309.1h0M585.0 1313.2h0M597.6 1311.6h0M586.4 1314.6h0M599.7 1315.0h0M559.8 1320.4h0M564.0 1321.4h0M580.5 1321.2h0M545.8 1323.3h0M555.5 1323.3h0M594.7 1323.3h0M573.1 1327.3h0M612.2 1326.7h0M568.9 1329.7h0M584.8 1329.2h0M616.0 1333.2h0M574.1 1335.7h0M578.3 1335.8h0M617.8 1335.6h0M575.8 1343.9h0M606.3 1343.7h0M614.6 1346.4h0M600.2 1356.1h0M620.6 1325.3h0M608.2 1331.2h0M610.9 1331.6h0M624.4 1332.0h0M602.5 1334.3h0M587.7 1336.5h0M608.4 1336.7h0M611.4 1337.3h0M612.5 1340.7h0M619.8 1340.8h0M597.8 1343.1h0M604.1 1343.1h0M593.5 1346.2h0M599.3 1345.8h0M613.0 1346.1h0M597.5 1349.2h0M604.3 1354.0h0" stroke="#cb2015"/><path d="M542.7 1298.9h0M565.4 1300.6h0M551.3 1307.0h0M576.6 1309.9h0M562.4 1312.9h0M541.9 1318.4h0M558.4 1317.6h0M556.9 1320.9h0M576.6 1321.1h0M586.7 1320.9h0M568.8 1324.6h0M552.2 1330.2h0M598.6 1329.5h0M563.3 1333.0h0M573.8 1332.8h0M578.4 1341.2h0M594.5 1347.2h0M583.9 1352.7h0M604.7 1352.6h0M601.5 1325.0h0M617.1 1326.1h0M593.2 1328.3h0M620.0 1327.9h0M614.1 1332.2h0M628.2 1331.0h0M618.6 1334.2h0M600.1 1339.4h0M614.4 1343.4h0M602.5 1346.0h0" stroke="#bf100a"/><path d="M541.2 1305.9h0M547.3 1308.9h0M566.9 1310.2h0M542.4 1311.8h0M549.2 1312.4h0M555.5 1311.9h0M560.4 1314.7h0M555.6 1317.5h0M579.4 1333.0h0M586.5 1331.9h0M592.7 1338.2h0M575.3 1340.9h0M581.6 1341.0h0M603.8 1346.3h0M610.9 1326.3h0M599.5 1328.6h0M613.2 1329.2h0M618.5 1331.3h0M624.1 1337.1h0M609.9 1339.5h0M592.1 1342.9h0M620.2 1343.4h0M589.0 1345.9h0M593.9 1349.0h0M599.9 1351.2h0" stroke="#b30000"/><path d="M564.5 1335.3h0M567.5 1346.6h0M598.3 1325.8h0M623.1 1329.2h0M595.3 1330.7h0M598.2 1331.1h0M603.8 1331.5h0M605.8 1334.0h0M610.3 1334.9h0M591.4 1336.9h0M606.5 1340.2h0M615.3 1340.5h0M600.8 1343.6h0M596.9 1346.5h0M615.4 1346.4h0M619.7 1345.6h0M606.0 1351.9h0M612.0 1352.1h0" stroke="#a20000"/><path d="M593.6 1334.1h0M599.0 1334.1h0M603.1 1339.7h0" stroke="#900000"/></g></g>
<text transform="translate(493.81 1665.00) scale(1.0048 1)" font-family='"Liberation Sans",Arial,sans-serif' font-weight="bold" font-size="38.14" fill="#000">KCNMA1</text>
<text transform="translate(509.57 1985.00) scale(0.8828 1)" font-family='"Liberation Sans",Arial,sans-serif' font-weight="bold" font-size="59.71" fill="#000">K</text>
<text transform="translate(624.68 2039.30) scale(0.9413 1)" font-family='"Liberation Sans",Arial,sans-serif' font-weight="bold" font-size="28.60" fill="#000">umap1</text>
<text transform="translate(469.30 1867.78) rotate(-90) scale(0.9383 1)" font-family='"Liberation Sans",Arial,sans-serif' font-weight="bold" font-size="29.00">umap2</text>
<rect x="606.0" y="2063.0" width="246.7" height="19.0" fill="url(#cb)"/>
<path d="M606.0 2063.0v3.8M606.0 2082.0v-3.8M682.8 2063.0v3.8M682.8 2082.0v-3.8M758.0 2063.0v3.8M758.0 2082.0v-3.8M834.2 2063.0v3.8M834.2 2082.0v-3.8" stroke="#fff" stroke-width="0.8" opacity="0.45"/>
<g font-family='"Liberation Sans",Arial,sans-serif' font-size="21.5" text-anchor="middle"><text x="606.0" y="2105.4">0</text><text x="682.8" y="2105.4">1</text><text x="758.0" y="2105.4">2</text><text x="834.2" y="2105.4">3</text></g>
<path d="M930.7 1635.8 V2014.5 H1324.3" stroke="#333" stroke-width="1.6" fill="none"/>
<g transform="matrix(1.04421 0 0 1.04422 431.162 441.786)"><use xlink:href="#base"/><use xlink:href="#hl"/><g stroke-width="4.10" stroke-linecap="round" fill="none"><path d="M568.2 1328.9h0" stroke="#fff7ec"/><path d="M784.8 1219.5h0M780.7 1222.6h0M771.9 1231.0h0M608.0 1353.2h0M512.6 1306.0h0M545.2 1316.3h0" stroke="#fff2e0"/><path d="M769.1 1214.0h0M768.7 1231.7h0M756.7 1234.5h0M789.7 1240.3h0" stroke="#feedd4"/><path d="M760.9 1216.6h0M766.3 1223.6h0M777.6 1225.2h0M800.8 1225.6h0M766.8 1229.3h0M799.0 1249.2h0M779.0 1254.4h0M787.5 1256.8h0M771.6 1265.5h0M806.7 1185.9h0M773.6 1196.3h0M549.2 1295.0h0" stroke="#fee8c8"/><path d="M735.0 1162.1h0M742.9 1177.5h0M746.2 1188.2h0M753.4 1194.0h0M745.4 1197.4h0M753.4 1204.5h0M781.0 1225.8h0M789.6 1227.9h0M768.7 1237.9h0M781.6 1266.2h0M777.5 1280.6h0M772.3 1288.2h0M772.4 1243.7h0M797.5 1252.8h0M782.7 1260.7h0M785.8 1261.2h0M795.4 1267.2h0M813.5 1196.3h0M806.9 1202.5h0" stroke="#fee1ba"/><path d="M722.7 1153.7h0M739.4 1168.1h0M738.3 1173.1h0M745.6 1184.9h0M779.9 1240.7h0M783.0 1239.9h0M799.4 1239.3h0M777.7 1242.5h0M763.0 1250.6h0M771.3 1253.9h0M793.4 1263.1h0M759.1 1265.1h0M777.3 1274.1h0M775.9 1300.2h0M794.4 1246.9h0M778.5 1256.2h0M781.3 1258.5h0M786.7 1264.0h0M757.4 1162.5h0M582.5 1338.8h0M596.7 1350.2h0" stroke="#fddbac"/><path d="M735.3 1170.5h0M745.5 1162.3h0M739.4 1164.5h0M733.3 1171.8h0M747.2 1176.2h0M763.2 1211.3h0M790.4 1217.9h0M777.6 1223.3h0M796.8 1228.4h0M773.2 1233.6h0M759.1 1237.0h0M801.1 1236.8h0M779.9 1246.3h0M799.4 1245.1h0M765.9 1248.4h0M792.7 1268.4h0M773.1 1280.7h0M787.7 1294.9h0M778.3 1258.2h0M778.1 1263.7h0M790.4 1264.9h0M793.4 1264.1h0M766.5 1173.5h0M574.1 1323.1h0" stroke="#fdd49e"/><path d="M723.6 1151.6h0M729.2 1158.9h0M728.1 1162.5h0M728.6 1167.7h0M735.6 1174.4h0M750.0 1176.3h0M744.9 1190.2h0M748.9 1190.7h0M751.9 1201.8h0M761.3 1214.3h0M803.4 1229.4h0M801.2 1231.0h0M787.0 1235.1h0M782.0 1236.6h0M753.8 1251.5h0M760.4 1251.6h0M805.8 1252.0h0M791.6 1260.8h0M796.4 1274.6h0M778.7 1276.4h0M781.1 1277.4h0M795.1 1277.2h0M766.2 1279.5h0M783.2 1291.2h0M783.2 1266.4h0M763.8 1196.4h0M799.7 1207.7h0" stroke="#fdcc95"/><path d="M736.8 1160.4h0M725.1 1162.1h0M731.9 1162.6h0M742.8 1171.0h0M742.0 1190.2h0M757.8 1201.8h0M797.8 1220.7h0M756.9 1223.2h0M764.8 1231.2h0M784.2 1243.4h0M790.5 1256.9h0M776.4 1263.7h0M773.0 1302.6h0M775.3 1244.6h0M774.8 1247.2h0M780.8 1247.1h0M791.7 1250.0h0M822.1 1199.2h0M813.5 1202.2h0M787.6 1207.8h0M810.1 1214.5h0" stroke="#fdc38d"/><path d="M730.2 1168.2h0M740.9 1160.1h0M746.4 1159.4h0M741.5 1162.5h0M731.7 1173.7h0M744.9 1180.3h0M757.1 1210.9h0M757.4 1216.7h0M770.0 1223.1h0M793.8 1222.1h0M776.8 1235.1h0M760.5 1239.8h0M789.0 1242.4h0M773.5 1262.1h0M763.7 1268.6h0M777.1 1268.2h0M789.8 1280.0h0M788.7 1250.5h0M789.8 1267.5h0M815.7 1182.0h0M777.0 1191.7h0" stroke="#fdbb84"/><path d="M723.4 1156.4h0M725.4 1159.4h0M732.1 1165.7h0M734.8 1168.7h0M733.0 1170.5h0M748.9 1162.1h0M744.4 1168.3h0M737.2 1170.4h0M749.7 1199.8h0M758.7 1208.8h0M782.8 1216.4h0M783.8 1234.1h0M760.1 1245.3h0M766.2 1263.6h0M788.7 1266.3h0M801.6 1277.6h0M757.2 1280.4h0M764.7 1294.0h0M792.3 1256.4h0M799.6 1261.2h0M780.3 1264.0h0M784.8 1269.8h0M755.6 1165.6h0M808.9 1234.1h0" stroke="#fdac76"/><path d="M727.6 1158.9h0M737.0 1165.7h0M747.9 1168.2h0M749.5 1187.6h0M799.4 1223.1h0M803.0 1240.3h0M767.1 1251.4h0M763.4 1263.6h0M784.3 1272.1h0M780.0 1280.7h0M787.4 1285.8h0M794.8 1288.8h0M770.7 1296.5h0M785.4 1250.6h0M783.6 1257.7h0M788.8 1261.8h0M785.5 1266.3h0M799.8 1267.8h0M769.6 1165.4h0" stroke="#fc9c67"/><path d="M732.2 1156.5h0M741.1 1156.2h0M744.2 1165.3h0M747.2 1182.4h0M749.3 1182.7h0M738.8 1184.6h0M772.0 1226.1h0M761.0 1228.7h0M782.9 1227.8h0M797.9 1231.7h0M803.2 1234.4h0M793.7 1245.1h0M782.8 1256.6h0M770.1 1263.5h0M770.9 1268.7h0M775.8 1282.3h0M784.9 1252.9h0" stroke="#fc8d59"/><path d="M734.7 1157.3h0M726.2 1165.0h0M735.7 1180.1h0M748.0 1196.4h0M807.9 1237.2h0M768.3 1271.8h0M774.9 1271.8h0M763.6 1280.6h0M797.7 1282.6h0M784.4 1294.4h0M802.5 1255.4h0M793.8 1259.2h0M797.9 1264.3h0M798.0 1200.1h0M816.0 1208.8h0M789.2 1210.7h0M814.1 1231.8h0" stroke="#f88053"/><path d="M783.5 1250.8h0M788.6 1254.3h0M793.1 1256.5h0M778.2 1259.6h0M779.2 1272.3h0M772.1 1282.4h0M781.7 1287.9h0M775.7 1294.7h0M781.6 1299.8h0M799.0 1250.5h0M786.6 1259.3h0" stroke="#f3724e"/><path d="M784.7 1265.6h0M758.6 1271.4h0M794.9 1282.5h0M796.2 1286.5h0M771.9 1299.6h0M791.7 1261.2h0" stroke="#ef6548"/><path d="M735.2 1177.0h0M738.0 1179.9h0M745.5 1189.6h0M749.1 1212.2h0M779.4 1297.3h0M784.9 1300.1h0M781.7 1243.8h0M800.8 1253.5h0M779.9 1260.8h0M784.3 1264.2h0M779.1 1267.0h0" stroke="#e7533a"/><path d="M735.9 1189.2h0M746.5 1202.6h0M788.4 1243.9h0" stroke="#df422d"/><path d="M730.3 1179.7h0M737.9 1185.2h0M745.4 1194.1h0M743.6 1196.9h0M750.4 1203.1h0M790.6 1247.3h0M782.7 1250.7h0M790.5 1270.6h0" stroke="#d7301f"/><path d="M732.1 1176.6h0M740.8 1179.8h0M742.2 1188.8h0M749.6 1206.2h0" stroke="#cb2015"/><path d="M745.9 1205.4h0M752.0 1211.1h0" stroke="#bf100a"/><path d="M733.1 1183.8h0M741.0 1191.5h0M747.2 1191.6h0M744.7 1200.8h0M752.1 1206.6h0M747.8 1209.5h0" stroke="#b30000"/><path d="M738.6 1182.7h0M739.0 1188.2h0M748.6 1201.0h0" stroke="#a20000"/><path d="M738.5 1177.7h0M734.1 1180.3h0M736.6 1191.9h0M738.3 1195.2h0M741.2 1197.4h0M749.9 1198.2h0M743.9 1203.2h0" stroke="#900000"/><path d="M743.0 1182.8h0M751.2 1208.6h0" stroke="#7f0000"/></g></g>
<text transform="translate(937.89 1663.70) scale(0.9735 1)" font-family='"Liberation Sans",Arial,sans-serif' font-weight="bold" font-size="38.14" fill="#000">KCNJ2</text>
<text transform="translate(943.84 1984.40) scale(0.8778 1)" font-family='"Liberation Sans",Arial,sans-serif' font-weight="bold" font-size="58.84" fill="#000">L</text>
<text transform="translate(1081.11 2041.96) scale(0.9422 1)" font-family='"Liberation Sans",Arial,sans-serif' font-weight="bold" font-size="29.86" fill="#000">umap1</text>
<text transform="translate(918.90 1863.11) rotate(-90) scale(0.9390 1)" font-family='"Liberation Sans",Arial,sans-serif' font-weight="bold" font-size="30.28">umap2</text>
<rect x="1047.8" y="2068.0" width="257.6" height="19.5" fill="url(#cb)"/>
<path d="M1047.8 2068.0v3.9M1047.8 2087.5v-3.9M1122.8 2068.0v3.9M1122.8 2087.5v-3.9M1198.1 2068.0v3.9M1198.1 2087.5v-3.9M1272.9 2068.0v3.9M1272.9 2087.5v-3.9" stroke="#fff" stroke-width="0.8" opacity="0.45"/>
<g font-family='"Liberation Sans",Arial,sans-serif' font-size="21.5" text-anchor="middle"><text x="1047.8" y="2110.9">0</text><text x="1122.8" y="2110.9">1</text><text x="1198.1" y="2110.9">2</text><text x="1272.9" y="2110.9">3</text></g>
<path d="M1365.4 1635.8 V2013.0 H1742.0" stroke="#333" stroke-width="1.6" fill="none"/>
<g transform="matrix(0.99769 0 0 1.00000 887.142 506.400)"><use xlink:href="#base"/><use xlink:href="#hl"/><g stroke-width="4.10" stroke-linecap="round" fill="none"><path d="M525.0 1300.7h0M525.9 1303.0h0" stroke="#fff7ec"/><path d="M522.5 1317.4h0M507.2 1303.7h0M508.0 1306.6h0M515.5 1307.3h0M514.2 1311.8h0M534.1 1313.0h0M538.5 1318.3h0M554.0 1273.4h0M560.0 1272.1h0M555.0 1275.9h0M583.9 1289.4h0M605.4 1299.3h0M581.2 1214.2h0M579.9 1229.4h0M588.6 1237.5h0M541.5 1243.6h0M592.4 1252.4h0M598.9 1251.6h0M544.2 1260.0h0M584.4 1260.3h0M608.7 1275.0h0M599.2 1279.9h0M799.2 1246.5h0" stroke="#fff2e0"/><path d="M507.8 1290.5h0M498.5 1301.9h0M543.8 1308.6h0M501.9 1301.5h0M508.8 1300.3h0M520.9 1301.6h0M498.2 1306.3h0M521.3 1306.6h0M525.2 1307.3h0M499.1 1309.4h0M510.3 1308.9h0M519.2 1309.6h0M525.3 1312.3h0M503.7 1315.6h0M546.1 1315.7h0M533.8 1317.6h0M510.0 1320.9h0M532.6 1320.6h0M539.3 1320.6h0M528.8 1326.7h0M564.3 1278.8h0M575.0 1281.8h0M590.7 1283.9h0M594.5 1287.2h0M566.4 1290.1h0M597.3 1289.8h0M583.3 1294.9h0M579.0 1304.6h0M587.3 1307.5h0M580.6 1220.7h0M563.0 1234.7h0M601.1 1237.4h0M573.4 1240.9h0M557.4 1249.4h0M537.6 1255.4h0M564.7 1254.3h0M568.6 1255.6h0M546.7 1269.5h0M576.1 1269.3h0M546.4 1275.2h0" stroke="#feedd4"/><path d="M516.3 1294.3h0M525.7 1300.1h0M535.0 1302.4h0M499.7 1297.9h0M506.7 1298.2h0M495.9 1303.5h0M512.9 1304.5h0M511.4 1306.8h0M503.1 1309.8h0M518.4 1312.3h0M537.5 1312.9h0M544.5 1312.0h0M522.9 1315.0h0M508.1 1318.7h0M512.5 1321.0h0M512.0 1323.8h0M527.6 1323.7h0M533.1 1326.5h0M527.4 1334.9h0M549.8 1266.3h0M555.4 1270.3h0M567.3 1278.6h0M574.3 1279.0h0M585.8 1281.5h0M610.6 1307.6h0M613.4 1306.6h0M594.9 1309.4h0M612.7 1352.6h0M593.3 1228.8h0M568.1 1232.7h0M549.6 1234.6h0M579.7 1246.2h0M604.5 1249.2h0M538.0 1272.1h0M611.2 1278.0h0M602.4 1286.8h0" stroke="#fee8c8"/><path d="M521.3 1286.2h0M522.2 1287.8h0M521.1 1319.2h0M516.4 1327.9h0M523.7 1328.2h0M530.4 1328.2h0M535.6 1327.6h0M503.9 1297.6h0M511.2 1301.1h0M517.8 1301.0h0M529.2 1303.4h0M501.9 1306.8h0M530.3 1310.1h0M543.3 1310.2h0M500.9 1312.6h0M508.5 1312.3h0M510.7 1317.4h0M523.8 1318.2h0M541.2 1318.3h0M543.6 1317.9h0M545.0 1324.0h0M512.9 1327.3h0M542.0 1326.4h0M535.2 1329.4h0M522.9 1332.9h0M559.1 1269.3h0M557.3 1278.2h0M564.6 1281.9h0M555.6 1286.4h0M560.5 1290.0h0M571.8 1293.3h0M579.0 1224.4h0M585.8 1222.8h0M591.6 1226.3h0M585.5 1229.3h0M587.3 1232.7h0M604.4 1231.5h0M570.0 1240.8h0M594.1 1249.1h0M612.9 1251.7h0M579.3 1257.1h0M609.1 1258.2h0M588.3 1260.8h0M547.0 1263.7h0M591.9 1265.8h0M542.4 1271.6h0M596.4 1274.9h0M607.4 1277.3h0" stroke="#fee1ba"/><path d="M516.7 1287.7h0M515.0 1296.8h0M498.1 1301.7h0M503.1 1303.5h0M532.2 1303.8h0M512.7 1309.3h0M515.6 1309.3h0M536.8 1310.3h0M539.0 1310.2h0M527.5 1312.1h0M535.4 1314.6h0M517.7 1324.2h0M531.4 1324.5h0M533.9 1324.1h0M537.4 1328.8h0M519.7 1332.5h0M529.7 1332.0h0M532.5 1332.4h0M523.9 1334.4h0M546.9 1304.3h0M571.9 1307.0h0M585.6 1308.9h0M554.6 1317.6h0M569.9 1321.0h0M582.2 1343.8h0M585.1 1287.0h0M587.3 1296.3h0M605.9 1296.4h0M597.6 1298.9h0M584.9 1303.9h0M587.7 1303.8h0M563.4 1229.9h0M585.4 1231.8h0M604.4 1237.1h0M544.8 1243.6h0M565.7 1246.1h0M597.9 1249.1h0M611.7 1255.2h0M549.8 1257.3h0M593.3 1258.6h0M567.7 1260.7h0M601.2 1261.2h0M608.3 1260.5h0M605.5 1269.4h0M588.2 1271.9h0" stroke="#fddbac"/><path d="M502.0 1285.3h0M505.5 1302.0h0M532.9 1305.2h0M509.5 1316.8h0M499.3 1304.3h0M510.5 1303.2h0M519.7 1303.6h0M539.5 1304.5h0M522.5 1310.1h0M521.6 1313.2h0M530.0 1314.7h0M516.8 1321.2h0M535.8 1320.8h0M543.3 1320.9h0M524.8 1323.5h0M525.9 1326.1h0M535.7 1325.9h0M529.1 1338.1h0M563.1 1298.1h0M552.6 1303.6h0M572.5 1304.7h0M549.9 1309.3h0M559.7 1309.2h0M591.5 1312.4h0M556.2 1314.7h0M589.4 1315.7h0M600.0 1315.2h0M609.7 1314.9h0M545.8 1317.5h0M562.4 1318.5h0M567.6 1317.7h0M618.7 1321.3h0M555.6 1323.4h0M578.2 1324.6h0M582.2 1323.4h0M601.0 1323.8h0M614.4 1323.7h0M617.6 1323.4h0M623.6 1323.9h0M552.7 1327.2h0M572.4 1326.5h0M602.9 1326.8h0M612.0 1327.4h0M555.5 1328.9h0M590.9 1329.6h0M566.1 1332.2h0M589.2 1333.0h0M621.1 1340.9h0M589.3 1344.3h0M575.8 1348.9h0M605.2 1351.8h0M548.9 1264.4h0M552.1 1270.7h0M557.3 1289.5h0M555.2 1292.3h0M602.2 1304.2h0M600.7 1306.7h0M604.7 1309.3h0M618.1 1350.3h0M567.6 1226.1h0M600.4 1232.3h0M602.0 1235.5h0M551.5 1237.9h0M556.4 1240.5h0M606.0 1241.2h0M564.7 1243.7h0M591.0 1249.9h0M592.4 1263.7h0M581.7 1266.1h0M579.7 1269.7h0M609.7 1286.7h0" stroke="#fdd49e"/><path d="M523.8 1308.2h0M508.8 1320.6h0M524.3 1319.9h0M504.7 1301.1h0M514.3 1300.5h0M542.4 1303.2h0M531.8 1306.1h0M538.4 1306.0h0M544.0 1307.2h0M507.0 1309.3h0M506.4 1314.8h0M516.3 1314.5h0M520.4 1315.3h0M515.0 1318.7h0M521.8 1318.5h0M545.4 1321.6h0M523.4 1325.9h0M528.6 1329.6h0M553.8 1298.1h0M545.8 1300.6h0M545.8 1306.5h0M568.0 1312.8h0M584.0 1312.9h0M610.3 1312.0h0M617.3 1312.5h0M581.1 1318.9h0M595.0 1318.0h0M602.1 1320.8h0M609.7 1320.6h0M563.2 1326.5h0M603.7 1328.9h0M599.9 1332.5h0M610.2 1332.6h0M623.0 1333.2h0M589.2 1338.0h0M595.1 1340.8h0M590.8 1346.7h0M588.2 1352.1h0M572.2 1275.6h0M550.3 1278.4h0M568.4 1280.9h0M600.9 1293.2h0M580.5 1301.9h0M576.6 1218.3h0M584.7 1220.3h0M577.3 1232.8h0M561.3 1237.9h0M584.1 1238.4h0M595.0 1237.5h0M551.1 1249.4h0M580.4 1248.7h0M547.2 1251.8h0M541.0 1254.2h0M608.0 1267.0h0M611.1 1284.0h0" stroke="#fdcc95"/><path d="M523.7 1283.4h0M505.4 1306.8h0M526.9 1309.0h0M504.0 1311.7h0M511.8 1312.7h0M530.7 1312.3h0M540.4 1312.7h0M517.8 1318.3h0M519.1 1321.2h0M523.5 1321.4h0M525.6 1321.3h0M540.1 1327.1h0M525.5 1331.7h0M567.7 1300.3h0M555.7 1306.7h0M559.0 1307.3h0M567.4 1306.5h0M576.8 1310.0h0M541.8 1312.1h0M571.6 1312.1h0M614.1 1311.8h0M584.2 1317.8h0M614.6 1317.5h0M555.9 1320.2h0M572.4 1320.3h0M599.4 1320.6h0M606.0 1321.4h0M587.9 1324.4h0M621.6 1323.4h0M556.0 1326.2h0M605.9 1326.6h0M602.9 1332.0h0M591.8 1334.8h0M595.1 1334.7h0M598.7 1336.1h0M603.8 1335.2h0M584.1 1340.3h0M566.7 1344.7h0M599.9 1343.1h0M593.0 1349.0h0M599.7 1354.9h0M554.4 1261.0h0M555.6 1264.3h0M565.3 1269.5h0M573.0 1272.9h0M580.5 1273.2h0M581.2 1275.4h0M553.6 1278.6h0M548.5 1281.0h0M565.0 1292.2h0M582.0 1292.0h0M604.2 1295.0h0M590.8 1307.3h0M617.1 1307.0h0M614.2 1350.6h0M571.0 1220.9h0M548.0 1237.7h0M582.1 1240.7h0M543.7 1246.4h0M576.2 1246.9h0M598.9 1247.2h0M544.9 1254.8h0M576.0 1257.2h0M560.9 1261.6h0M606.6 1275.4h0" stroke="#fdc38d"/><path d="M504.0 1317.8h0M527.6 1318.8h0M538.5 1324.4h0M520.1 1326.6h0M517.7 1328.9h0M548.0 1306.0h0M543.2 1309.7h0M553.1 1309.8h0M547.8 1312.9h0M564.8 1311.9h0M574.8 1313.1h0M552.5 1314.6h0M541.4 1317.4h0M557.5 1318.0h0M605.3 1318.6h0M592.1 1321.5h0M610.1 1326.4h0M550.9 1330.0h0M595.0 1330.2h0M614.2 1329.7h0M624.9 1329.1h0M560.7 1332.0h0M612.0 1331.8h0M569.0 1335.7h0M607.1 1335.3h0M602.6 1338.3h0M569.3 1344.1h0M568.0 1346.3h0M599.2 1349.0h0M596.7 1354.7h0M569.6 1266.4h0M564.6 1276.3h0M584.9 1275.1h0M562.2 1282.1h0M624.4 1337.9h0M616.2 1347.7h0M576.6 1235.7h0M598.1 1237.3h0M550.3 1252.9h0M599.0 1285.9h0" stroke="#fdbb84"/><path d="M552.3 1294.8h0M575.3 1307.2h0M608.1 1312.0h0M550.3 1314.6h0M551.0 1317.4h0M564.9 1317.8h0M587.7 1317.5h0M564.9 1324.0h0M595.1 1323.1h0M579.1 1327.1h0M585.5 1326.0h0M588.9 1326.6h0M621.9 1326.2h0M562.1 1329.1h0M572.2 1330.2h0M579.2 1332.6h0M581.8 1335.4h0M611.5 1334.6h0M621.0 1335.4h0M599.4 1337.4h0M619.2 1337.8h0M622.0 1337.7h0M565.6 1340.8h0M591.4 1340.5h0M607.3 1341.6h0M570.9 1347.4h0M588.6 1346.5h0M570.1 1349.7h0M551.5 1263.9h0M552.3 1276.5h0M592.2 1293.0h0M581.6 1297.9h0M593.4 1235.2h0M547.8 1243.0h0M592.1 1245.8h0M561.0 1249.5h0M536.6 1251.9h0M569.2 1251.9h0M546.9 1258.6h0M599.1 1257.5h0M574.3 1266.6h0M613.0 1274.9h0M601.7 1277.7h0" stroke="#fdac76"/><path d="M551.6 1301.6h0M546.6 1308.8h0M594.9 1311.9h0M563.0 1316.1h0M561.1 1323.7h0M571.8 1324.3h0M591.5 1324.6h0M559.9 1327.0h0M569.6 1327.3h0M588.4 1330.1h0M608.4 1329.9h0M619.3 1332.3h0M592.8 1338.7h0M574.4 1341.4h0M605.5 1343.9h0M578.3 1346.3h0M595.3 1331.7h0M601.1 1331.8h0M605.3 1332.1h0M607.2 1337.1h0M623.3 1339.7h0M595.9 1345.8h0M615.9 1345.2h0M597.2 1347.8h0M610.9 1348.4h0M618.0 1348.1h0M596.2 1352.0h0M602.2 1350.8h0M556.6 1261.8h0M562.2 1270.4h0M549.8 1284.9h0M575.4 1287.2h0M554.5 1289.4h0M576.6 1289.5h0M571.9 1297.9h0M575.6 1298.4h0M614.5 1303.5h0M602.2 1310.3h0M570.5 1224.1h0M566.4 1235.4h0M577.9 1238.6h0M588.1 1243.5h0M546.9 1247.3h0M540.0 1252.8h0M577.1 1251.9h0M582.6 1263.0h0M609.4 1269.0h0M606.8 1285.8h0" stroke="#fc9c67"/><path d="M547.6 1295.9h0M542.8 1298.0h0M558.1 1301.2h0M557.3 1304.3h0M560.0 1303.8h0M580.2 1309.8h0M583.5 1310.4h0M597.6 1313.0h0M542.7 1314.5h0M546.2 1315.5h0M580.2 1314.6h0M612.8 1314.7h0M547.4 1321.5h0M553.4 1320.3h0M576.0 1326.9h0M569.2 1331.7h0M605.5 1331.9h0M617.4 1335.8h0M577.1 1338.0h0M614.1 1340.4h0M576.3 1343.6h0M580.3 1344.1h0M604.6 1346.8h0M608.5 1347.0h0M610.9 1346.7h0M585.5 1349.8h0M596.0 1349.7h0M605.8 1349.3h0M588.9 1333.9h0M597.0 1333.6h0M616.0 1334.8h0M602.8 1339.2h0M612.4 1340.2h0M587.2 1343.7h0M604.8 1343.4h0M563.9 1267.7h0M547.9 1278.3h0M555.1 1281.3h0M575.1 1292.3h0M566.6 1296.3h0M610.7 1302.1h0M591.5 1310.2h0M608.9 1240.1h0M601.8 1242.8h0M537.6 1260.8h0M600.2 1272.3h0" stroke="#fc8d59"/><path d="M561.2 1295.9h0M557.2 1298.6h0M540.4 1304.6h0M550.0 1303.1h0M551.0 1313.2h0M554.6 1312.4h0M577.2 1316.1h0M593.5 1314.5h0M572.3 1318.6h0M579.7 1321.1h0M612.9 1321.2h0M622.5 1320.5h0M611.6 1324.1h0M546.7 1326.6h0M615.4 1327.2h0M586.5 1332.3h0M571.8 1335.1h0M600.9 1336.0h0M610.1 1337.8h0M616.6 1338.2h0M568.2 1340.6h0M571.1 1340.8h0M573.6 1350.1h0M603.8 1324.9h0M619.2 1329.2h0M621.6 1330.9h0M613.6 1334.5h0M588.8 1336.4h0M594.5 1337.3h0M607.7 1342.5h0M619.2 1345.6h0M605.2 1354.8h0" stroke="#f88053"/><path d="M564.6 1307.2h0M577.4 1307.5h0M560.6 1315.8h0M548.7 1317.5h0M624.9 1318.4h0M583.3 1327.0h0M599.7 1326.6h0M558.9 1329.5h0M621.1 1330.3h0M556.5 1332.8h0M616.3 1333.1h0M577.5 1335.5h0M598.6 1340.6h0M605.1 1341.0h0M572.7 1344.7h0M610.0 1343.5h0M574.2 1347.1h0M581.0 1347.3h0M601.1 1346.3h0M591.9 1352.1h0M592.6 1355.0h0M614.7 1325.9h0M592.1 1342.8h0M611.0 1343.0h0M592.5 1345.7h0M613.4 1345.1h0M607.9 1348.2h0M615.0 1349.4h0" stroke="#f3724e"/><path d="M559.0 1295.3h0M566.5 1297.7h0M548.0 1301.5h0M555.3 1300.9h0M561.6 1301.2h0M566.4 1304.2h0M541.7 1306.6h0M573.1 1309.3h0M618.6 1316.1h0M590.9 1318.6h0M610.8 1317.9h0M621.0 1318.7h0M566.0 1321.3h0M576.7 1320.5h0M545.5 1323.2h0M574.1 1323.1h0M584.5 1323.6h0M605.2 1324.5h0M601.8 1329.1h0M614.4 1334.5h0M624.7 1335.5h0M579.2 1338.7h0M618.3 1341.0h0M616.0 1343.5h0M598.3 1347.4h0M607.2 1352.6h0M600.6 1325.8h0M608.0 1331.0h0M627.6 1332.2h0M591.7 1337.6h0M603.9 1336.8h0M611.3 1337.4h0M617.5 1337.7h0M599.4 1340.8h0M597.2 1342.2h0M613.9 1343.5h0M617.6 1342.6h0M609.4 1345.1h0M594.3 1348.7h0M592.7 1352.1h0" stroke="#ef6548"/><path d="M554.8 1295.7h0M559.2 1297.9h0M564.4 1301.6h0M575.7 1304.1h0M566.1 1315.1h0M596.4 1315.2h0M575.3 1318.4h0M560.7 1321.8h0M597.4 1323.1h0M608.0 1323.2h0M550.0 1326.7h0M593.1 1327.3h0M596.2 1327.3h0M581.0 1329.9h0M617.8 1329.5h0M563.4 1333.2h0M606.5 1338.0h0M601.0 1340.8h0M594.7 1346.9h0M612.3 1350.1h0M581.8 1352.8h0M597.3 1353.0h0M616.0 1328.8h0M623.3 1328.3h0M599.0 1334.6h0" stroke="#e7533a"/><path d="M550.2 1298.9h0M570.8 1301.7h0M617.7 1318.9h0M583.8 1321.4h0M585.6 1320.4h0M596.4 1321.4h0M567.9 1323.2h0M574.5 1329.6h0M583.9 1329.5h0M610.3 1330.3h0M575.2 1335.3h0M587.7 1334.6h0M612.4 1338.2h0M582.0 1340.6h0M602.2 1343.9h0M612.2 1343.6h0M611.1 1325.9h0M597.1 1328.8h0M606.5 1329.0h0M591.0 1332.2h0M598.5 1331.2h0M611.9 1332.0h0M621.6 1336.6h0M623.5 1336.6h0M591.1 1348.1h0M613.0 1352.2h0" stroke="#df422d"/><path d="M608.5 1325.6h0M620.4 1326.1h0M617.3 1331.9h0M592.2 1334.0h0M622.6 1333.6h0M615.3 1340.4h0M594.6 1342.9h0M602.0 1343.6h0M621.3 1343.0h0M603.9 1347.9h0" stroke="#d7301f"/><path d="M602.3 1327.7h0M626.6 1327.8h0M614.9 1331.6h0M624.4 1330.9h0M601.8 1336.4h0M599.3 1345.8h0M600.6 1349.3h0M599.9 1351.6h0M609.0 1351.4h0" stroke="#cb2015"/><path d="M592.4 1329.2h0M599.3 1329.1h0M609.1 1328.0h0M612.7 1329.1h0M602.5 1334.5h0M598.4 1337.4h0M589.9 1339.8h0M596.9 1340.0h0M606.1 1340.2h0M590.5 1345.1h0M605.6 1346.0h0M605.5 1351.8h0" stroke="#bf100a"/><path d="M619.9 1333.7h0M626.5 1334.3h0M614.4 1337.5h0M592.8 1339.2h0M619.9 1339.9h0M603.0 1345.6h0M601.9 1354.3h0" stroke="#b30000"/></g></g>
<text transform="translate(1370.51 1663.70) scale(1.0057 1)" font-family='"Liberation Sans",Arial,sans-serif' font-weight="bold" font-size="38.14" fill="#000">KCNA5</text>
<text transform="translate(1379.52 1985.00) scale(1.0503 1)" font-family='"Liberation Sans",Arial,sans-serif' font-weight="bold" font-size="59.71" fill="#000">M</text>
<text transform="translate(1508.78 2039.30) scale(0.9413 1)" font-family='"Liberation Sans",Arial,sans-serif' font-weight="bold" font-size="28.60" fill="#000">umap1</text>
<text transform="translate(1354.10 1867.78) rotate(-90) scale(0.9383 1)" font-family='"Liberation Sans",Arial,sans-serif' font-weight="bold" font-size="29.00">umap2</text>
<rect x="1479.4" y="2063.0" width="245.4" height="19.5" fill="url(#cb)"/>
<path d="M1479.4 2063.0v3.9M1479.4 2082.5v-3.9M1556.2 2063.0v3.9M1556.2 2082.5v-3.9M1632.8 2063.0v3.9M1632.8 2082.5v-3.9M1709.4 2063.0v3.9M1709.4 2082.5v-3.9" stroke="#fff" stroke-width="0.8" opacity="0.45"/>
<g font-family='"Liberation Sans",Arial,sans-serif' font-size="21.5" text-anchor="middle"><text x="1479.4" y="2105.9">0</text><text x="1556.2" y="2105.9">1</text><text x="1632.8" y="2105.9">2</text><text x="1709.4" y="2105.9">3</text></g>
</svg></body></html>
